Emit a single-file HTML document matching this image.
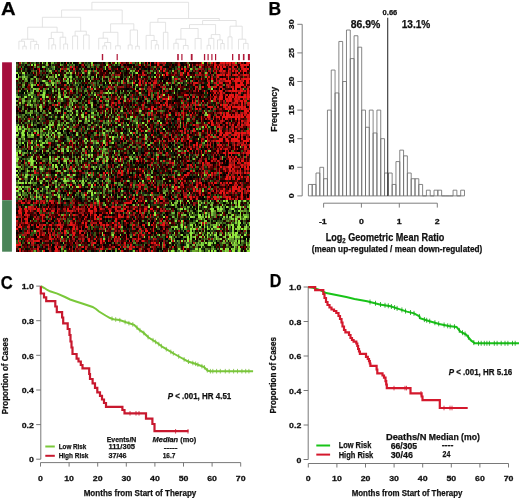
<!DOCTYPE html>
<html><head><meta charset="utf-8"><style>
html,body{margin:0;padding:0;background:#fff;overflow:hidden;}
svg{display:block;filter:blur(0.3px);}
svg text{font-family:"Liberation Sans",sans-serif;font-weight:bold;stroke:#111;stroke-width:0.25px;}
</style></head><body>
<svg width="520" height="498" viewBox="0 0 520 498">
<rect width="520" height="498" fill="#fff"/>
<path d="M22.8 49.5V46.2H26.2V49.5M18.9 49.5V41.2H24.5V46.2M34.8 49.5V44.5H38.5V49.5M30.7 49.5V41.3H36.7V44.5M21.7 41.2V39.2H33.7V41.3M51.9 49.5V44.8H55.6V49.5M48.8 49.5V38.5H53.7V44.8M63.7 49.5V44.0H67.6V49.5M60.1 49.5V37.2H65.7V44.0M51.3 38.5V32.3H62.9V37.2M27.7 39.2V27.2H57.1V32.3M72.6 49.5V36.0H77.6V49.5M83.6 49.5V35.0H89.1V49.5M75.1 36.0V31.2H86.3V35.0M42.4 27.2V17.3H80.7V31.2M102.8 49.5V45.9H106.5V49.5M104.7 45.9V42.5H110.7V49.5M98.7 49.5V38.2H107.7V42.5M115.6 49.5V45.8H120.3V49.5M103.2 38.2V32.3H117.9V45.8M128.2 49.5V45.0H132.1V49.5M135.7 49.5V46.2H139.3V49.5M130.2 45.0V30.0H137.5V46.2M110.6 32.3V23.8H133.8V30.0M61.6 17.3V10.0H122.2V23.8M155.3 49.5V44.8H158.6V49.5M151.3 49.5V40.5H156.9V44.8M146.1 49.5V35.4H154.1V40.5M163.4 49.5V32.3H167.9V49.5M150.1 35.4V22.3H165.6V32.3M173.8 49.5V43.3H178.2V49.5M183.4 49.5V45.5H188.1V49.5M176.0 43.3V39.2H185.7V45.5M195.1 49.5V38.5H201.1V49.5M180.9 39.2V28.5H198.1V38.5M207.1 49.5V45.3H210.5V49.5M208.8 45.3V38.4H213.8V49.5M220.8 49.5V43.5H224.2V49.5M217.5 49.5V39.9H222.5V43.5M211.3 38.4V34.6H220.0V39.9M189.5 28.5V24.6H215.6V34.6M228.0 49.5V36.9H232.0V49.5M243.6 49.5V43.4H248.1V49.5M238.5 49.5V39.2H245.8V43.4M230.0 36.9V26.2H242.2V39.2M202.6 24.6V20.5H236.1V26.2M157.9 22.3V18.5H219.3V20.5M91.9 10.0V2.3H188.6V18.5" fill="none" stroke="#dcdcdc" stroke-width="0.8"/>
<g fill="#b01838"><rect x="101.8" y="54" width="1.4" height="6.2"/><rect x="116.6" y="54" width="1.2" height="6.2"/><rect x="177.2" y="54" width="1.6" height="6.2"/><rect x="181.3" y="54" width="1.2" height="6.2"/><rect x="190.8" y="54" width="1.8" height="6.2"/><rect x="203.9" y="54" width="1.3" height="6.2"/><rect x="207.5" y="54" width="1.2" height="6.2"/><rect x="211.3" y="54" width="1.2" height="6.2"/><rect x="215.0" y="54" width="1.2" height="6.2"/><rect x="232.0" y="54" width="1.3" height="6.2"/><rect x="238.2" y="54" width="1.6" height="6.2"/><rect x="242.9" y="54" width="1.6" height="6.2"/><rect x="247.9" y="54" width="2.0" height="6.2"/></g>
<rect x="2.1" y="62.3" width="9.8" height="137.9" fill="#a50e3c"/>
<rect x="2.1" y="200.2" width="9.8" height="51.5" fill="#4a8458"/>
<g shape-rendering="crispEdges" fill="none" stroke-width="2" style="filter:blur(0.7px)"><path stroke="rgb(0, 0, 0)" d="M64 63h1.5m7.5 0h3m19.5 0h1.5m6 0h1.5m4.5 0h1.5m37.5 0h1.5m1.5 0h3m27 0h1.5m61.5 0h1.5M32.5 65h1.5m15 0h1.5m24 0h1.5m3 0h1.5m3 0h1.5m19.5 0h1.5m13.5 0h1.5m3 0h1.5m1.5 0h1.5m1.5 0h1.5m1.5 0h1.5m6 0h1.5m9 0h3m1.5 0h1.5m15 0h1.5m7.5 0h3m1.5 0h1.5m51 0h1.5M59.5 67h1.5m13.5 0h1.5m3 0h1.5m4.5 0h1.5m31.5 0h1.5m22.5 0h1.5m22.5 0h3m13.5 0h1.5m1.5 0h1.5m3 0h1.5m55.5 0h1.5M23.5 69h1.5m9 0h3m3 0h3m1.5 0h1.5m25.5 0h1.5m18 0h1.5m45 0h1.5m4.5 0h3m1.5 0h1.5m9 0h1.5m13.5 0h1.5m48 0h1.5m15 0h1.5m7.5 0h1.5M28 71h3m72 0h3m1.5 0h1.5m10.5 0h1.5m4.5 0h1.5m12 0h1.5m40.5 0h3m15 0h1.5M28 73h1.5m16.5 0h1.5m7.5 0h1.5m69 0h1.5m34.5 0h1.5m22.5 0h1.5m3 0h1.5m19.5 0h1.5m21 0h1.5m1.5 0h1.5m6 0h1.5M16 75h1.5m1.5 0h1.5m12 0h1.5m7.5 0h1.5m7.5 0h1.5m7.5 0h1.5m12 0h1.5m7.5 0h1.5m9 0h1.5m39 0h1.5m12 0h1.5m6 0h1.5m9 0h1.5m64.5 0h1.5M16 77h1.5m13.5 0h1.5m4.5 0h1.5m19.5 0h1.5m1.5 0h1.5m10.5 0h1.5m15 0h1.5m3 0h1.5m1.5 0h1.5m54 0h1.5m7.5 0h1.5m3 0h1.5m1.5 0h1.5m28.5 0h1.5m9 0h1.5m10.5 0h1.5M28 79h1.5m15 0h1.5m22.5 0h1.5m28.5 0h1.5m6 0h1.5m13.5 0h1.5m30 0h1.5m6 0h3m3 0h1.5m1.5 0h1.5m15 0h1.5m4.5 0h1.5M28 81h1.5m24 0h1.5m24 0h1.5m31.5 0h1.5m6 0h1.5m16.5 0h1.5m9 0h1.5m13.5 0h1.5m3 0h1.5m19.5 0h1.5m6 0h1.5M20.5 83h1.5m4.5 0h1.5m9 0h1.5m1.5 0h1.5m22.5 0h1.5m3 0h1.5m28.5 0h1.5m3 0h1.5m3 0h1.5m27 0h1.5m3 0h1.5m21 0h1.5m18 0h1.5m39 0h1.5M35.5 85h1.5m16.5 0h1.5m1.5 0h1.5m24 0h1.5m1.5 0h1.5m16.5 0h1.5m15 0h1.5m51 0h1.5m7.5 0h1.5m18 0h1.5m1.5 0h1.5m4.5 0h1.5m22.5 0h1.5M25 87h1.5m7.5 0h3m46.5 0h3m46.5 0h1.5m21 0h1.5m1.5 0h1.5m13.5 0h1.5m10.5 0h1.5m36 0h1.5M53.5 89h1.5m4.5 0h1.5m52.5 0h1.5m10.5 0h3m7.5 0h3m21 0h1.5m31.5 0h1.5m18 0h1.5m1.5 0h1.5m3 0h1.5m9 0h1.5m4.5 0h1.5M20.5 91h1.5m1.5 0h1.5m21 0h1.5m25.5 0h1.5m19.5 0h1.5m22.5 0h1.5m13.5 0h1.5m9 0h1.5m30 0h1.5m12 0h1.5m18 0h1.5m13.5 0h1.5M22 93h1.5m1.5 0h1.5m13.5 0h1.5m4.5 0h1.5m9 0h1.5m3 0h1.5m27 0h1.5m55.5 0h1.5m19.5 0h1.5m22.5 0h1.5m7.5 0h1.5m24 0h1.5M17.5 95h1.5m16.5 0h1.5m28.5 0h1.5m10.5 0h1.5m3 0h3m37.5 0h1.5m13.5 0h1.5m49.5 0h1.5m18 0h1.5m1.5 0h1.5m28.5 0h1.5M20.5 97h1.5m7.5 0h1.5m9 0h1.5m28.5 0h1.5m13.5 0h1.5m19.5 0h1.5m12 0h1.5m6 0h1.5m13.5 0h1.5m10.5 0h1.5m19.5 0h1.5m13.5 0h1.5m3 0h1.5m3 0h1.5M16 99h1.5m7.5 0h1.5m21 0h1.5m52.5 0h1.5m39 0h1.5m12 0h1.5m18 0h1.5m7.5 0h1.5M55 101h1.5m22.5 0h1.5m12 0h3m18 0h3m3 0h3m15 0h4.5m3 0h1.5m4.5 0h1.5m6 0h1.5m3 0h1.5m9 0h1.5m13.5 0h3m9 0h1.5m1.5 0h1.5M46 103h1.5m7.5 0h1.5m28.5 0h1.5m7.5 0h1.5m57 0h1.5m6 0h1.5m6 0h1.5m3 0h1.5M23.5 105h1.5m36 0h1.5m34.5 0h1.5m18 0h1.5m12 0h1.5m13.5 0h1.5m12 0h1.5m28.5 0h1.5m28.5 0h1.5M20.5 107h1.5m22.5 0h1.5m6 0h1.5m18 0h1.5m21 0h1.5m9 0h1.5m10.5 0h1.5m1.5 0h1.5m13.5 0h1.5m18 0h1.5m37.5 0h1.5m10.5 0h1.5m9 0h1.5m28.5 0h1.5M19 109h1.5m7.5 0h1.5m13.5 0h3m4.5 0h1.5m1.5 0h1.5m6 0h1.5m36 0h1.5m78 0h1.5m9 0h1.5m12 0h1.5m4.5 0h1.5m21 0h1.5M16 111h1.5m6 0h1.5m7.5 0h1.5m18 0h1.5m10.5 0h1.5m16.5 0h1.5m1.5 0h1.5m31.5 0h1.5m6 0h1.5m4.5 0h1.5m13.5 0h1.5m4.5 0h1.5m15 0h1.5m7.5 0h3m34.5 0h1.5m21 0h1.5M19 113h1.5m1.5 0h3m15 0h1.5m10.5 0h1.5m7.5 0h1.5m4.5 0h1.5m19.5 0h1.5m46.5 0h1.5m27 0h1.5m4.5 0h1.5m27 0h3m10.5 0h1.5M58 115h1.5m24 0h1.5m43.5 0h1.5m43.5 0h1.5m24 0h1.5m1.5 0h1.5m27 0h1.5M26.5 117h1.5m6 0h1.5m9 0h1.5m30 0h1.5m9 0h1.5m7.5 0h1.5m3 0h3m42 0h1.5m3 0h1.5m7.5 0h1.5m15 0h1.5m34.5 0h1.5M49 119h1.5m25.5 0h1.5m27 0h1.5m25.5 0h1.5m40.5 0h3m27 0h1.5M16 121h1.5m3 0h1.5m7.5 0h1.5m6 0h1.5m22.5 0h1.5m19.5 0h1.5m9 0h1.5m10.5 0h1.5m13.5 0h1.5m4.5 0h1.5m16.5 0h1.5m6 0h1.5m19.5 0h1.5m25.5 0h1.5m3 0h3m6 0h1.5m10.5 0h1.5m3 0h1.5m6 0h1.5m1.5 0h1.5M32.5 123h1.5m42 0h1.5m3 0h1.5m7.5 0h1.5m36 0h1.5m30 0h1.5m28.5 0h1.5m3 0h1.5m28.5 0h1.5M37 125h1.5m40.5 0h1.5m31.5 0h1.5m34.5 0h1.5m19.5 0h1.5m3 0h1.5m1.5 0h1.5m42 0h1.5m3 0h1.5m13.5 0h1.5M17.5 127h1.5m15 0h1.5m1.5 0h3m3 0h1.5m3 0h1.5m1.5 0h1.5m3 0h1.5m46.5 0h1.5m13.5 0h1.5m33 0h1.5m9 0h3m24 0h1.5m1.5 0h1.5m16.5 0h1.5m15 0h1.5m16.5 0h1.5M38.5 129h1.5m36 0h1.5m36 0h1.5m3 0h3m1.5 0h1.5m1.5 0h1.5m39 0h1.5m3 0h1.5m7.5 0h1.5m1.5 0h1.5m6 0h1.5m3 0h1.5m21 0h1.5m15 0h1.5m10.5 0h1.5M56.5 131h1.5m3 0h1.5m4.5 0h1.5m51 0h1.5m3 0h3m6 0h1.5m22.5 0h1.5m4.5 0h1.5m6 0h1.5m16.5 0h1.5m10.5 0h1.5m10.5 0h1.5m7.5 0h1.5M25 133h1.5m9 0h1.5m1.5 0h1.5m21 0h1.5m4.5 0h1.5m4.5 0h1.5m7.5 0h1.5m3 0h1.5m3 0h1.5m4.5 0h1.5m24 0h1.5m13.5 0h1.5m3 0h1.5m13.5 0h1.5m21 0h1.5m10.5 0h1.5M19 135h1.5m4.5 0h1.5m40.5 0h3m13.5 0h1.5m1.5 0h1.5m24 0h1.5m1.5 0h1.5m33 0h1.5m52.5 0h1.5m7.5 0h1.5m3 0h1.5m3 0h1.5M25 137h1.5m10.5 0h1.5m4.5 0h1.5m6 0h1.5m24 0h1.5m10.5 0h1.5m79.5 0h1.5m24 0h3m33 0h1.5m7.5 0h1.5M29.5 139h3m10.5 0h1.5m10.5 0h1.5m6 0h3m22.5 0h1.5m61.5 0h1.5m12 0h1.5m13.5 0h1.5M43 141h1.5m18 0h1.5m16.5 0h1.5m42 0h1.5m27 0h1.5m24 0h1.5m7.5 0h1.5m4.5 0h1.5m4.5 0h1.5M25 143h1.5m6 0h1.5m73.5 0h1.5m4.5 0h1.5m3 0h1.5m28.5 0h1.5m19.5 0h1.5m1.5 0h1.5m19.5 0h3m9 0h1.5m7.5 0h1.5m31.5 0h1.5M22 145h1.5m19.5 0h1.5m1.5 0h1.5m3 0h1.5m24 0h1.5m25.5 0h1.5m9 0h1.5m19.5 0h1.5m9 0h1.5m24 0h1.5m3 0h1.5m37.5 0h1.5M19 147h1.5m12 0h1.5m19.5 0h1.5m4.5 0h1.5m19.5 0h1.5m1.5 0h1.5m7.5 0h1.5m36 0h1.5m16.5 0h1.5m10.5 0h1.5m7.5 0h1.5m10.5 0h1.5m21 0h1.5m25.5 0h1.5M37 149h1.5m12 0h3m79.5 0h1.5m12 0h1.5m13.5 0h1.5m3 0h1.5m33 0h1.5m3 0h1.5m3 0h1.5m19.5 0h1.5M25 151h1.5m1.5 0h3m9 0h1.5m22.5 0h1.5m3 0h1.5m16.5 0h1.5m1.5 0h1.5m1.5 0h1.5m22.5 0h1.5m10.5 0h1.5m19.5 0h1.5m3 0h1.5m34.5 0h1.5m10.5 0h1.5m18 0h3m4.5 0h1.5m6 0h3M38.5 153h1.5m4.5 0h1.5m4.5 0h1.5m6 0h1.5m7.5 0h1.5m18 0h1.5m4.5 0h1.5m4.5 0h1.5m12 0h1.5m18 0h1.5m1.5 0h3m3 0h3m19.5 0h1.5m9 0h1.5m10.5 0h1.5M25 155h1.5m15 0h1.5m1.5 0h3m3 0h1.5m3 0h1.5m19.5 0h1.5m33 0h1.5m9 0h1.5m3 0h1.5m24 0h1.5m21 0h1.5m30 0h1.5m15 0h1.5m6 0h1.5m1.5 0h1.5m10.5 0h1.5M22 157h1.5m19.5 0h1.5m3 0h1.5m10.5 0h1.5m7.5 0h1.5m48 0h1.5m3 0h1.5m18 0h1.5m15 0h1.5m1.5 0h1.5m1.5 0h1.5m33 0h1.5m3 0h1.5m4.5 0h1.5m6 0h1.5M20.5 159h1.5m12 0h1.5m12 0h1.5m9 0h1.5m24 0h1.5m3 0h1.5m1.5 0h1.5m6 0h1.5m37.5 0h1.5m19.5 0h1.5m4.5 0h1.5m6 0h1.5m6 0h1.5m9 0h1.5m6 0h1.5m7.5 0h1.5m9 0h1.5m4.5 0h3M22 161h1.5m36 0h1.5m22.5 0h1.5m9 0h1.5m13.5 0h1.5m6 0h1.5m15 0h1.5m24 0h1.5m48 0h1.5m13.5 0h1.5m1.5 0h1.5M20.5 163h1.5m12 0h1.5m10.5 0h1.5m4.5 0h1.5m1.5 0h1.5m3 0h3m4.5 0h1.5m3 0h1.5m25.5 0h3m6 0h1.5m3 0h1.5m16.5 0h1.5m1.5 0h1.5m4.5 0h1.5m46.5 0h4.5m3 0h1.5m30 0h1.5m7.5 0h1.5M70 165h1.5m9 0h1.5m10.5 0h1.5m19.5 0h1.5m7.5 0h1.5m13.5 0h1.5m4.5 0h1.5m55.5 0h1.5m10.5 0h1.5m10.5 0h3M37 167h1.5m19.5 0h1.5m51 0h1.5m1.5 0h1.5m7.5 0h1.5m10.5 0h1.5m4.5 0h1.5m6 0h1.5m16.5 0h1.5m13.5 0h3M28 169h4.5m22.5 0h1.5m3 0h1.5m4.5 0h1.5m7.5 0h1.5m4.5 0h1.5m7.5 0h3m12 0h1.5m91.5 0h1.5M17.5 171h1.5m3 0h3m4.5 0h1.5m19.5 0h1.5m1.5 0h1.5m27 0h1.5m4.5 0h1.5m6 0h1.5m16.5 0h1.5m16.5 0h1.5m21 0h3m28.5 0h3m7.5 0h1.5M29.5 173h1.5m19.5 0h4.5m10.5 0h1.5m3 0h1.5m6 0h1.5m21 0h1.5m30 0h1.5m4.5 0h1.5m6 0h1.5m10.5 0h1.5m10.5 0h1.5m12 0h3m40.5 0h1.5M59.5 175h1.5m19.5 0h1.5m24 0h1.5m3 0h1.5m16.5 0h4.5m4.5 0h1.5m3 0h1.5m7.5 0h1.5m67.5 0h1.5m1.5 0h3m12 0h1.5M28 177h1.5m9 0h1.5m36 0h1.5m6 0h1.5m25.5 0h1.5m9 0h3m1.5 0h1.5m28.5 0h1.5m3 0h1.5m4.5 0h1.5m7.5 0h1.5m13.5 0h1.5m1.5 0h1.5m3 0h1.5m10.5 0h1.5m1.5 0h1.5m1.5 0h1.5M34 179h1.5m19.5 0h1.5m33 0h1.5m7.5 0h3m21 0h1.5m7.5 0h1.5m4.5 0h1.5m21 0h1.5m9 0h1.5m13.5 0h1.5m3 0h1.5m39 0h1.5M23.5 181h1.5m3 0h1.5m21 0h1.5m22.5 0h1.5m7.5 0h1.5m7.5 0h1.5m9 0h1.5m12 0h1.5m13.5 0h1.5m10.5 0h1.5m19.5 0h1.5m4.5 0h1.5m13.5 0h1.5m4.5 0h1.5m7.5 0h1.5m37.5 0h1.5M37 183h1.5m7.5 0h1.5m21 0h1.5m9 0h1.5m15 0h1.5m1.5 0h3m3 0h1.5m4.5 0h3m7.5 0h1.5m4.5 0h1.5m9 0h1.5m7.5 0h1.5m4.5 0h1.5m1.5 0h1.5m9 0h1.5m34.5 0h1.5m1.5 0h1.5M19 185h1.5m3 0h1.5m28.5 0h1.5m37.5 0h1.5m1.5 0h1.5m51 0h1.5m18 0h1.5m6 0h1.5m1.5 0h1.5m4.5 0h1.5m7.5 0h1.5m12 0h1.5m6 0h1.5m1.5 0h1.5M32.5 187h3m16.5 0h3m28.5 0h1.5m24 0h1.5m4.5 0h1.5m1.5 0h1.5m40.5 0h1.5m6 0h1.5m37.5 0h1.5m3 0h1.5m12 0h1.5m1.5 0h1.5m7.5 0h1.5M47.5 189h1.5m10.5 0h1.5m4.5 0h1.5m13.5 0h1.5m3 0h1.5m4.5 0h1.5m30 0h4.5m7.5 0h1.5m33 0h1.5m33 0h1.5m22.5 0h1.5m16.5 0h1.5M25 191h1.5m4.5 0h1.5m6 0h1.5m4.5 0h1.5m30 0h1.5m3 0h3m9 0h1.5m21 0h1.5m3 0h1.5m9 0h1.5m7.5 0h1.5m33 0h1.5m67.5 0h1.5M20.5 193h1.5m4.5 0h1.5m12 0h1.5m21 0h3m7.5 0h1.5m57 0h3m22.5 0h1.5m52.5 0h1.5M62.5 195h1.5m1.5 0h1.5m4.5 0h3m4.5 0h1.5m9 0h1.5m9 0h1.5m7.5 0h1.5m4.5 0h1.5m18 0h1.5m27 0h1.5m16.5 0h1.5m22.5 0h1.5m9 0h1.5m25.5 0h1.5m3 0h1.5M41.5 197h1.5m37.5 0h1.5m52.5 0h1.5m13.5 0h1.5m13.5 0h1.5m1.5 0h3m10.5 0h1.5m19.5 0h1.5m43.5 0h1.5M26.5 199h1.5m19.5 0h1.5m7.5 0h1.5m3 0h1.5m16.5 0h1.5m27 0h1.5m9 0h1.5m1.5 0h1.5m7.5 0h1.5m27 0h1.5m9 0h1.5m6 0h1.5m24 0h3M23.5 201h1.5m37.5 0h1.5m1.5 0h3m12 0h1.5m9 0h1.5m7.5 0h3m1.5 0h1.5m27 0h1.5m1.5 0h1.5m22.5 0h1.5m10.5 0h3m10.5 0h1.5m6 0h1.5m24 0h1.5m7.5 0h1.5M53.5 203h1.5m19.5 0h1.5m28.5 0h1.5m25.5 0h1.5m45 0h1.5m43.5 0h1.5m12 0h1.5M20.5 205h1.5m1.5 0h1.5m12 0h1.5m7.5 0h1.5m13.5 0h1.5m67.5 0h1.5m36 0h1.5m7.5 0h1.5m3 0h1.5m4.5 0h1.5m30 0h1.5m7.5 0h1.5m4.5 0h1.5m7.5 0h1.5M20.5 207h1.5m33 0h1.5m15 0h1.5m28.5 0h1.5m46.5 0h1.5m15 0h1.5m4.5 0h1.5m4.5 0h1.5m13.5 0h1.5m6 0h1.5m10.5 0h1.5m10.5 0h1.5M97 209h1.5m6 0h1.5m19.5 0h1.5m31.5 0h1.5m13.5 0h1.5m7.5 0h1.5m12 0h1.5m16.5 0h1.5m9 0h3M55 211h1.5m57 0h1.5m18 0h1.5m40.5 0h1.5m6 0h1.5m9 0h1.5m31.5 0h1.5m4.5 0h1.5M16 213h1.5m6 0h1.5m12 0h1.5m21 0h1.5m12 0h1.5m21 0h3m9 0h1.5m28.5 0h1.5m27 0h1.5m7.5 0h1.5m9 0h1.5m7.5 0h1.5m3 0h1.5m16.5 0h1.5m7.5 0h1.5m10.5 0h1.5M88 215h1.5m7.5 0h1.5m4.5 0h3m6 0h1.5m10.5 0h1.5m13.5 0h1.5m4.5 0h1.5m16.5 0h1.5m1.5 0h1.5m19.5 0h1.5m12 0h1.5m25.5 0h1.5M23.5 217h1.5m4.5 0h1.5m40.5 0h1.5m15 0h1.5m6 0h1.5m4.5 0h1.5m28.5 0h1.5m84 0h1.5m9 0h1.5M28 219h3m13.5 0h1.5m40.5 0h1.5m15 0h1.5m1.5 0h1.5m16.5 0h1.5m7.5 0h1.5m28.5 0h1.5m25.5 0h3m12 0h1.5m13.5 0h1.5m27 0h1.5M28 221h1.5m16.5 0h1.5m4.5 0h1.5m9 0h1.5m16.5 0h1.5m24 0h1.5m4.5 0h1.5m6 0h1.5m6 0h1.5m10.5 0h1.5m10.5 0h3m30 0h1.5m6 0h1.5m13.5 0h1.5m7.5 0h1.5m30 0h1.5M44.5 223h1.5m3 0h1.5m6 0h1.5m30 0h1.5m18 0h1.5m13.5 0h1.5m4.5 0h1.5m10.5 0h1.5m1.5 0h1.5m6 0h1.5m43.5 0h1.5m43.5 0h1.5M29.5 225h1.5m6 0h1.5m48 0h1.5m4.5 0h1.5m18 0h1.5m9 0h1.5m3 0h1.5m12 0h1.5m43.5 0h1.5m12 0h1.5m22.5 0h1.5m9 0h1.5M68.5 227h3m18 0h1.5m33 0h1.5m1.5 0h1.5m12 0h1.5m3 0h3m1.5 0h3m7.5 0h1.5m40.5 0h1.5m27 0h1.5M19 229h1.5m10.5 0h1.5m21 0h1.5m7.5 0h1.5m18 0h1.5m52.5 0h1.5m27 0h1.5m6 0h1.5m31.5 0h1.5M19 231h3m7.5 0h1.5m13.5 0h1.5m45 0h1.5m4.5 0h1.5m28.5 0h1.5m15 0h1.5m10.5 0h1.5m1.5 0h1.5m24 0h1.5m6 0h1.5m1.5 0h1.5m12 0h1.5m12 0h1.5m12 0h1.5m4.5 0h1.5m4.5 0h1.5M16 233h1.5m33 0h1.5m30 0h1.5m4.5 0h1.5m15 0h1.5m21 0h1.5m18 0h1.5m3 0h1.5m7.5 0h1.5m19.5 0h1.5m55.5 0h1.5M47.5 235h1.5m13.5 0h1.5m3 0h1.5m16.5 0h1.5m10.5 0h1.5m18 0h3m7.5 0h1.5m21 0h1.5m52.5 0h1.5m12 0h1.5M20.5 237h1.5m12 0h1.5m27 0h1.5m55.5 0h1.5m6 0h1.5m6 0h1.5m10.5 0h1.5m7.5 0h1.5m7.5 0h1.5m7.5 0h1.5m6 0h1.5m6 0h1.5m22.5 0h1.5m4.5 0h1.5M16 239h1.5m67.5 0h1.5m78 0h3m7.5 0h6m3 0h1.5m7.5 0h1.5m45 0h1.5m3 0h1.5m1.5 0h1.5M40 241h1.5m33 0h1.5m34.5 0h1.5m15 0h1.5m1.5 0h1.5m27 0h1.5m1.5 0h1.5m4.5 0h1.5m46.5 0h1.5m10.5 0h1.5M20.5 243h1.5m7.5 0h1.5m4.5 0h3m22.5 0h1.5m10.5 0h1.5m12 0h1.5m9 0h3m6 0h1.5m1.5 0h1.5m3 0h1.5m10.5 0h1.5m10.5 0h1.5m1.5 0h1.5m18 0h1.5m30 0h1.5m19.5 0h1.5m3 0h1.5m21 0h1.5M26.5 245h1.5m24 0h1.5m45 0h1.5m3 0h1.5m6 0h1.5m1.5 0h1.5m30 0h1.5m3 0h1.5m15 0h1.5m4.5 0h1.5m9 0h1.5m28.5 0h1.5M19 247h1.5m15 0h1.5m4.5 0h1.5m9 0h1.5m3 0h1.5m7.5 0h3m27 0h3m6 0h1.5m12 0h1.5m46.5 0h3m4.5 0h1.5m34.5 0h1.5M38.5 249h1.5m13.5 0h1.5m4.5 0h1.5m12 0h1.5m7.5 0h1.5m36 0h1.5m1.5 0h1.5m12 0h1.5m19.5 0h1.5m1.5 0h1.5m67.5 0h1.5m12 0h1.5M17.5 251h1.5m25.5 0h3m45 0h1.5m9 0h1.5m3 0h3m1.5 0h1.5m43.5 0h1.5m3 0h1.5m24 0h1.5m15 0h1.5m12 0h1.5"/><path stroke="rgb(0, 21, 0)" d="M61 63h1.5m4.5 0h1.5m72 0h1.5m24 0h1.5m12 0h1.5M76 65h1.5m88.5 0h1.5M25 67h1.5m21 0h1.5m66 0h1.5m57 0h1.5M17.5 69h1.5m39 0h1.5m34.5 0h1.5m10.5 0h1.5m18 0h1.5m13.5 0h1.5m37.5 0h1.5m7.5 0h1.5M191.5 71h1.5M140.5 73h1.5m10.5 0h1.5M29.5 77h1.5m112.5 0h1.5m15 0h1.5M190 79h1.5m13.5 0h1.5M82 81h1.5m46.5 0h1.5m72 0h1.5M26.5 85h1.5m42 0h1.5m115.5 0h1.5m7.5 0h1.5M77.5 87h1.5M41.5 89h1.5m6 0h1.5m153 0h1.5M22 91h1.5m24 0h1.5m64.5 0h1.5m24 0h1.5m22.5 0h1.5m13.5 0h1.5m12 0h1.5M19 93h3m13.5 0h1.5m108 0h1.5m22.5 0h1.5M52 95h1.5m174 0h1.5M139 99h1.5m60 0h1.5M16 103h1.5m21 0h1.5m36 0h1.5m102 0h1.5M65.5 105h1.5M58 107h1.5M29.5 109h1.5m21 0h1.5m96 0h1.5m10.5 0h1.5M226 111h1.5m13.5 0h1.5M38.5 113h1.5m55.5 0h1.5m90 0h1.5M25 115h1.5m4.5 0h1.5M58 117h1.5M52 119h1.5m60 0h1.5M184 121h1.5M124 123h1.5M23.5 125h1.5m156 0h1.5M64 127h1.5m123 0h1.5m13.5 0h1.5m1.5 0h1.5M47.5 129h1.5m51 0h1.5m9 0h1.5m18 0h1.5m96 0h1.5M53.5 131h1.5M154 133h1.5M44.5 135h1.5m27 0h1.5m58.5 0h1.5m1.5 0h1.5m21 0h1.5M193 137h1.5M151 141h1.5M38.5 143h1.5m76.5 0h1.5M20.5 145h1.5m145.5 0h1.5M179.5 147h1.5M115 149h1.5m63 0h1.5M55 151h1.5m109.5 0h1.5M94 153h1.5m75 0h1.5m15 0h1.5M40 155h1.5m91.5 0h1.5m102 0h1.5M238 157h1.5M125.5 159h1.5m33 0h3M58 165h1.5m45 0h1.5m39 0h1.5M175 167h1.5M97 171h1.5m1.5 0h1.5m48 0h1.5m60 0h1.5M16 173h1.5m58.5 0h1.5m18 0h1.5M58 175h1.5M131.5 177h1.5M115 179h1.5m72 0h1.5m45 0h1.5M172 181h1.5M76 183h1.5m91.5 0h1.5M40 185h1.5m15 0h1.5m1.5 0h1.5m24 0h1.5M112 187h1.5M38.5 189h1.5m27 0h1.5m84 0h1.5m1.5 0h1.5M100 191h1.5m82.5 0h1.5M53.5 193h1.5M68.5 195h1.5m57 0h1.5m90 0h1.5M41.5 199h1.5m12 0h1.5m24 0h1.5m64.5 0h1.5M110.5 201h1.5m96 0h1.5M148 203h1.5m37.5 0h1.5M25 205h1.5M190 207h1.5M65.5 209h1.5m70.5 0h1.5m36 0h1.5m15 0h1.5m42 0h1.5M106 211h1.5m27 0h1.5M224.5 213h1.5M191.5 215h1.5m13.5 0h1.5M31 217h1.5m162 0h1.5M101.5 219h1.5m40.5 0h1.5m7.5 0h1.5m33 0h1.5M23.5 221h1.5m172.5 0h1.5m12 0h1.5M47.5 223h1.5m30 0h1.5M239.5 225h1.5m1.5 0h1.5M46 227h1.5m174 0h1.5M92.5 229h1.5m61.5 0h1.5m22.5 0h1.5m1.5 0h1.5M176.5 231h1.5M182.5 233h1.5m25.5 0h1.5m36 0h1.5M121 235h1.5m48 0h1.5m10.5 0h1.5M242.5 237h1.5m1.5 0h1.5M74.5 239h1.5m45 0h1.5M23.5 241h1.5m79.5 0h1.5m63 0h1.5m36 0h1.5M107.5 243h1.5m106.5 0h1.5M62.5 245h1.5m117 0h1.5M214 247h1.5M83.5 249h1.5m64.5 0h1.5M95.5 251h1.5"/><path stroke="rgb(21, 0, 0)" d="M35.5 63h1.5m3 0h1.5m3 0h1.5m1.5 0h3m25.5 0h1.5m15 0h3m21 0h1.5m7.5 0h1.5m18 0h1.5m24 0h1.5m16.5 0h1.5m3 0h3m7.5 0h3m10.5 0h1.5M25 65h1.5m31.5 0h1.5m69 0h1.5m30 0h1.5m13.5 0h1.5m13.5 0h1.5m21 0h1.5M20.5 67h1.5m1.5 0h1.5m1.5 0h1.5m3 0h1.5m7.5 0h1.5m36 0h1.5m21 0h1.5m18 0h1.5m7.5 0h3m1.5 0h1.5m4.5 0h1.5m3 0h1.5m3 0h1.5m13.5 0h3m6 0h1.5m6 0h1.5m16.5 0h1.5m4.5 0h1.5m10.5 0h1.5m18 0h1.5M28 69h1.5m25.5 0h1.5m21 0h1.5m1.5 0h1.5m1.5 0h1.5m33 0h1.5m3 0h1.5m12 0h1.5m31.5 0h3m10.5 0h1.5m42 0h1.5M26.5 71h1.5m25.5 0h1.5m6 0h1.5m13.5 0h1.5m1.5 0h1.5m28.5 0h1.5m4.5 0h1.5m45 0h1.5m4.5 0h1.5m37.5 0h1.5M91 73h1.5m15 0h1.5m1.5 0h1.5m4.5 0h1.5m6 0h1.5m12 0h3m52.5 0h1.5m22.5 0h1.5M53.5 75h1.5m16.5 0h1.5m6 0h1.5m4.5 0h1.5m4.5 0h1.5m4.5 0h1.5m3 0h1.5m18 0h1.5m1.5 0h1.5m3 0h1.5m6 0h1.5m48 0h1.5m22.5 0h1.5M40 77h1.5m3 0h1.5m73.5 0h3m13.5 0h1.5m7.5 0h1.5m9 0h1.5m27 0h1.5m34.5 0h1.5m12 0h1.5M20.5 79h1.5m24 0h1.5m13.5 0h1.5m9 0h1.5m13.5 0h1.5m1.5 0h1.5m25.5 0h1.5m1.5 0h1.5m3 0h1.5m10.5 0h1.5m27 0h1.5m15 0h1.5m27 0h1.5M68.5 81h1.5m15 0h1.5m1.5 0h1.5m6 0h1.5m3 0h1.5m9 0h1.5m48 0h1.5m3 0h1.5m3 0h1.5m6 0h1.5m16.5 0h1.5m9 0h1.5m3 0h1.5M41.5 83h1.5m18 0h3m42 0h1.5m12 0h1.5m4.5 0h1.5m7.5 0h1.5m10.5 0h1.5m3 0h1.5m6 0h1.5m31.5 0h1.5M25 85h1.5m24 0h1.5m10.5 0h1.5m15 0h1.5m7.5 0h1.5m6 0h1.5m15 0h1.5m16.5 0h1.5m15 0h1.5m13.5 0h1.5m6 0h1.5m3 0h1.5m27 0h1.5m7.5 0h1.5m12 0h1.5m4.5 0h1.5M17.5 87h1.5m1.5 0h1.5m10.5 0h1.5m3 0h1.5m4.5 0h3m6 0h1.5m6 0h3m37.5 0h1.5m24 0h1.5m30 0h1.5m7.5 0h1.5m25.5 0h1.5m9 0h1.5m12 0h1.5m27 0h1.5M22 89h1.5m51 0h1.5m24 0h3m21 0h1.5m49.5 0h1.5m28.5 0h1.5m31.5 0h1.5M28 91h1.5m4.5 0h1.5m3 0h1.5m16.5 0h1.5m9 0h1.5m6 0h1.5m6 0h1.5m13.5 0h1.5m12 0h1.5m9 0h1.5m24 0h1.5m21 0h1.5m10.5 0h1.5m16.5 0h3M34 93h1.5m18 0h3m18 0h1.5m9 0h1.5m6 0h1.5m24 0h1.5m7.5 0h1.5m3 0h1.5m19.5 0h1.5m24 0h1.5m6 0h3m13.5 0h1.5m4.5 0h3m4.5 0h1.5m10.5 0h3m3 0h1.5m1.5 0h1.5m4.5 0h1.5M53.5 95h1.5m16.5 0h1.5m31.5 0h1.5m3 0h1.5m1.5 0h3m31.5 0h1.5m10.5 0h1.5m13.5 0h1.5m7.5 0h1.5m49.5 0h1.5M61 97h1.5m18 0h1.5m4.5 0h1.5m6 0h1.5m52.5 0h1.5m37.5 0h1.5m18 0h1.5m15 0h1.5M44.5 99h1.5m4.5 0h1.5m28.5 0h1.5m1.5 0h1.5m1.5 0h1.5m37.5 0h1.5m22.5 0h1.5m1.5 0h1.5m24 0h1.5m19.5 0h1.5m3 0h1.5m3 0h1.5m13.5 0h1.5M65.5 101h1.5m10.5 0h1.5m96 0h4.5m25.5 0h3M25 103h1.5m27 0h1.5m6 0h3m22.5 0h1.5m7.5 0h1.5m1.5 0h3m3 0h1.5m3 0h1.5m19.5 0h1.5m1.5 0h1.5m6 0h1.5m46.5 0h1.5m31.5 0h1.5m6 0h1.5m12 0h1.5M32.5 105h1.5m12 0h1.5m3 0h1.5m31.5 0h1.5m3 0h1.5m3 0h1.5m27 0h1.5m4.5 0h1.5m10.5 0h1.5m7.5 0h1.5m18 0h1.5m39 0h1.5m18 0h1.5M28 107h1.5m3 0h1.5m12 0h3m40.5 0h1.5m1.5 0h1.5m21 0h1.5m33 0h1.5m27 0h1.5m16.5 0h1.5m21 0h1.5m10.5 0h1.5m15 0h1.5M16 109h1.5m6 0h1.5m9 0h1.5m33 0h1.5m6 0h1.5m19.5 0h1.5m10.5 0h1.5m12 0h3m40.5 0h1.5m7.5 0h1.5M37 111h3m1.5 0h1.5m3 0h1.5m1.5 0h1.5m10.5 0h1.5m16.5 0h1.5m31.5 0h1.5m9 0h3m3 0h1.5m12 0h1.5m40.5 0h1.5m6 0h1.5m31.5 0h1.5M73 113h1.5m4.5 0h1.5m9 0h1.5m7.5 0h1.5m9 0h1.5m6 0h1.5m40.5 0h1.5m12 0h1.5m16.5 0h1.5M32.5 115h1.5m25.5 0h1.5m37.5 0h1.5m1.5 0h3m6 0h1.5m1.5 0h1.5m4.5 0h1.5m24 0h1.5m10.5 0h3m1.5 0h1.5m9 0h1.5m39 0h1.5M23.5 117h1.5m45 0h1.5m42 0h1.5m13.5 0h1.5m10.5 0h1.5m22.5 0h1.5m13.5 0h1.5m15 0h1.5M46 119h1.5m10.5 0h3m34.5 0h1.5m66 0h1.5m19.5 0h1.5m10.5 0h1.5m16.5 0h1.5m7.5 0h1.5m7.5 0h1.5m3 0h1.5M67 121h1.5m21 0h1.5m30 0h1.5m1.5 0h1.5m1.5 0h1.5m12 0h1.5m7.5 0h1.5m4.5 0h1.5m4.5 0h3m3 0h1.5m12 0h1.5m12 0h1.5M22 123h1.5m6 0h1.5m19.5 0h1.5m1.5 0h1.5m9 0h1.5m16.5 0h1.5m4.5 0h1.5m6 0h1.5m3 0h1.5m9 0h1.5m18 0h1.5m6 0h1.5m22.5 0h3m4.5 0h1.5m13.5 0h1.5m9 0h1.5m13.5 0h1.5m19.5 0h1.5m7.5 0h1.5M20.5 125h1.5m10.5 0h1.5m4.5 0h3m4.5 0h1.5m15 0h1.5m7.5 0h1.5m9 0h4.5m4.5 0h1.5m24 0h1.5m10.5 0h1.5m28.5 0h1.5m10.5 0h1.5m36 0h3m24 0h1.5M25 127h1.5m3 0h1.5m46.5 0h1.5m6 0h1.5m10.5 0h1.5m7.5 0h1.5m3 0h1.5m1.5 0h1.5m19.5 0h1.5m12 0h1.5m7.5 0h3m15 0h1.5m4.5 0h1.5m30 0h1.5m10.5 0h1.5m7.5 0h1.5M85 129h1.5m3 0h1.5m3 0h1.5m46.5 0h1.5m31.5 0h1.5m36 0h1.5m25.5 0h1.5m3 0h1.5M38.5 131h1.5m19.5 0h1.5m7.5 0h1.5m18 0h1.5m42 0h1.5m10.5 0h1.5m6 0h1.5m9 0h1.5m13.5 0h1.5m4.5 0h1.5m1.5 0h1.5m12 0h1.5M29.5 133h1.5m1.5 0h1.5m21 0h1.5m18 0h1.5m3 0h1.5m45 0h1.5m24 0h1.5m36 0h1.5m4.5 0h1.5M62.5 135h1.5m15 0h1.5m66 0h1.5m24 0h1.5m9 0h1.5m6 0h1.5M19 137h1.5m76.5 0h1.5m3 0h1.5m24 0h1.5m6 0h1.5m4.5 0h1.5m7.5 0h1.5m7.5 0h3m36 0h1.5m33 0h1.5m10.5 0h1.5M110.5 139h1.5m10.5 0h1.5m1.5 0h1.5m6 0h3m18 0h1.5m4.5 0h1.5m7.5 0h1.5m22.5 0h1.5m4.5 0h1.5m4.5 0h1.5m16.5 0h1.5m15 0h1.5m3 0h1.5M20.5 141h1.5m31.5 0h1.5m22.5 0h1.5m42 0h1.5m19.5 0h1.5m22.5 0h1.5m55.5 0h1.5m15 0h1.5M16 143h1.5m19.5 0h1.5m15 0h1.5m9 0h1.5m10.5 0h1.5m21 0h1.5m27 0h3m51 0h1.5m1.5 0h1.5m6 0h1.5m27 0h1.5M25 145h1.5m27 0h1.5m31.5 0h1.5m19.5 0h1.5m3 0h1.5m10.5 0h4.5m22.5 0h1.5m16.5 0h1.5m13.5 0h1.5m12 0h1.5m12 0h1.5m16.5 0h3M20.5 147h1.5m22.5 0h1.5m4.5 0h1.5m3 0h1.5m49.5 0h3m13.5 0h1.5m18 0h1.5m9 0h1.5m18 0h1.5m34.5 0h1.5m4.5 0h1.5m22.5 0h1.5m7.5 0h1.5M26.5 149h1.5m43.5 0h1.5m6 0h1.5m7.5 0h1.5m22.5 0h3m13.5 0h1.5m10.5 0h1.5m12 0h1.5m12 0h1.5m18 0h1.5m3 0h1.5m1.5 0h1.5m19.5 0h1.5M49 151h1.5m9 0h1.5m69 0h1.5m9 0h1.5m10.5 0h1.5m18 0h1.5m1.5 0h1.5m16.5 0h1.5m19.5 0h1.5M17.5 153h1.5m18 0h1.5m1.5 0h1.5m1.5 0h1.5m3 0h1.5m10.5 0h1.5m16.5 0h1.5m51 0h1.5m12 0h1.5m48 0h1.5m15 0h1.5m4.5 0h1.5m1.5 0h1.5M17.5 155h1.5m9 0h1.5m22.5 0h1.5m4.5 0h1.5m1.5 0h1.5m1.5 0h1.5m1.5 0h1.5m4.5 0h1.5m4.5 0h1.5m39 0h1.5m3 0h1.5m10.5 0h1.5m37.5 0h1.5m6 0h1.5m1.5 0h3m31.5 0h1.5m1.5 0h1.5m9 0h1.5M44.5 157h1.5m4.5 0h1.5m18 0h1.5m24 0h1.5m18 0h1.5m15 0h1.5m4.5 0h1.5m1.5 0h1.5m1.5 0h1.5m6 0h1.5m7.5 0h1.5m6 0h1.5m12 0h1.5m24 0h1.5M73 159h1.5m3 0h1.5m30 0h1.5m16.5 0h1.5m19.5 0h1.5m4.5 0h1.5m22.5 0h1.5m1.5 0h1.5m27 0h1.5M35.5 161h1.5m1.5 0h3m58.5 0h1.5m22.5 0h1.5m9 0h1.5m60 0h1.5m4.5 0h3m15 0h1.5m6 0h1.5m7.5 0h1.5M22 163h1.5m13.5 0h1.5m3 0h1.5m10.5 0h1.5m18 0h1.5m34.5 0h1.5m7.5 0h3m15 0h1.5m4.5 0h1.5m1.5 0h1.5m1.5 0h1.5m28.5 0h1.5m33 0h3m7.5 0h1.5M50.5 165h1.5m7.5 0h1.5m1.5 0h1.5m25.5 0h1.5m4.5 0h1.5m13.5 0h1.5m3 0h1.5m42 0h1.5m4.5 0h1.5m1.5 0h1.5m10.5 0h1.5m3 0h1.5m10.5 0h1.5m24 0h3M20.5 167h1.5m24 0h1.5m55.5 0h1.5m31.5 0h1.5m1.5 0h1.5m1.5 0h1.5m1.5 0h1.5m15 0h1.5m49.5 0h1.5m3 0h1.5m21 0h1.5m7.5 0h1.5M16 169h1.5m58.5 0h1.5m19.5 0h1.5m1.5 0h1.5m19.5 0h1.5m3 0h1.5m46.5 0h1.5m66 0h3M20.5 171h1.5m22.5 0h1.5m15 0h1.5m40.5 0h1.5m4.5 0h1.5m15 0h1.5m1.5 0h1.5m10.5 0h1.5m25.5 0h1.5m30 0h1.5m12 0h1.5m7.5 0h1.5m19.5 0h1.5M101.5 173h1.5m1.5 0h1.5m18 0h1.5m3 0h1.5m6 0h1.5m12 0h1.5m1.5 0h1.5m7.5 0h1.5m9 0h1.5m36 0h1.5m12 0h1.5m6 0h1.5M83.5 175h1.5m1.5 0h1.5m27 0h1.5m42 0h1.5m82.5 0h3M20.5 177h1.5m12 0h1.5m24 0h1.5m13.5 0h1.5m4.5 0h1.5m6 0h1.5m3 0h1.5m18 0h1.5m28.5 0h1.5m43.5 0h3M16 179h1.5m34.5 0h1.5m27 0h1.5m12 0h1.5m22.5 0h1.5m6 0h1.5m9 0h1.5m6 0h1.5m7.5 0h1.5m13.5 0h1.5m18 0h1.5m3 0h1.5m4.5 0h1.5m16.5 0h1.5M20.5 181h1.5m12 0h1.5m22.5 0h3m25.5 0h1.5m10.5 0h1.5m18 0h1.5m16.5 0h1.5m28.5 0h1.5m10.5 0h1.5m18 0h1.5m21 0h4.5m19.5 0h1.5M43 183h1.5m4.5 0h1.5m6 0h1.5m27 0h1.5m81 0h1.5m3 0h1.5m39 0h1.5m13.5 0h1.5M25 185h4.5m1.5 0h1.5m13.5 0h1.5m25.5 0h1.5m12 0h1.5m9 0h1.5m28.5 0h3m25.5 0h1.5m58.5 0h1.5m12 0h3m6 0h1.5M49 187h1.5m51 0h1.5m22.5 0h1.5m13.5 0h1.5m9 0h1.5m45 0h1.5M22 189h1.5m7.5 0h1.5m7.5 0h1.5m9 0h3m28.5 0h3m1.5 0h1.5m27 0h1.5m31.5 0h1.5m10.5 0h1.5m3 0h1.5m82.5 0h1.5M61 191h1.5m4.5 0h1.5m16.5 0h1.5m39 0h3m16.5 0h1.5m3 0h3m3 0h1.5m51 0h1.5m4.5 0h1.5M31 193h1.5m18 0h1.5m3 0h1.5m4.5 0h1.5m39 0h1.5m1.5 0h1.5m6 0h1.5m4.5 0h1.5m28.5 0h1.5m10.5 0h1.5m4.5 0h1.5m4.5 0h1.5m6 0h1.5m6 0h1.5m15 0h1.5m16.5 0h1.5m16.5 0h1.5M88 195h1.5m22.5 0h1.5m4.5 0h1.5m4.5 0h1.5m43.5 0h1.5m27 0h1.5m1.5 0h1.5m28.5 0h1.5m6 0h1.5M22 197h1.5m30 0h1.5m7.5 0h1.5m1.5 0h1.5m9 0h1.5m22.5 0h3m3 0h1.5m6 0h3m27 0h3m25.5 0h1.5m25.5 0h1.5m30 0h1.5m12 0h1.5M74.5 199h1.5m24 0h1.5m1.5 0h3m9 0h1.5m6 0h1.5m4.5 0h1.5m13.5 0h1.5m48 0h1.5m4.5 0h3m19.5 0h1.5m15 0h1.5M31 201h1.5m46.5 0h1.5m81 0h1.5m51 0h1.5m16.5 0h1.5M31 203h1.5m49.5 0h1.5m4.5 0h1.5m19.5 0h1.5m7.5 0h3m12 0h3m1.5 0h1.5m1.5 0h3m1.5 0h1.5m25.5 0h1.5m10.5 0h1.5m6 0h1.5m21 0h3m7.5 0h1.5m15 0h1.5M26.5 205h1.5m12 0h1.5m9 0h1.5m3 0h1.5m19.5 0h1.5m30 0h1.5m4.5 0h1.5m1.5 0h1.5m7.5 0h1.5m1.5 0h1.5m15 0h1.5m3 0h1.5m40.5 0h1.5m3 0h1.5m6 0h1.5m3 0h1.5m16.5 0h1.5M37 207h1.5m1.5 0h1.5m7.5 0h1.5m7.5 0h1.5m1.5 0h1.5m16.5 0h1.5m4.5 0h1.5m6 0h1.5m9 0h1.5m4.5 0h1.5m18 0h1.5m7.5 0h1.5m15 0h1.5m13.5 0h1.5m3 0h1.5m10.5 0h1.5m22.5 0h1.5M16 209h1.5m30 0h1.5m19.5 0h1.5m16.5 0h1.5m24 0h1.5m15 0h1.5m40.5 0h1.5m16.5 0h1.5m37.5 0h1.5m18 0h1.5M46 211h1.5m64.5 0h1.5m10.5 0h3m10.5 0h1.5m1.5 0h1.5m15 0h1.5m36 0h1.5m6 0h1.5M76 213h1.5m6 0h1.5m15 0h1.5m15 0h1.5m1.5 0h1.5m30 0h1.5m12 0h1.5m18 0h1.5m58.5 0h1.5m3 0h1.5M22 215h1.5m6 0h1.5m6 0h1.5m6 0h1.5m33 0h1.5m4.5 0h1.5m22.5 0h1.5m3 0h1.5m1.5 0h1.5m16.5 0h1.5m43.5 0h1.5M58 217h1.5m22.5 0h1.5m33 0h1.5m51 0h1.5m25.5 0h1.5m6 0h1.5m16.5 0h1.5M19 219h1.5m10.5 0h1.5m19.5 0h3m10.5 0h1.5m9 0h1.5m3 0h3m25.5 0h1.5m1.5 0h1.5m24 0h1.5m6 0h1.5m24 0h1.5m22.5 0h1.5m16.5 0h1.5M38.5 221h1.5m52.5 0h1.5m24 0h1.5m6 0h1.5m9 0h1.5m10.5 0h1.5m6 0h1.5m4.5 0h1.5m7.5 0h1.5m13.5 0h1.5m36 0h1.5m16.5 0h1.5M31 223h1.5m10.5 0h1.5m9 0h1.5m28.5 0h1.5m12 0h1.5m4.5 0h3m13.5 0h1.5m28.5 0h1.5m16.5 0h1.5m7.5 0h1.5m7.5 0h3m25.5 0h1.5m10.5 0h1.5M17.5 225h1.5m15 0h1.5m42 0h1.5m4.5 0h1.5m13.5 0h1.5m39 0h1.5m4.5 0h1.5m3 0h1.5m19.5 0h1.5m24 0h1.5M31 227h1.5m1.5 0h1.5m7.5 0h1.5m7.5 0h3m9 0h1.5m16.5 0h3m19.5 0h1.5m1.5 0h1.5m7.5 0h1.5m4.5 0h1.5m4.5 0h1.5m36 0h1.5m15 0h1.5m34.5 0h1.5m22.5 0h1.5M35.5 229h1.5m42 0h1.5m4.5 0h1.5m3 0h1.5m34.5 0h1.5m27 0h1.5m4.5 0h1.5m72 0h1.5M61 231h1.5m24 0h1.5m7.5 0h1.5m37.5 0h1.5m12 0h3m6 0h1.5m4.5 0h1.5m34.5 0h1.5m27 0h1.5m19.5 0h1.5M46 233h1.5m30 0h1.5m1.5 0h1.5m24 0h3m7.5 0h1.5m10.5 0h1.5m24 0h1.5m3 0h1.5m12 0h1.5m6 0h1.5m16.5 0h1.5m18 0h1.5M26.5 235h1.5m6 0h1.5m64.5 0h1.5m6 0h1.5m15 0h1.5m28.5 0h1.5m28.5 0h1.5m15 0h1.5m39 0h1.5M35.5 237h1.5m3 0h3m9 0h1.5m12 0h1.5m1.5 0h3m18 0h1.5m31.5 0h1.5m9 0h1.5m33 0h1.5m7.5 0h1.5m19.5 0h1.5m21 0h1.5m25.5 0h3M56.5 239h1.5m18 0h1.5m18 0h1.5m9 0h1.5m4.5 0h1.5m15 0h3m10.5 0h1.5m3 0h1.5m43.5 0h1.5m6 0h1.5m21 0h1.5m19.5 0h1.5M20.5 241h1.5m55.5 0h1.5m6 0h1.5m19.5 0h1.5m31.5 0h1.5m9 0h1.5m45 0h1.5m7.5 0h1.5m30 0h1.5m9 0h1.5M25 243h1.5m33 0h1.5m27 0h1.5m31.5 0h1.5m42 0h1.5m6 0h1.5M53.5 245h1.5m13.5 0h1.5m24 0h1.5m9 0h1.5m1.5 0h1.5m19.5 0h1.5m3 0h1.5m25.5 0h1.5m6 0h1.5m25.5 0h1.5m22.5 0h1.5m4.5 0h1.5m3 0h1.5M29.5 247h1.5m3 0h1.5m10.5 0h1.5m22.5 0h1.5m12 0h1.5m30 0h3m28.5 0h1.5m7.5 0h1.5m49.5 0h1.5m22.5 0h1.5m7.5 0h1.5m1.5 0h1.5m1.5 0h1.5M25 249h3m16.5 0h1.5m6 0h1.5m81 0h1.5m39 0h1.5m7.5 0h1.5m18 0h1.5m10.5 0h1.5M47.5 251h1.5m3 0h1.5m6 0h1.5m24 0h1.5m4.5 0h1.5m9 0h1.5m10.5 0h1.5m1.5 0h1.5m6 0h1.5m12 0h1.5m6 0h3m61.5 0h1.5m30 0h1.5m1.5 0h1.5"/><path stroke="rgb(21, 21, 0)" d="M28 63h1.5m67.5 0h1.5m1.5 0h1.5m66 0h1.5m15 0h1.5M43 65h1.5m123 0h1.5m36 0h1.5M55 67h3m36 0h1.5m15 0h1.5m1.5 0h1.5m123 0h1.5M19 69h1.5m6 0h1.5m58.5 0h3m9 0h1.5m12 0h1.5m28.5 0h1.5m10.5 0h1.5m48 0h1.5M22 71h3m16.5 0h1.5m19.5 0h1.5m3 0h1.5m43.5 0h1.5m63 0h1.5M31 73h1.5m1.5 0h1.5m22.5 0h1.5m21 0h1.5m69 0h1.5m19.5 0h1.5m3 0h1.5M20.5 75h1.5m16.5 0h1.5m4.5 0h1.5m15 0h1.5m4.5 0h3m55.5 0h1.5M77.5 77h1.5m1.5 0h1.5m18 0h1.5m7.5 0h1.5m3 0h1.5m117 0h1.5M55 79h1.5m21 0h1.5m3 0h1.5m48 0h1.5M19 81h1.5m12 0h1.5m25.5 0h1.5m30 0h1.5m13.5 0h1.5m16.5 0h1.5m10.5 0h1.5m33 0h1.5M80.5 83h1.5m1.5 0h1.5m10.5 0h1.5m78 0h1.5m28.5 0h1.5m25.5 0h1.5m10.5 0h1.5M38.5 85h1.5m18 0h1.5m7.5 0h1.5m49.5 0h1.5m63 0h1.5m21 0h1.5M79 87h1.5m16.5 0h1.5m39 0h1.5m28.5 0h1.5m22.5 0h1.5m12 0h1.5M92.5 89h1.5m27 0h1.5m6 0h3m40.5 0h1.5m12 0h1.5m3 0h1.5m33 0h1.5m7.5 0h1.5M49 91h1.5m45 0h1.5m12 0h1.5M82 93h1.5m33 0h1.5m6 0h1.5m7.5 0h1.5m7.5 0h1.5m16.5 0h1.5m63 0h1.5M49 95h1.5m64.5 0h1.5m9 0h1.5m28.5 0h1.5m18 0h1.5m27 0h1.5M32.5 97h1.5m39 0h1.5m138 0h1.5M53.5 99h1.5m7.5 0h1.5m15 0h1.5m4.5 0h1.5m6 0h1.5m34.5 0h1.5m72 0h1.5m12 0h1.5M35.5 101h1.5m45 0h1.5m19.5 0h1.5m67.5 0h1.5M31 103h1.5m31.5 0h1.5m7.5 0h1.5m46.5 0h1.5m91.5 0h1.5M20.5 105h1.5m51 0h1.5m3 0h3m18 0h1.5m13.5 0h1.5m64.5 0h1.5m30 0h1.5m1.5 0h1.5M23.5 107h1.5m1.5 0h1.5m22.5 0h1.5m10.5 0h1.5m24 0h1.5m6 0h1.5m25.5 0h1.5m12 0h1.5m37.5 0h1.5m24 0h1.5M38.5 109h1.5m63 0h1.5M65.5 111h1.5m97.5 0h1.5m21 0h1.5m7.5 0h1.5M16 113h1.5m15 0h1.5m12 0h1.5m87 0h1.5m16.5 0h1.5m25.5 0h1.5M38.5 115h1.5m9 0h1.5m6 0h1.5m16.5 0h1.5m1.5 0h1.5m7.5 0h1.5m19.5 0h1.5m18 0h1.5m42 0h1.5M124 117h1.5m1.5 0h1.5m48 0h1.5M25 119h1.5m70.5 0h1.5m1.5 0h3m3 0h1.5m49.5 0h1.5m36 0h1.5m3 0h1.5m42 0h1.5M34 121h1.5m3 0h1.5m4.5 0h1.5m114 0h1.5m45 0h1.5M56.5 123h1.5m1.5 0h1.5m9 0h1.5m22.5 0h1.5m18 0h1.5m25.5 0h1.5m7.5 0h3m61.5 0h1.5M67 125h1.5m24 0h1.5m4.5 0h1.5m30 0h1.5m1.5 0h1.5m93 0h1.5M107.5 127h1.5m10.5 0h1.5m108 0h1.5M52 129h1.5m24 0h1.5m16.5 0h1.5m9 0h1.5m9 0h1.5m34.5 0h3m4.5 0h1.5m7.5 0h1.5m10.5 0h1.5m28.5 0h1.5m10.5 0h1.5M44.5 131h3m87 0h1.5m60 0h1.5m39 0h1.5M16 133h1.5m72 0h1.5m54 0h1.5m31.5 0h1.5m34.5 0h1.5M34 135h1.5m28.5 0h1.5m22.5 0h1.5m19.5 0h1.5m19.5 0h1.5m22.5 0h3m3 0h1.5m22.5 0h1.5M34 137h3m19.5 0h1.5m67.5 0h1.5m6 0h1.5m100.5 0h1.5M25 139h3m10.5 0h1.5m21 0h1.5m10.5 0h1.5m52.5 0h1.5m66 0h1.5M37 141h1.5m72 0h1.5m4.5 0h1.5M23.5 143h1.5m27 0h1.5m27 0h1.5m39 0h1.5m24 0h1.5m9 0h1.5m39 0h3M38.5 145h1.5m21 0h1.5m4.5 0h1.5m22.5 0h1.5m4.5 0h1.5m40.5 0h1.5m37.5 0h1.5m10.5 0h1.5M88 147h1.5m15 0h1.5m6 0h1.5m51 0h1.5M44.5 149h3m22.5 0h1.5m6 0h1.5m72 0h1.5m51 0h1.5M74.5 151h1.5m57 0h1.5m33 0h1.5m19.5 0h1.5m6 0h1.5M65.5 153h1.5m55.5 0h1.5m25.5 0h1.5M53.5 155h1.5m13.5 0h1.5m7.5 0h1.5m4.5 0h1.5m10.5 0h1.5m31.5 0h1.5m28.5 0h1.5m12 0h1.5m25.5 0h1.5m16.5 0h1.5m7.5 0h1.5M25 157h1.5m60 0h1.5m22.5 0h1.5m42 0h1.5m7.5 0h1.5m19.5 0h1.5M59.5 159h1.5m85.5 0h1.5m1.5 0h1.5m16.5 0h1.5m6 0h1.5m19.5 0h1.5M89.5 161h1.5m34.5 0h1.5m27 0h1.5m19.5 0h3m15 0h1.5M26.5 163h1.5m28.5 0h1.5m24 0h1.5m21 0h1.5m94.5 0h1.5m25.5 0h1.5M35.5 165h1.5m3 0h1.5m3 0h1.5m1.5 0h1.5m15 0h1.5m9 0h1.5m18 0h1.5m28.5 0h1.5m15 0h3M68.5 167h1.5m60 0h4.5m19.5 0h1.5m18 0h1.5m70.5 0h1.5M34 169h1.5m81 0h1.5m42 0h1.5m13.5 0h1.5m3 0h1.5m7.5 0h1.5m16.5 0h1.5M46 171h1.5m4.5 0h1.5m40.5 0h1.5m21 0h1.5m19.5 0h1.5m6 0h1.5m16.5 0h1.5m24 0h1.5m58.5 0h1.5M115 173h1.5m51 0h1.5M17.5 175h1.5m78 0h1.5m54 0h1.5m13.5 0h1.5m12 0h1.5m52.5 0h1.5M29.5 177h1.5m21 0h1.5m7.5 0h1.5m31.5 0h3m27 0h1.5m33 0h1.5m4.5 0h1.5m30 0h1.5m45 0h1.5M28 179h1.5m3 0h1.5m6 0h1.5m4.5 0h3m102 0h1.5m3 0h1.5m85.5 0h1.5M88 181h1.5m49.5 0h3m66 0h1.5m15 0h1.5m6 0h1.5m9 0h1.5M61 183h1.5m73.5 0h1.5M37 185h3m1.5 0h1.5m1.5 0h1.5m18 0h1.5m99 0h1.5m21 0h1.5m21 0h1.5m33 0h3M37 187h1.5m31.5 0h1.5m24 0h1.5m58.5 0h1.5m55.5 0h1.5m16.5 0h1.5m12 0h1.5M53.5 189h1.5m13.5 0h1.5m7.5 0h1.5m16.5 0h1.5m1.5 0h1.5m1.5 0h1.5m16.5 0h1.5m6 0h1.5M20.5 191h1.5m48 0h3m21 0h1.5m1.5 0h1.5m33 0h1.5m10.5 0h1.5m25.5 0h1.5m16.5 0h1.5m1.5 0h1.5M43 193h1.5m34.5 0h1.5m25.5 0h1.5m46.5 0h3m18 0h1.5m16.5 0h1.5m10.5 0h1.5m36 0h1.5M34 195h1.5m51 0h1.5m49.5 0h1.5m87 0h1.5M52 197h1.5m36 0h1.5m4.5 0h1.5m1.5 0h1.5m4.5 0h1.5m16.5 0h1.5m31.5 0h1.5m9 0h1.5M76 199h3m31.5 0h1.5m37.5 0h1.5m37.5 0h1.5m7.5 0h1.5m6 0h1.5m27 0h1.5M34 201h1.5m67.5 0h1.5m90 0h1.5m6 0h1.5m25.5 0h1.5m6 0h1.5M67 203h1.5m81 0h1.5m78 0h1.5m15 0h1.5m1.5 0h1.5M16 205h1.5m1.5 0h1.5m7.5 0h1.5m117 0h1.5m13.5 0h1.5m15 0h1.5m9 0h1.5m39 0h1.5M152.5 207h1.5m6 0h1.5m6 0h1.5m52.5 0h1.5m22.5 0h1.5M22 209h1.5m124.5 0h1.5m43.5 0h1.5m4.5 0h3m40.5 0h1.5M47.5 211h1.5m132 0h1.5m22.5 0h1.5M22 213h1.5m75 0h1.5m36 0h1.5m7.5 0h3m1.5 0h1.5m18 0h1.5m30 0h1.5m18 0h1.5m10.5 0h1.5M38.5 215h1.5m7.5 0h1.5m7.5 0h1.5m90 0h1.5m25.5 0h1.5m27 0h1.5m4.5 0h1.5m18 0h1.5m10.5 0h1.5m6 0h1.5M67 217h1.5m91.5 0h3m12 0h1.5m7.5 0h1.5m63 0h1.5M47.5 219h1.5m72 0h3m4.5 0h3m9 0h1.5m15 0h1.5m9 0h1.5m15 0h1.5m30 0h3M19 221h1.5m12 0h1.5m111 0h1.5m43.5 0h1.5M178 223h1.5m31.5 0h1.5M172 225h1.5m1.5 0h1.5m1.5 0h1.5m13.5 0h1.5M29.5 227h1.5m34.5 0h1.5m63 0h1.5m3 0h1.5m42 0h1.5m13.5 0h1.5m28.5 0h1.5m10.5 0h1.5m12 0h1.5M70 229h1.5m25.5 0h1.5m25.5 0h1.5m84 0h1.5m19.5 0h1.5M52 231h1.5m46.5 0h1.5m28.5 0h1.5m1.5 0h1.5m45 0h1.5m24 0h1.5m12 0h1.5m3 0h1.5m9 0h1.5M37 233h1.5m24 0h1.5m12 0h1.5m15 0h1.5m3 0h1.5m16.5 0h1.5m21 0h1.5m18 0h1.5m36 0h1.5m9 0h1.5m16.5 0h1.5m24 0h1.5M44.5 235h1.5m67.5 0h1.5m30 0h1.5m45 0h1.5m49.5 0h1.5M106 237h1.5m21 0h1.5m6 0h1.5m7.5 0h1.5m58.5 0h1.5m19.5 0h1.5m16.5 0h1.5M143.5 239h1.5M86.5 241h1.5m6 0h1.5M49 243h1.5m67.5 0h1.5m12 0h1.5m9 0h1.5M49 245h1.5m30 0h1.5m7.5 0h1.5m34.5 0h1.5m48 0h1.5m13.5 0h1.5m12 0h3m24 0h1.5M77.5 247h1.5m9 0h1.5m109.5 0h1.5m4.5 0h1.5m1.5 0h1.5m7.5 0h1.5m3 0h1.5m1.5 0h1.5M28 249h1.5m51 0h1.5m4.5 0h1.5m28.5 0h1.5m40.5 0h1.5m13.5 0h1.5m13.5 0h1.5m51 0h1.5M118 251h1.5m10.5 0h1.5m43.5 0h1.5"/><path stroke="rgb(21, 42, 0)" d="M89.5 63h1.5M115 65h1.5M64 67h1.5m105 0h1.5M17.5 71h1.5m105 0h1.5M17.5 73h1.5m150 0h1.5M182.5 75h1.5M28 77h1.5m30 0h1.5M65.5 79h1.5m12 0h1.5M94 81h1.5m9 0h1.5m81 0h1.5M65.5 83h1.5m48 0h1.5m90 0h1.5M104.5 87h1.5M206.5 89h1.5M25 91h1.5m72 0h1.5m55.5 0h1.5M47.5 93h1.5m156 0h1.5M26.5 95h1.5m126 0h1.5m49.5 0h1.5M22 97h1.5m3 0h1.5m69 0h1.5M37 99h1.5M31 101h1.5m84 0h1.5m61.5 0h1.5m66 0h1.5M125.5 103h1.5m57 0h1.5M62.5 105h1.5m16.5 0h1.5M128.5 109h1.5m63 0h1.5M154 113h1.5M65.5 115h1.5m6 0h1.5M52 117h1.5m43.5 0h1.5M47.5 119h1.5m84 0h1.5M190 121h1.5M74.5 125h1.5m58.5 0h1.5m18 0h1.5m12 0h1.5m19.5 0h1.5M40 127h1.5m19.5 0h1.5M208 129h1.5M82 131h1.5m156 0h1.5M113.5 133h1.5M92.5 135h1.5m16.5 0h1.5m7.5 0h1.5M95.5 137h1.5M128.5 141h1.5M67 143h1.5M34 145h1.5m75 0h1.5m9 0h1.5M197.5 147h1.5m43.5 0h1.5M32.5 149h1.5m75 0h1.5m48 0h1.5m10.5 0h1.5M124 151h1.5m12 0h1.5m67.5 0h1.5M35.5 153h1.5m169.5 0h1.5M25 161h1.5m58.5 0h1.5m63 0h1.5M79 163h1.5m162 0h1.5M53.5 165h1.5m31.5 0h1.5m28.5 0h1.5M61 167h1.5M146.5 169h1.5m48 0h1.5M98.5 171h1.5m78 0h1.5M32.5 173h1.5m60 0h1.5m63 0h1.5m6 0h1.5m40.5 0h1.5m12 0h1.5M38.5 175h1.5m12 0h1.5m10.5 0h1.5m163.5 0h1.5M248.5 177h1.5M65.5 179h1.5m25.5 0h1.5M148 181h1.5m45 0h1.5m16.5 0h1.5M122.5 185h1.5M98.5 187h1.5m4.5 0h1.5M187 189h1.5m51 0h1.5M148 191h1.5M115 193h1.5M211 195h1.5M25 197h1.5m40.5 0h1.5M50.5 199h1.5M221.5 201h1.5m24 0h1.5M169 203h1.5M157 205h3m55.5 0h1.5m22.5 0h1.5M121 207h1.5M130 213h1.5m24 0h1.5m39 0h1.5m18 0h1.5m19.5 0h1.5M46 215h1.5M74.5 217h1.5M146.5 219h1.5m34.5 0h1.5M157 221h1.5m43.5 0h1.5M64 223h1.5m69 0h1.5M128.5 225h1.5m39 0h1.5M142 227h1.5M143.5 229h1.5M55 231h1.5m97.5 0h1.5M155.5 235h1.5m7.5 0h1.5M26.5 237h1.5m130.5 0h1.5M67 239h1.5M181 243h1.5M73 245h1.5m105 0h1.5m33 0h1.5m27 0h1.5M64 249h1.5"/><path stroke="rgb(21, 42, 21)" d="M37 63h1.5m15 0h1.5m30 0h1.5m1.5 0h1.5M22 65h1.5m45 0h1.5m46.5 0h1.5m46.5 0h1.5M67 67h1.5m69 0h1.5M22 69h1.5m7.5 0h1.5m18 0h1.5m4.5 0h1.5m52.5 0h1.5m34.5 0h1.5m1.5 0h1.5m6 0h1.5m7.5 0h1.5m43.5 0h1.5m18 0h1.5M16 71h1.5m34.5 0h1.5m16.5 0h1.5m6 0h1.5m43.5 0h1.5m87 0h1.5m25.5 0h1.5M94 73h1.5m34.5 0h1.5m1.5 0h1.5m24 0h1.5m70.5 0h1.5M25 75h1.5m3 0h3m75 0h1.5m4.5 0h1.5m36 0h3m24 0h1.5m28.5 0h1.5M56.5 77h1.5m76.5 0h1.5m34.5 0h1.5m16.5 0h1.5m28.5 0h1.5m9 0h1.5m6 0h1.5M100 79h1.5m33 0h1.5M157 81h1.5m34.5 0h1.5m4.5 0h1.5M16 83h1.5m15 0h1.5m9 0h1.5m28.5 0h1.5m27 0h1.5m40.5 0h1.5m25.5 0h1.5m31.5 0h1.5M40 85h1.5m18 0h1.5m15 0h1.5m12 0h1.5m15 0h1.5M47.5 87h1.5m96 0h1.5m28.5 0h1.5m13.5 0h1.5M16 89h1.5m33 0h1.5m4.5 0h1.5m24 0h3m3 0h1.5m13.5 0h1.5m40.5 0h1.5m40.5 0h1.5m55.5 0h1.5M41.5 91h1.5m16.5 0h1.5m55.5 0h1.5m10.5 0h1.5m1.5 0h1.5M49 93h1.5m115.5 0h1.5M19 95h1.5m1.5 0h1.5m37.5 0h1.5m13.5 0h1.5m9 0h1.5m4.5 0h1.5m51 0h1.5m24 0h1.5m34.5 0h1.5M35.5 97h1.5m7.5 0h1.5m6 0h1.5m39 0h1.5m4.5 0h1.5m33 0h1.5m1.5 0h1.5M41.5 99h1.5m21 0h1.5m94.5 0h1.5m15 0h1.5M20.5 101h1.5m42 0h1.5m30 0h1.5m36 0h1.5m52.5 0h1.5m36 0h1.5M148 103h1.5m1.5 0h1.5m10.5 0h1.5m31.5 0h1.5m13.5 0h1.5M38.5 105h1.5m46.5 0h1.5m30 0h3m16.5 0h1.5m16.5 0h1.5m18 0h1.5m24 0h1.5M19 107h1.5m60 0h1.5m15 0h1.5m30 0h1.5m31.5 0h1.5M46 109h1.5m19.5 0h1.5m6 0h1.5m3 0h1.5m9 0h1.5m13.5 0h1.5m12 0h1.5M74.5 111h1.5m1.5 0h1.5m10.5 0h1.5m57 0h1.5m51 0h1.5M83.5 113h1.5m55.5 0h1.5M28 115h1.5m25.5 0h1.5m4.5 0h1.5m6 0h1.5m67.5 0h3M41.5 117h1.5m4.5 0h1.5m61.5 0h1.5m36 0h1.5m21 0h1.5m1.5 0h1.5m12 0h3M50.5 119h1.5m1.5 0h1.5m27 0h1.5m75 0h3m9 0h1.5m25.5 0h1.5m12 0h1.5M32.5 121h1.5m7.5 0h3m24 0h1.5m25.5 0h1.5m15 0h1.5m25.5 0h1.5m30 0h1.5m3 0h1.5M16 123h1.5m6 0h1.5m76.5 0h1.5m69 0h1.5m1.5 0h1.5m28.5 0h1.5m21 0h1.5M19 125h1.5m49.5 0h1.5m15 0h1.5m15 0h1.5m67.5 0h1.5m10.5 0h1.5M32.5 127h1.5m45 0h1.5m7.5 0h1.5m6 0h1.5m27 0h1.5m30 0h1.5m9 0h1.5M50.5 129h1.5m30 0h1.5m103.5 0h1.5m3 0h1.5m31.5 0h1.5M26.5 131h1.5m3 0h1.5m31.5 0h1.5m12 0h1.5m7.5 0h1.5m10.5 0h1.5m22.5 0h1.5m30 0h1.5m18 0h1.5M19 133h1.5m7.5 0h1.5m16.5 0h1.5m22.5 0h1.5m21 0h1.5m30 0h1.5m3 0h1.5m18 0h1.5m33 0h1.5m28.5 0h1.5M49 135h1.5m6 0h1.5m12 0h1.5m42 0h1.5m28.5 0h1.5m3 0h1.5M17.5 137h1.5m45 0h1.5m3 0h1.5m1.5 0h1.5m1.5 0h1.5m6 0h3m33 0h1.5M32.5 139h1.5m3 0h1.5m43.5 0h1.5m7.5 0h1.5m6 0h1.5m1.5 0h1.5m12 0h1.5m57 0h1.5m40.5 0h1.5M64 141h3m48 0h1.5M20.5 143h1.5m34.5 0h1.5m84 0h1.5m24 0h1.5m61.5 0h1.5M31 145h1.5m22.5 0h1.5m6 0h1.5m30 0h1.5m61.5 0h1.5m33 0h1.5M16 147h1.5m76.5 0h1.5m22.5 0h1.5m1.5 0h1.5m52.5 0h1.5M64 149h1.5m60 0h1.5m3 0h1.5m10.5 0h1.5M22 151h3m6 0h1.5m18 0h1.5m1.5 0h1.5m24 0h1.5m18 0h1.5m15 0h1.5m22.5 0h1.5m1.5 0h1.5m42 0h1.5M28 153h1.5m16.5 0h1.5m16.5 0h1.5m9 0h1.5m12 0h1.5m39 0h1.5m21 0h1.5m1.5 0h1.5m13.5 0h1.5m1.5 0h1.5M31 155h1.5m42 0h1.5m22.5 0h1.5m27 0h1.5m42 0h1.5m18 0h1.5m16.5 0h3m24 0h1.5m12 0h1.5M61 157h1.5m19.5 0h1.5m19.5 0h1.5m88.5 0h1.5m24 0h1.5m28.5 0h1.5M19 159h1.5m73.5 0h1.5m16.5 0h1.5m9 0h1.5m9 0h1.5m10.5 0h1.5M97 163h1.5m18 0h1.5m6 0h1.5m27 0h1.5m10.5 0h1.5M101.5 165h3m27 0h1.5m6 0h1.5M25 167h1.5m24 0h1.5m45 0h1.5m3 0h1.5m15 0h1.5m6 0h1.5m61.5 0h1.5m13.5 0h1.5M61 169h1.5m49.5 0h1.5m34.5 0h1.5m7.5 0h1.5m42 0h1.5m3 0h1.5m15 0h1.5M37 171h1.5m31.5 0h1.5m13.5 0h1.5m4.5 0h1.5m13.5 0h1.5m16.5 0h1.5m9 0h1.5m21 0h1.5m13.5 0h1.5M19 173h1.5m3 0h1.5m19.5 0h1.5m18 0h1.5m1.5 0h1.5m96 0h1.5m9 0h1.5M53.5 175h1.5m1.5 0h1.5m7.5 0h1.5m10.5 0h1.5m3 0h1.5m10.5 0h1.5m18 0h1.5m10.5 0h1.5m43.5 0h1.5m45 0h1.5m28.5 0h1.5M43 177h1.5m12 0h3m13.5 0h1.5m31.5 0h1.5m7.5 0h1.5m75 0h1.5m6 0h1.5M49 179h1.5m40.5 0h1.5m12 0h1.5m21 0h1.5M61 181h1.5m28.5 0h1.5m31.5 0h1.5m30 0h1.5m45 0h1.5m3 0h1.5m19.5 0h1.5M23.5 183h1.5m16.5 0h1.5m19.5 0h1.5m7.5 0h1.5m18 0h1.5m24 0h1.5m75 0h1.5m48 0h1.5M22 185h1.5m12 0h1.5m39 0h1.5m6 0h1.5m46.5 0h1.5m37.5 0h1.5m52.5 0h1.5M43 187h1.5m76.5 0h1.5M74.5 189h1.5m21 0h1.5m51 0h1.5m79.5 0h1.5M29.5 191h1.5m12 0h1.5m39 0h1.5m39 0h1.5M44.5 193h1.5m13.5 0h1.5m48 0h1.5m19.5 0h1.5m6 0h3m1.5 0h3m1.5 0h1.5m1.5 0h1.5m1.5 0h1.5m46.5 0h1.5M32.5 195h1.5m3 0h1.5m7.5 0h3m7.5 0h1.5m36 0h1.5m36 0h1.5m60 0h1.5M79 197h1.5m12 0h1.5m33 0h1.5m82.5 0h1.5M34 199h1.5m1.5 0h1.5m88.5 0h1.5m6 0h1.5m31.5 0h1.5m6 0h1.5M16 201h1.5m21 0h1.5m7.5 0h1.5m12 0h1.5m19.5 0h1.5m28.5 0h1.5m10.5 0h1.5m21 0h1.5m1.5 0h1.5m60 0h1.5M151 203h1.5m79.5 0h1.5M41.5 205h1.5m19.5 0h1.5m3 0h1.5m33 0h1.5m7.5 0h1.5m90 0h1.5m42 0h1.5M16 207h1.5m9 0h1.5m190.5 0h1.5M59.5 209h1.5M176.5 211h1.5m58.5 0h1.5M32.5 213h1.5m28.5 0h1.5m3 0h1.5m166.5 0h1.5M110.5 215h1.5m124.5 0h1.5M133 217h1.5m19.5 0h1.5m33 0h1.5m30 0h1.5m3 0h1.5M55 219h1.5m13.5 0h1.5m36 0h1.5m1.5 0h1.5m73.5 0h1.5m6 0h1.5m51 0h1.5M89.5 221h1.5m52.5 0h1.5m94.5 0h1.5M55 223h1.5m60 0h1.5m109.5 0h1.5M88 225h1.5m27 0h1.5m90 0h1.5m15 0h1.5m15 0h1.5m4.5 0h1.5M25 227h1.5m6 0h1.5m63 0h1.5m112.5 0h1.5M22 229h1.5m9 0h1.5m93 0h1.5m1.5 0h1.5m36 0h1.5m43.5 0h1.5M22 231h1.5m87 0h1.5m61.5 0h1.5m6 0h1.5m31.5 0h1.5m15 0h1.5M91 233h1.5m49.5 0h1.5m27 0h1.5m15 0h1.5M131.5 235h1.5m13.5 0h1.5m28.5 0h1.5M94 237h1.5m4.5 0h1.5m39 0h1.5m7.5 0h1.5m60 0h1.5M92.5 239h1.5m63 0h1.5m22.5 0h1.5m51 0h1.5M52 241h1.5m30 0h1.5m63 0h1.5m6 0h1.5m18 0h1.5m18 0h1.5m15 0h1.5m9 0h1.5m21 0h1.5M43 243h1.5m132 0h1.5M29.5 245h1.5m30 0h1.5m72 0h1.5m1.5 0h1.5m45 0h1.5M26.5 247h1.5m12 0h1.5m31.5 0h3m45 0h1.5m97.5 0h1.5m10.5 0h1.5M65.5 249h1.5m66 0h1.5m21 0h1.5m33 0h1.5m10.5 0h1.5m6 0h1.5M35.5 251h1.5m3 0h1.5m55.5 0h1.5m51 0h1.5m9 0h1.5m73.5 0h1.5"/><path stroke="rgb(42, 0, 0)" d="M17.5 63h1.5m51 0h1.5m27 0h1.5m37.5 0h1.5m43.5 0h1.5m6 0h1.5m6 0h1.5m37.5 0h1.5M40 65h1.5m22.5 0h3m36 0h1.5m6 0h1.5m10.5 0h1.5m45 0h1.5m22.5 0h1.5m9 0h1.5m43.5 0h1.5M28 67h1.5m60 0h1.5m15 0h1.5m4.5 0h1.5m3 0h1.5m78 0h1.5m13.5 0h1.5m21 0h1.5M206.5 69h1.5m10.5 0h1.5M19 71h1.5m16.5 0h1.5m18 0h1.5m39 0h1.5m28.5 0h1.5m6 0h1.5m4.5 0h1.5m6 0h1.5m6 0h1.5m13.5 0h1.5m13.5 0h3m37.5 0h1.5m19.5 0h1.5M25 73h1.5m33 0h3m1.5 0h1.5m10.5 0h1.5m22.5 0h3m3 0h1.5m10.5 0h1.5m1.5 0h1.5m4.5 0h1.5m15 0h3m9 0h1.5m6 0h1.5m37.5 0h1.5m4.5 0h1.5m9 0h1.5m19.5 0h3M49 75h1.5m49.5 0h1.5m4.5 0h1.5m1.5 0h1.5m58.5 0h1.5m13.5 0h1.5m7.5 0h1.5m19.5 0h1.5m9 0h1.5M43 77h1.5m3 0h1.5m13.5 0h1.5m61.5 0h1.5m3 0h1.5m7.5 0h1.5m9 0h1.5m16.5 0h1.5m4.5 0h1.5m12 0h1.5m3 0h1.5m31.5 0h1.5M34 79h1.5m7.5 0h1.5m40.5 0h1.5m7.5 0h1.5m7.5 0h3m22.5 0h1.5m21 0h1.5m6 0h1.5m34.5 0h1.5m18 0h1.5m10.5 0h1.5M22 81h1.5m24 0h1.5m66 0h1.5m9 0h1.5m13.5 0h1.5m7.5 0h1.5m27 0h1.5m34.5 0h1.5m15 0h1.5m12 0h1.5M86.5 83h1.5m22.5 0h1.5m52.5 0h1.5m22.5 0h1.5m19.5 0h1.5m22.5 0h1.5m3 0h1.5m3 0h1.5M19 85h1.5m51 0h1.5m40.5 0h1.5m6 0h1.5m3 0h1.5m6 0h1.5m13.5 0h1.5m6 0h1.5m21 0h1.5m10.5 0h1.5M62.5 87h1.5m9 0h1.5m16.5 0h1.5m36 0h1.5m10.5 0h3m25.5 0h1.5m1.5 0h1.5m3 0h1.5m9 0h1.5m36 0h1.5m7.5 0h1.5m6 0h1.5M64 89h1.5m21 0h1.5m10.5 0h1.5m22.5 0h1.5m30 0h1.5m3 0h1.5m16.5 0h1.5m24 0h1.5m13.5 0h1.5m9 0h3M50.5 91h1.5m9 0h1.5m25.5 0h1.5m13.5 0h4.5m16.5 0h3m25.5 0h1.5m6 0h1.5m18 0h1.5m1.5 0h1.5m12 0h1.5M50.5 93h1.5m27 0h1.5m49.5 0h1.5m4.5 0h1.5m33 0h1.5m3 0h1.5m3 0h1.5m15 0h4.5M20.5 95h1.5m45 0h1.5m1.5 0h1.5m46.5 0h1.5m46.5 0h1.5m10.5 0h1.5m21 0h1.5m21 0h1.5M38.5 97h1.5m10.5 0h1.5m3 0h1.5m34.5 0h1.5m24 0h1.5m10.5 0h1.5m4.5 0h1.5m10.5 0h1.5m24 0h1.5M38.5 99h1.5m6 0h1.5m49.5 0h1.5m1.5 0h1.5m88.5 0h1.5m1.5 0h1.5m16.5 0h1.5m28.5 0h1.5M52 101h1.5m33 0h1.5m21 0h1.5m57 0h3m46.5 0h1.5m3 0h1.5M20.5 103h1.5m13.5 0h1.5m3 0h1.5m24 0h1.5m25.5 0h1.5m9 0h1.5m12 0h1.5m51 0h1.5m31.5 0h1.5m1.5 0h1.5m6 0h1.5m25.5 0h1.5M17.5 105h1.5m30 0h1.5m39 0h1.5m18 0h1.5m36 0h1.5m1.5 0h1.5m1.5 0h3m1.5 0h1.5m15 0h1.5m3 0h1.5m66 0h1.5M16 107h1.5m7.5 0h1.5m87 0h1.5m10.5 0h1.5m21 0h1.5m13.5 0h3m7.5 0h1.5m22.5 0h1.5m22.5 0h1.5M20.5 109h1.5m3 0h1.5m4.5 0h3m96 0h1.5m9 0h1.5m1.5 0h1.5m7.5 0h1.5m4.5 0h1.5m16.5 0h1.5m3 0h1.5m15 0h1.5m4.5 0h1.5m1.5 0h1.5m3 0h1.5m9 0h1.5M17.5 111h1.5m9 0h1.5m43.5 0h1.5m22.5 0h1.5m10.5 0h1.5m4.5 0h1.5m27 0h1.5m21 0h1.5m49.5 0h1.5m4.5 0h1.5m18 0h1.5M20.5 113h1.5m33 0h1.5m1.5 0h1.5m15 0h1.5m10.5 0h1.5m6 0h1.5m16.5 0h1.5m30 0h1.5m12 0h1.5m7.5 0h1.5m6 0h1.5m18 0h1.5m1.5 0h1.5m34.5 0h3m3 0h1.5M34 115h1.5m12 0h1.5m4.5 0h1.5m16.5 0h1.5m33 0h1.5m15 0h1.5m10.5 0h1.5m28.5 0h1.5m25.5 0h1.5m4.5 0h1.5m12 0h1.5m4.5 0h3m1.5 0h1.5m1.5 0h1.5M16 117h1.5m10.5 0h1.5m9 0h1.5m6 0h1.5m16.5 0h1.5m97.5 0h1.5m4.5 0h1.5m27 0h1.5m6 0h1.5m13.5 0h1.5M16 119h1.5m39 0h1.5m6 0h3m7.5 0h1.5m13.5 0h1.5m21 0h1.5m9 0h1.5m13.5 0h1.5m9 0h1.5m84 0h1.5M25 121h1.5m90 0h1.5m27 0h1.5m7.5 0h1.5m18 0h1.5m16.5 0h1.5m15 0h1.5m4.5 0h1.5m3 0h1.5m6 0h1.5m4.5 0h3M19 123h1.5m52.5 0h1.5m4.5 0h1.5m18 0h1.5m18 0h1.5m25.5 0h1.5m27 0h1.5m60 0h1.5m6 0h1.5M25 125h1.5m28.5 0h1.5m43.5 0h1.5m3 0h1.5m7.5 0h3m27 0h1.5m1.5 0h1.5m4.5 0h1.5m12 0h1.5m19.5 0h1.5m45 0h1.5M41.5 127h1.5m37.5 0h1.5m7.5 0h1.5m18 0h1.5m19.5 0h1.5m1.5 0h1.5m6 0h1.5m27 0h1.5m1.5 0h1.5m13.5 0h1.5M55 129h1.5m15 0h1.5m24 0h1.5m34.5 0h1.5m3 0h1.5m1.5 0h1.5m30 0h3m25.5 0h1.5M52 131h1.5m12 0h1.5m9 0h1.5m12 0h1.5m1.5 0h3m7.5 0h1.5m64.5 0h1.5m33 0h3m1.5 0h1.5m1.5 0h1.5M71.5 133h1.5m36 0h1.5m1.5 0h1.5m4.5 0h1.5m21 0h1.5m16.5 0h1.5m10.5 0h1.5m3 0h1.5m9 0h1.5m21 0h1.5m7.5 0h1.5m13.5 0h1.5M124 135h1.5m12 0h1.5m1.5 0h1.5m46.5 0h1.5m1.5 0h1.5m9 0h1.5m36 0h1.5M61 137h1.5m37.5 0h1.5m6 0h1.5m30 0h1.5m1.5 0h1.5m7.5 0h1.5m4.5 0h1.5m13.5 0h1.5m7.5 0h1.5m21 0h1.5m21 0h1.5m15 0h1.5m4.5 0h1.5M16 139h1.5m10.5 0h1.5m15 0h1.5m13.5 0h1.5m13.5 0h3m3 0h1.5m12 0h1.5m13.5 0h1.5m27 0h1.5m52.5 0h1.5m18 0h1.5m16.5 0h1.5M29.5 141h1.5m30 0h1.5m16.5 0h1.5m18 0h1.5m7.5 0h1.5m10.5 0h1.5m16.5 0h1.5m22.5 0h1.5m22.5 0h1.5m7.5 0h3M50.5 143h1.5m6 0h1.5m6 0h1.5m3 0h1.5m15 0h3m64.5 0h3m30 0h1.5m1.5 0h1.5m16.5 0h1.5m13.5 0h1.5m1.5 0h1.5m7.5 0h1.5M44.5 145h1.5m6 0h1.5m19.5 0h1.5m9 0h1.5m4.5 0h1.5m9 0h1.5m7.5 0h1.5m22.5 0h1.5m21 0h1.5m3 0h1.5m25.5 0h1.5m51 0h1.5M25 147h1.5m3 0h1.5m51 0h1.5m18 0h1.5m13.5 0h1.5m7.5 0h1.5m22.5 0h1.5m4.5 0h3m33 0h1.5m1.5 0h1.5m4.5 0h1.5m33 0h1.5M85 149h1.5m7.5 0h1.5m1.5 0h1.5m51 0h1.5m21 0h1.5m9 0h3m3 0h1.5m12 0h1.5m7.5 0h1.5m25.5 0h3M80.5 151h1.5m13.5 0h1.5m22.5 0h1.5m1.5 0h1.5m21 0h1.5m9 0h1.5m3 0h1.5m1.5 0h1.5m46.5 0h3m31.5 0h1.5M32.5 153h1.5m22.5 0h1.5m21 0h1.5m15 0h1.5m12 0h1.5m9 0h3m57 0h1.5m15 0h1.5m1.5 0h1.5m1.5 0h1.5M19 155h1.5m13.5 0h1.5m24 0h1.5m4.5 0h1.5m3 0h1.5m21 0h1.5m19.5 0h1.5m27 0h1.5m33 0h1.5m3 0h1.5m9 0h1.5m10.5 0h1.5m9 0h1.5m25.5 0h1.5M26.5 157h1.5m6 0h1.5m6 0h1.5m3 0h1.5m28.5 0h1.5m15 0h3m94.5 0h1.5m3 0h1.5m1.5 0h1.5m15 0h3m16.5 0h1.5m1.5 0h1.5M32.5 159h1.5m45 0h1.5m82.5 0h1.5m9 0h1.5m69 0h1.5M47.5 161h1.5m1.5 0h1.5m9 0h1.5m15 0h1.5m7.5 0h1.5m54 0h1.5m27 0h1.5m6 0h1.5m4.5 0h1.5m6 0h1.5m13.5 0h1.5m1.5 0h1.5m10.5 0h1.5m16.5 0h1.5M86.5 163h1.5m58.5 0h1.5m10.5 0h1.5m49.5 0h3M37 165h1.5m87 0h1.5m3 0h1.5m3 0h1.5m27 0h1.5m6 0h1.5m19.5 0h1.5M64 167h1.5m61.5 0h1.5m31.5 0h1.5m6 0h1.5m9 0h1.5m4.5 0h1.5m7.5 0h1.5m12 0h1.5M58 169h1.5m36 0h1.5m10.5 0h1.5m6 0h1.5m34.5 0h1.5m1.5 0h1.5m7.5 0h1.5m7.5 0h1.5m57 0h1.5M89.5 171h1.5m1.5 0h1.5m7.5 0h1.5m30 0h1.5m1.5 0h1.5m31.5 0h1.5m49.5 0h1.5m24 0h1.5M28 173h1.5m1.5 0h1.5m6 0h1.5m18 0h1.5m12 0h1.5m39 0h1.5m25.5 0h1.5m15 0h1.5m28.5 0h1.5m3 0h1.5M23.5 175h1.5m19.5 0h1.5m4.5 0h1.5m24 0h1.5m18 0h1.5m21 0h1.5m4.5 0h1.5m28.5 0h1.5m19.5 0h1.5m6 0h1.5M53.5 177h1.5m22.5 0h3m46.5 0h1.5m7.5 0h1.5m25.5 0h1.5m30 0h1.5m27 0h1.5M76 179h1.5m24 0h1.5m13.5 0h1.5m1.5 0h1.5m3 0h1.5m3 0h3m3 0h1.5m33 0h1.5m30 0h1.5m6 0h1.5m1.5 0h1.5m4.5 0h1.5m25.5 0h1.5M43 181h1.5m66 0h1.5m18 0h1.5m31.5 0h1.5m40.5 0h1.5m22.5 0h3m6 0h1.5m1.5 0h1.5M26.5 183h1.5m10.5 0h1.5m130.5 0h1.5m4.5 0h1.5m1.5 0h1.5m1.5 0h1.5m4.5 0h1.5m16.5 0h1.5m10.5 0h1.5m1.5 0h1.5m13.5 0h1.5m7.5 0h3M71.5 185h1.5m27 0h1.5m1.5 0h1.5m12 0h1.5m6 0h1.5m21 0h1.5m6 0h1.5m21 0h1.5m7.5 0h1.5m7.5 0h1.5m9 0h1.5m12 0h1.5m19.5 0h1.5M67 187h1.5m54 0h1.5m7.5 0h1.5m1.5 0h1.5m22.5 0h1.5m24 0h1.5m13.5 0h1.5m18 0h3M76 189h1.5m1.5 0h1.5m13.5 0h1.5m34.5 0h1.5m9 0h1.5m12 0h1.5m12 0h1.5m10.5 0h1.5m1.5 0h3m12 0h1.5M116.5 191h1.5m34.5 0h3m3 0h3m28.5 0h1.5m43.5 0h1.5M74.5 193h1.5m13.5 0h1.5m1.5 0h1.5m28.5 0h1.5m1.5 0h3m16.5 0h1.5m34.5 0h1.5m13.5 0h1.5m15 0h1.5m34.5 0h1.5M20.5 195h1.5m6 0h1.5m162 0h1.5m3 0h1.5m24 0h1.5m6 0h1.5m3 0h1.5m9 0h1.5M17.5 197h1.5m9 0h1.5m25.5 0h1.5m16.5 0h1.5m10.5 0h1.5m39 0h1.5m4.5 0h1.5m3 0h3m15 0h1.5m76.5 0h1.5M20.5 199h1.5m21 0h1.5m43.5 0h3m7.5 0h1.5m52.5 0h1.5m19.5 0h1.5m12 0h1.5m21 0h1.5m12 0h1.5M22 201h1.5m33 0h1.5m10.5 0h1.5m6 0h1.5m6 0h1.5m36 0h1.5m25.5 0h1.5m16.5 0h1.5m16.5 0h1.5m4.5 0h1.5M49 203h1.5m18 0h1.5m6 0h1.5m3 0h1.5m4.5 0h1.5m25.5 0h1.5m6 0h1.5m67.5 0h1.5M35.5 205h1.5m21 0h1.5m67.5 0h1.5m55.5 0h1.5m27 0h3M22 207h1.5m21 0h1.5m7.5 0h1.5m4.5 0h1.5m1.5 0h1.5m1.5 0h1.5m21 0h1.5m7.5 0h1.5m9 0h1.5m31.5 0h3m27 0h1.5m24 0h1.5m10.5 0h1.5M55 209h1.5m4.5 0h1.5m7.5 0h1.5m19.5 0h1.5m60 0h3m6 0h1.5m40.5 0h1.5m10.5 0h1.5m24 0h1.5M16 211h1.5m16.5 0h1.5m6 0h1.5m42 0h3m9 0h1.5m9 0h1.5m99 0h1.5m6 0h1.5M61 213h1.5m6 0h1.5m1.5 0h1.5m19.5 0h1.5m27 0h1.5m9 0h1.5m19.5 0h1.5m6 0h1.5m6 0h1.5m10.5 0h1.5m60 0h1.5M55 215h1.5m27 0h1.5m16.5 0h1.5m55.5 0h1.5m64.5 0h1.5M35.5 217h1.5m19.5 0h1.5m18 0h1.5m1.5 0h1.5m10.5 0h3m45 0h1.5m18 0h1.5m7.5 0h1.5m1.5 0h1.5m61.5 0h1.5M16 219h1.5m4.5 0h1.5m64.5 0h1.5m3 0h1.5m45 0h1.5m31.5 0h1.5m4.5 0h1.5m34.5 0h1.5M22 221h1.5m27 0h1.5m21 0h1.5m27 0h3m24 0h1.5m1.5 0h1.5m33 0h1.5m4.5 0h1.5m3 0h1.5m1.5 0h1.5m27 0h1.5M40 223h1.5m19.5 0h1.5m15 0h1.5m60 0h1.5m1.5 0h1.5m69 0h1.5m31.5 0h1.5M20.5 225h1.5m1.5 0h1.5m39 0h3m91.5 0h1.5m60 0h1.5M62.5 227h1.5m13.5 0h1.5m22.5 0h1.5m45 0h1.5m9 0h1.5m4.5 0h1.5m1.5 0h1.5m57 0h1.5m13.5 0h1.5M29.5 229h1.5m3 0h1.5m21 0h1.5m37.5 0h1.5m9 0h1.5m1.5 0h1.5m7.5 0h1.5m3 0h1.5m18 0h1.5m4.5 0h1.5m12 0h1.5M16 231h1.5m25.5 0h1.5m1.5 0h1.5m15 0h1.5m4.5 0h1.5m7.5 0h1.5m37.5 0h1.5m78 0h1.5m4.5 0h1.5m12 0h1.5M29.5 233h1.5m24 0h1.5m46.5 0h1.5m4.5 0h1.5m10.5 0h1.5m3 0h1.5m37.5 0h1.5m10.5 0h1.5M16 235h1.5m19.5 0h1.5m22.5 0h1.5m12 0h1.5m1.5 0h1.5m9 0h1.5m1.5 0h1.5m3 0h1.5m7.5 0h1.5m3 0h1.5m57 0h1.5m19.5 0h1.5m3 0h1.5m27 0h1.5m7.5 0h1.5M32.5 237h1.5m25.5 0h1.5m3 0h1.5m22.5 0h1.5m3 0h1.5m3 0h1.5m3 0h1.5m13.5 0h1.5m6 0h1.5m54 0h1.5M34 239h1.5m9 0h1.5m24 0h1.5m18 0h1.5m33 0h1.5m19.5 0h1.5m39 0h1.5m9 0h1.5m25.5 0h1.5M49 241h1.5m3 0h1.5m3 0h1.5m7.5 0h1.5m24 0h1.5m3 0h3m12 0h1.5m46.5 0h1.5m78 0h1.5M44.5 243h1.5m4.5 0h1.5m12 0h1.5m1.5 0h1.5m15 0h1.5m88.5 0h1.5m7.5 0h1.5M22 245h1.5m15 0h1.5m27 0h1.5m27 0h1.5m9 0h1.5m39 0h1.5m67.5 0h1.5m27 0h1.5M44.5 247h1.5m43.5 0h1.5m15 0h1.5m27 0h1.5m9 0h1.5m1.5 0h1.5m10.5 0h1.5m9 0h1.5m9 0h1.5m15 0h1.5M20.5 249h1.5m18 0h3m7.5 0h1.5m15 0h1.5m19.5 0h1.5m1.5 0h3m49.5 0h3m4.5 0h1.5m10.5 0h1.5m54 0h1.5M20.5 251h1.5m4.5 0h1.5m34.5 0h1.5m19.5 0h1.5m42 0h1.5m27 0h1.5m7.5 0h1.5"/><path stroke="rgb(42, 42, 21)" d="M17.5 65h1.5m33 0h1.5m24 0h1.5M49 67h1.5M103 69h1.5M86.5 71h1.5M62.5 73h1.5m15 0h1.5M89.5 75h1.5M182.5 81h1.5M184 83h1.5M16 85h1.5m27 0h1.5m78 0h1.5M29.5 87h1.5m93 0h1.5M182.5 89h1.5M205 91h1.5M98.5 93h1.5m88.5 0h1.5m51 0h1.5M113.5 99h1.5M46 101h1.5M62.5 109h1.5m100.5 0h1.5m39 0h1.5M22 111h1.5m3 0h1.5m43.5 0h1.5m138 0h1.5M121 113h1.5M149.5 115h1.5M137.5 117h1.5M22 119h1.5m10.5 0h1.5m84 0h1.5M34 123h3m3 0h1.5m3 0h1.5m145.5 0h1.5M65.5 127h1.5m142.5 0h1.5M65.5 133h1.5m39 0h1.5M229 135h1.5M59.5 137h1.5M20.5 139h1.5m126 0h1.5m54 0h1.5M34 141h1.5m12 0h1.5m69 0h1.5M55 143h1.5m78 0h1.5M116.5 145h1.5m54 0h1.5M23.5 149h1.5m9 0h1.5M139 153h1.5m34.5 0h1.5M56.5 155h1.5M46 161h1.5m114 0h1.5M185.5 163h1.5M79 167h1.5M184 171h1.5M160 175h1.5M88 179h1.5M19 181h1.5m1.5 0h1.5m7.5 0h1.5m144 0h1.5M160 183h1.5M115 185h1.5M58 187h1.5M61 189h1.5m9 0h1.5m151.5 0h1.5M19 191h1.5m147 0h1.5m36 0h1.5M116.5 193h1.5m120 0h1.5M113.5 195h1.5m4.5 0h1.5m7.5 0h1.5M29.5 199h1.5M119.5 201h1.5m31.5 0h1.5M62.5 203h1.5m145.5 0h1.5M64 205h1.5m52.5 0h1.5m33 0h1.5M194.5 207h1.5m33 0h1.5M40 209h1.5m3 0h1.5m192 0h1.5M209.5 211h1.5M158.5 213h1.5m27 0h1.5M160 215h1.5M232 217h1.5M68.5 219h1.5m111 0h1.5m51 0h1.5M77.5 221h1.5M221.5 223h1.5M112 231h1.5M152.5 233h1.5m30 0h1.5M98.5 239h1.5m49.5 0h3M185.5 241h1.5M148 243h1.5M139 245h1.5M188.5 247h1.5M104.5 249h1.5M152.5 251h1.5m58.5 0h1.5"/><path stroke="rgb(42, 63, 21)" d="M16 63h1.5m4.5 0h1.5m7.5 0h1.5m10.5 0h1.5m36 0h1.5m22.5 0h1.5m36 0h1.5m28.5 0h3M20.5 65h1.5m16.5 0h1.5m1.5 0h1.5m1.5 0h1.5m7.5 0h1.5m7.5 0h1.5m7.5 0h1.5m13.5 0h1.5m6 0h3m15 0h1.5m22.5 0h1.5M46 67h1.5m33 0h1.5m69 0h3m7.5 0h1.5m12 0h1.5m16.5 0h1.5M49 69h1.5m24 0h1.5m13.5 0h1.5m1.5 0h1.5m36 0h1.5m1.5 0h1.5m37.5 0h1.5m31.5 0h1.5M25 71h1.5m7.5 0h1.5m7.5 0h1.5m27 0h1.5m18 0h1.5m21 0h1.5m39 0h1.5m13.5 0h1.5m34.5 0h1.5M29.5 73h1.5m9 0h1.5m6 0h1.5m19.5 0h1.5m16.5 0h1.5m34.5 0h1.5m36 0h1.5m16.5 0h1.5m15 0h1.5M28 75h1.5m10.5 0h1.5m1.5 0h1.5m39 0h1.5m118.5 0h1.5M35.5 77h1.5m4.5 0h1.5m28.5 0h1.5m1.5 0h1.5m9 0h1.5m36 0h3m16.5 0h1.5m31.5 0h3m18 0h1.5m6 0h1.5m9 0h1.5M40 79h1.5m34.5 0h1.5m63 0h1.5m6 0h1.5M20.5 81h1.5m9 0h1.5m7.5 0h1.5m4.5 0h1.5m24 0h1.5m43.5 0h1.5m25.5 0h1.5m39 0h1.5M17.5 83h1.5m9 0h1.5m19.5 0h1.5m19.5 0h1.5m85.5 0h1.5m21 0h1.5m4.5 0h1.5m30 0h1.5M80.5 85h1.5m1.5 0h1.5m1.5 0h1.5m10.5 0h1.5m4.5 0h1.5m16.5 0h1.5m10.5 0h1.5m48 0h1.5m28.5 0h1.5M16 87h1.5m1.5 0h1.5m28.5 0h1.5m13.5 0h1.5m9 0h1.5m6 0h1.5m52.5 0h1.5m13.5 0h1.5M26.5 89h1.5m3 0h1.5m22.5 0h1.5m16.5 0h1.5m76.5 0h1.5m93 0h1.5M65.5 91h1.5m1.5 0h1.5m42 0h1.5m63 0h1.5M41.5 93h1.5m54 0h1.5m24 0h1.5m10.5 0h1.5m36 0h1.5m3 0h1.5M25 95h1.5m18 0h1.5m22.5 0h1.5m3 0h1.5m4.5 0h1.5m10.5 0h1.5m27 0h1.5m9 0h1.5m3 0h1.5m7.5 0h1.5m49.5 0h1.5M28 97h1.5m7.5 0h1.5m18 0h1.5m19.5 0h1.5m30 0h1.5m12 0h1.5m16.5 0h1.5m19.5 0h1.5m42 0h1.5M28 99h1.5m1.5 0h1.5m24 0h1.5m13.5 0h1.5m45 0h1.5m15 0h1.5m12 0h1.5m22.5 0h1.5m9 0h1.5M17.5 101h1.5m49.5 0h1.5m21 0h1.5m49.5 0h1.5m12 0h1.5M37 103h1.5m12 0h3m3 0h1.5m48 0h1.5m27 0h1.5m49.5 0h1.5M22 105h1.5m24 0h1.5m10.5 0h1.5m40.5 0h1.5m19.5 0h1.5m4.5 0h1.5m73.5 0h1.5M29.5 107h1.5m10.5 0h1.5m24 0h1.5m37.5 0h1.5m39 0h1.5m24 0h1.5m18 0h1.5M80.5 109h1.5m49.5 0h1.5m67.5 0h1.5M83.5 111h1.5m1.5 0h1.5m46.5 0h1.5m13.5 0h1.5m43.5 0h1.5m3 0h1.5m4.5 0h1.5m7.5 0h1.5m15 0h1.5m4.5 0h1.5M17.5 113h1.5m15 0h1.5m15 0h1.5m1.5 0h1.5m15 0h1.5m6 0h1.5m40.5 0h1.5m4.5 0h3m48 0h1.5M16 115h1.5m1.5 0h3m4.5 0h1.5m9 0h1.5m3 0h1.5m7.5 0h3m42 0h1.5m15 0h1.5m7.5 0h1.5m9 0h1.5m19.5 0h1.5M20.5 117h1.5m21 0h1.5m12 0h1.5m19.5 0h1.5m40.5 0h1.5m1.5 0h1.5m19.5 0h1.5m10.5 0h3M26.5 119h1.5m1.5 0h1.5m1.5 0h1.5m1.5 0h1.5m6 0h1.5m46.5 0h1.5m15 0h1.5m15 0h3m12 0h3m3 0h1.5m39 0h1.5m58.5 0h1.5M26.5 121h1.5m25.5 0h1.5m1.5 0h1.5m15 0h1.5m9 0h1.5m6 0h1.5m4.5 0h1.5m66 0h1.5m19.5 0h1.5M17.5 123h1.5m7.5 0h3m39 0h1.5m4.5 0h1.5m21 0h1.5m13.5 0h1.5m3 0h1.5m1.5 0h1.5m10.5 0h3m33 0h1.5M43 125h1.5m36 0h1.5m24 0h1.5m16.5 0h3m30 0h1.5m3 0h1.5M35.5 127h1.5m22.5 0h1.5m51 0h1.5m3 0h1.5m3 0h1.5m6 0h1.5m12 0h1.5M29.5 129h1.5m4.5 0h1.5m16.5 0h1.5m19.5 0h1.5m48 0h1.5m10.5 0h1.5m9 0h1.5m9 0h1.5m27 0h1.5m10.5 0h1.5M20.5 131h1.5m36 0h1.5m67.5 0h1.5m31.5 0h1.5m36 0h1.5m45 0h1.5M41.5 133h1.5m7.5 0h1.5m25.5 0h1.5m21 0h1.5m3 0h1.5m21 0h1.5m6 0h1.5m3 0h1.5m3 0h1.5m4.5 0h1.5m4.5 0h1.5m12 0h1.5m16.5 0h1.5m16.5 0h1.5M55 135h1.5m21 0h1.5m12 0h1.5m7.5 0h1.5m24 0h1.5m30 0h1.5m19.5 0h1.5M38.5 137h1.5m33 0h1.5m3 0h1.5m10.5 0h1.5m1.5 0h1.5m4.5 0h1.5m3 0h1.5m27 0h1.5m28.5 0h1.5m16.5 0h1.5m10.5 0h1.5m9 0h1.5M65.5 139h1.5m51 0h1.5m9 0h1.5m6 0h1.5m3 0h1.5m48 0h1.5M22 141h1.5m1.5 0h1.5m6 0h1.5m7.5 0h1.5m33 0h1.5m7.5 0h1.5m1.5 0h1.5m10.5 0h1.5m28.5 0h1.5m3 0h1.5m9 0h1.5m51 0h1.5m4.5 0h1.5M176.5 143h1.5m1.5 0h1.5M17.5 145h1.5m10.5 0h1.5m54 0h1.5m9 0h1.5m22.5 0h1.5m16.5 0h1.5m13.5 0h1.5m4.5 0h1.5m3 0h1.5M52 147h1.5m15 0h1.5m25.5 0h3m15 0h1.5m39 0h1.5m15 0h1.5m1.5 0h1.5m10.5 0h1.5m25.5 0h1.5M40 149h1.5m34.5 0h1.5m57 0h1.5m1.5 0h3m58.5 0h1.5m12 0h1.5M32.5 151h1.5m3 0h3m66 0h1.5m1.5 0h1.5m1.5 0h1.5M31 153h1.5m36 0h1.5m6 0h1.5m12 0h3M23.5 155h1.5m24 0h1.5m57 0h1.5m7.5 0h1.5m12 0h1.5m7.5 0h1.5m7.5 0h1.5m4.5 0h1.5m37.5 0h1.5M20.5 157h1.5m6 0h1.5m43.5 0h1.5m10.5 0h1.5m21 0h1.5m4.5 0h1.5m30 0h1.5m24 0h3m34.5 0h1.5m13.5 0h3M25 159h1.5m15 0h1.5m28.5 0h1.5m28.5 0h1.5m63 0h1.5m18 0h1.5m16.5 0h1.5M26.5 161h1.5m16.5 0h1.5m36 0h1.5m4.5 0h1.5m66 0h1.5m7.5 0h1.5m24 0h1.5M44.5 163h1.5m16.5 0h1.5m13.5 0h1.5m10.5 0h1.5m19.5 0h1.5m1.5 0h1.5m48 0h1.5m16.5 0h1.5m10.5 0h1.5m1.5 0h1.5M17.5 165h1.5m48 0h1.5m3 0h1.5m18 0h1.5m4.5 0h3m61.5 0h1.5m12 0h1.5m4.5 0h1.5m10.5 0h1.5M26.5 167h1.5m19.5 0h3m21 0h1.5m4.5 0h1.5m45 0h1.5M86.5 169h1.5m40.5 0h1.5m13.5 0h1.5M35.5 171h1.5m6 0h1.5m99 0h1.5m15 0h1.5m15 0h1.5M22 173h1.5m51 0h1.5m105 0h1.5M37 175h1.5m24 0h1.5m37.5 0h1.5m19.5 0h1.5m9 0h1.5m21 0h1.5m4.5 0h1.5m6 0h1.5m19.5 0h1.5m1.5 0h3m19.5 0h1.5M22 177h1.5m18 0h1.5m7.5 0h1.5m10.5 0h1.5m45 0h1.5m27 0h1.5m66 0h1.5m13.5 0h1.5M17.5 179h1.5m10.5 0h1.5m7.5 0h1.5m1.5 0h1.5m31.5 0h1.5m7.5 0h3m52.5 0h1.5m4.5 0h1.5m15 0h1.5m31.5 0h1.5m18 0h1.5M26.5 181h1.5m24 0h1.5m3 0h1.5m12 0h1.5m25.5 0h1.5m1.5 0h1.5m31.5 0h1.5m12 0h1.5m9 0h1.5m1.5 0h1.5m49.5 0h1.5m6 0h1.5M128.5 183h1.5m13.5 0h1.5m45 0h1.5m25.5 0h1.5M50.5 185h1.5m52.5 0h1.5m1.5 0h1.5m42 0h1.5m7.5 0h1.5M20.5 187h1.5m1.5 0h1.5m16.5 0h1.5m13.5 0h1.5m7.5 0h1.5m15 0h1.5m6 0h1.5m1.5 0h3m31.5 0h1.5m37.5 0h1.5M34 189h3m6 0h3m3 0h1.5m61.5 0h1.5m3 0h1.5m15 0h1.5m55.5 0h1.5M49 191h1.5m54 0h1.5m55.5 0h1.5m31.5 0h1.5m13.5 0h1.5M16 193h1.5m21 0h1.5m42 0h1.5m4.5 0h1.5m30 0h3m54 0h1.5m52.5 0h1.5M16 195h1.5m33 0h1.5m12 0h1.5m10.5 0h1.5m19.5 0h1.5m43.5 0h1.5m3 0h3m6 0h1.5m10.5 0h1.5m3 0h1.5m1.5 0h1.5m58.5 0h1.5M68.5 197h1.5m4.5 0h1.5m1.5 0h1.5m15 0h1.5m24 0h1.5m66 0h1.5m16.5 0h1.5M65.5 199h1.5m4.5 0h1.5m9 0h1.5m61.5 0h1.5m18 0h1.5M53.5 201h1.5m34.5 0h1.5m79.5 0h1.5m24 0h1.5m7.5 0h1.5m6 0h1.5m27 0h1.5M38.5 203h1.5m6 0h1.5m18 0h1.5m18 0h1.5m69 0h1.5m1.5 0h1.5m22.5 0h1.5m15 0h1.5m42 0h1.5M34 205h1.5m7.5 0h1.5m21 0h1.5m25.5 0h1.5m15 0h1.5m9 0h1.5m15 0h1.5m13.5 0h1.5m1.5 0h3m12 0h1.5m19.5 0h1.5m3 0h1.5m9 0h1.5m16.5 0h1.5m19.5 0h1.5M70 207h1.5m93 0h1.5m10.5 0h1.5m1.5 0h1.5m18 0h1.5m6 0h1.5M131.5 209h1.5m34.5 0h1.5m21 0h1.5m10.5 0h1.5m1.5 0h1.5m1.5 0h1.5m27 0h1.5M35.5 211h1.5m28.5 0h1.5m111 0h1.5m16.5 0h1.5m24 0h1.5m1.5 0h1.5M43 213h1.5m6 0h1.5m60 0h1.5m10.5 0h1.5m31.5 0h1.5m3 0h1.5m27 0h1.5m42 0h1.5m12 0h1.5M65.5 215h1.5m61.5 0h1.5m39 0h1.5m3 0h1.5m46.5 0h1.5M38.5 217h1.5m28.5 0h1.5m33 0h1.5m33 0h1.5m12 0h1.5m34.5 0h1.5m24 0h1.5M17.5 219h1.5m27 0h1.5m27 0h1.5m135 0h1.5m6 0h1.5m4.5 0h1.5m1.5 0h1.5M40 221h1.5m63 0h1.5m3 0h1.5m78 0h1.5m10.5 0h1.5m18 0h1.5m15 0h1.5m6 0h1.5M121 223h1.5m22.5 0h1.5m9 0h1.5m18 0h1.5m18 0h1.5M53.5 225h1.5m66 0h1.5m13.5 0h1.5m46.5 0h1.5m1.5 0h1.5m16.5 0h1.5m28.5 0h1.5m7.5 0h1.5M94 227h3m12 0h1.5m46.5 0h1.5m28.5 0h1.5m19.5 0h1.5m24 0h1.5M25 229h1.5m48 0h1.5m58.5 0h1.5m39 0h1.5m10.5 0h3m30 0h1.5M32.5 231h1.5m49.5 0h1.5m13.5 0h1.5m72 0h1.5m37.5 0h1.5m16.5 0h1.5M22 233h1.5m9 0h1.5m25.5 0h1.5m69 0h1.5m54 0h1.5m54 0h1.5M92.5 235h1.5m84 0h1.5m28.5 0h1.5m3 0h1.5M76 237h1.5m82.5 0h1.5m1.5 0h1.5m45 0h1.5m10.5 0h1.5m10.5 0h1.5M23.5 239h1.5m177 0h1.5m37.5 0h1.5M22 241h1.5m55.5 0h1.5m85.5 0h1.5m25.5 0h1.5m24 0h1.5M34 243h1.5m16.5 0h1.5m36 0h1.5m52.5 0h3m24 0h1.5m3 0h1.5m7.5 0h1.5m21 0h1.5m10.5 0h1.5m6 0h1.5m16.5 0h1.5M65.5 245h1.5m15 0h1.5m13.5 0h1.5m21 0h1.5m1.5 0h1.5m7.5 0h1.5m37.5 0h1.5m16.5 0h1.5m21 0h1.5M143.5 247h1.5m12 0h1.5m33 0h1.5m9 0h1.5m24 0h1.5M46 249h1.5m84 0h1.5m58.5 0h3m3 0h1.5m1.5 0h1.5m34.5 0h1.5M79 251h1.5m7.5 0h1.5m39 0h1.5m39 0h1.5m48 0h1.5m10.5 0h1.5"/><path stroke="rgb(42, 85, 21)" d="M32.5 63h1.5m21 0h1.5m6 0h1.5m72 0h1.5M103 67h1.5M16 69h1.5m7.5 0h1.5m19.5 0h1.5m127.5 0h1.5m9 0h1.5M58 71h1.5m61.5 0h1.5M19 73h1.5m127.5 0h1.5m46.5 0h1.5m51 0h1.5M26.5 75h1.5m37.5 0h1.5m7.5 0h1.5M20.5 77h1.5m45 0h1.5m19.5 0h1.5m108 0h1.5M23.5 79h1.5m7.5 0h1.5m16.5 0h1.5m63 0h1.5M77.5 81h1.5m18 0h1.5M47.5 83h1.5m28.5 0h3m9 0h1.5m27 0h1.5m91.5 0h1.5M166 85h1.5M94 87h1.5m7.5 0h1.5m1.5 0h1.5M79 89h1.5M145 91h1.5M16 93h1.5m46.5 0h1.5m45 0h1.5m9 0h1.5m31.5 0h1.5m3 0h1.5M23.5 95h1.5m9 0h1.5m49.5 0h1.5M82 97h1.5m4.5 0h1.5m91.5 0h1.5M35.5 99h1.5m79.5 0h1.5m12 0h1.5m22.5 0h1.5M62.5 101h1.5m118.5 0h1.5M32.5 103h1.5m13.5 0h1.5m48 0h1.5m33 0h1.5M43 105h1.5m168 0h1.5M34 107h1.5m120 0h1.5m31.5 0h1.5M64 109h1.5m30 0h1.5M94 111h1.5m114 0h1.5M47.5 113h1.5m16.5 0h1.5m1.5 0h1.5m36 0h1.5m54 0h1.5m25.5 0h1.5m31.5 0h1.5M100 115h1.5M31 117h1.5m3 0h1.5m31.5 0h1.5m3 0h1.5M20.5 119h1.5m46.5 0h1.5m1.5 0h3m36 0h1.5m42 0h1.5m24 0h1.5M74.5 121h1.5M134.5 123h1.5M190 125h1.5M70 127h1.5m82.5 0h1.5m15 0h1.5m27 0h1.5M22 129h1.5m7.5 0h1.5m33 0h1.5m31.5 0h1.5m88.5 0h1.5M85 131h1.5M43 133h1.5m19.5 0h1.5M35.5 135h1.5M26.5 137h1.5m63 0h1.5M52 139h1.5m49.5 0h1.5m34.5 0h1.5M26.5 141h1.5m21 0h3m49.5 0h1.5m10.5 0h1.5m64.5 0h1.5M44.5 143h1.5m115.5 0h1.5m15 0h1.5m37.5 0h1.5M77.5 145h1.5m1.5 0h1.5m97.5 0h1.5m21 0h1.5M79 147h1.5m39 0h1.5M22 149h1.5m18 0h1.5m6 0h1.5M73 151h1.5m87 0h1.5m78 0h1.5M83.5 153h1.5M62.5 155h1.5m48 0h1.5m21 0h1.5m70.5 0h1.5M29.5 157h1.5m21 0h1.5m10.5 0h1.5m145.5 0h1.5M22 159h1.5m22.5 0h1.5m160.5 0h1.5M17.5 161h1.5M74.5 163h1.5m30 0h1.5m7.5 0h1.5m15 0h1.5m22.5 0h1.5m4.5 0h1.5M43 165h1.5m31.5 0h1.5m111 0h1.5M197.5 167h1.5M46 169h1.5m120 0h1.5m21 0h1.5m1.5 0h1.5M67 171h1.5m39 0h1.5m6 0h1.5m30 0h1.5m60 0h1.5M40 173h1.5m84 0h1.5M34 175h3m6 0h1.5m112.5 0h1.5M82 177h1.5M16 181h1.5m30 0h1.5M103 183h1.5m4.5 0h1.5m22.5 0h3M50.5 187h1.5m72 0h1.5m10.5 0h1.5m7.5 0h1.5m61.5 0h1.5M23.5 189h3m37.5 0h1.5m66 0h1.5m73.5 0h1.5M37 191h1.5m60 0h1.5M41.5 193h1.5m15 0h1.5m39 0h1.5m7.5 0h1.5m1.5 0h1.5m22.5 0h1.5M49 195h1.5m103.5 0h1.5m1.5 0h1.5m30 0h1.5m27 0h1.5M32.5 197h1.5M83.5 199h1.5m9 0h1.5m85.5 0h1.5M122.5 201h1.5m54 0h1.5m66 0h1.5M220 203h3M22 205h1.5m6 0h1.5m13.5 0h1.5m24 0h1.5m9 0h1.5m91.5 0h1.5m10.5 0h1.5M38.5 207h1.5m123 0h1.5m67.5 0h1.5M185.5 209h1.5M154 211h1.5m79.5 0h1.5m10.5 0h1.5M65.5 213h1.5m135 0h1.5M196 215h1.5M49 219h1.5m123 0h1.5m1.5 0h1.5m1.5 0h1.5m27 0h1.5M34 221h1.5m157.5 0h1.5m19.5 0h1.5m1.5 0h1.5M232 223h3M88 227h1.5m90 0h1.5m15 0h1.5m3 0h1.5m3 0h1.5M101.5 229h1.5m126 0h1.5m9 0h1.5M67 231h1.5m70.5 0h1.5m30 0h1.5m34.5 0h1.5m1.5 0h1.5M31 233h1.5m25.5 0h1.5m136.5 0h1.5M19 235h1.5m9 0h3m33 0h1.5M22 237h1.5m27 0h1.5M65.5 239h1.5m96 0h1.5m18 0h1.5M16 241h1.5m108 0h1.5m82.5 0h1.5m3 0h1.5M22 243h1.5m175.5 0h1.5m27 0h1.5m7.5 0h1.5M40 245h1.5m94.5 0h1.5m3 0h1.5m36 0h1.5m40.5 0h1.5m16.5 0h1.5M179.5 247h1.5M23.5 249h1.5m73.5 0h1.5m10.5 0h1.5m64.5 0h1.5m36 0h1.5M74.5 251h1.5m13.5 0h1.5m40.5 0h1.5m73.5 0h1.5"/><path stroke="rgb(63, 0, 0)" d="M56.5 63h3m22.5 0h1.5m72 0h1.5m12 0h1.5m4.5 0h1.5m15 0h1.5m3 0h1.5m1.5 0h1.5m12 0h1.5m1.5 0h1.5M29.5 65h1.5m4.5 0h1.5m18 0h3m31.5 0h1.5m9 0h1.5m30 0h1.5m9 0h1.5m1.5 0h1.5m7.5 0h1.5m6 0h1.5m10.5 0h1.5m9 0h1.5m9 0h1.5m12 0h1.5M29.5 67h1.5m4.5 0h1.5m24 0h1.5m36 0h1.5m24 0h1.5m10.5 0h1.5m9 0h1.5m28.5 0h1.5m28.5 0h1.5m1.5 0h1.5m7.5 0h1.5m6 0h1.5m1.5 0h3m12 0h1.5M29.5 69h1.5m45 0h1.5m7.5 0h1.5m10.5 0h1.5m15 0h1.5m4.5 0h1.5m40.5 0h1.5m4.5 0h1.5m55.5 0h1.5m10.5 0h1.5M44.5 71h1.5m54 0h1.5m15 0h3m9 0h1.5m22.5 0h1.5m40.5 0h1.5m34.5 0h1.5M20.5 73h1.5m21 0h1.5m9 0h1.5m30 0h1.5m6 0h1.5m9 0h1.5m10.5 0h1.5m72 0h1.5m1.5 0h1.5m4.5 0h1.5m13.5 0h1.5m18 0h1.5m13.5 0h1.5M56.5 75h1.5m46.5 0h1.5m21 0h1.5m12 0h1.5m6 0h3m9 0h1.5m15 0h1.5m12 0h1.5M38.5 77h1.5m13.5 0h1.5m109.5 0h1.5m12 0h3m21 0h1.5m9 0h1.5m9 0h1.5m6 0h1.5m9 0h1.5M19 79h1.5m21 0h1.5m16.5 0h1.5m13.5 0h1.5m4.5 0h1.5m36 0h1.5m22.5 0h1.5m1.5 0h3m15 0h1.5m6 0h1.5m10.5 0h1.5m13.5 0h3m1.5 0h1.5m9 0h1.5m15 0h1.5m3 0h1.5M16 81h1.5m16.5 0h1.5m3 0h1.5m21 0h1.5m10.5 0h1.5m1.5 0h1.5m9 0h1.5m4.5 0h1.5m51 0h1.5m55.5 0h1.5M25 83h1.5m55.5 0h1.5m117 0h1.5m25.5 0h1.5M20.5 85h1.5m21 0h1.5m16.5 0h1.5m45 0h1.5m19.5 0h1.5m30 0h1.5m27 0h1.5m1.5 0h1.5m1.5 0h1.5m16.5 0h1.5m30 0h1.5m1.5 0h3M38.5 87h1.5m6 0h1.5m9 0h3m6 0h1.5m3 0h1.5m24 0h1.5m49.5 0h1.5m36 0h1.5m12 0h1.5m7.5 0h1.5M19 89h1.5m19.5 0h1.5m27 0h1.5m7.5 0h1.5m25.5 0h1.5m1.5 0h1.5m7.5 0h4.5m34.5 0h1.5m24 0h1.5m43.5 0h1.5m21 0h1.5M53.5 91h1.5m22.5 0h1.5m63 0h1.5m13.5 0h1.5m25.5 0h1.5m21 0h1.5m37.5 0h1.5M17.5 93h1.5m54 0h1.5m3 0h1.5m1.5 0h1.5m13.5 0h1.5m67.5 0h1.5m24 0h1.5m1.5 0h3m15 0h1.5m19.5 0h1.5M95.5 95h1.5m3 0h1.5m1.5 0h1.5m1.5 0h1.5m13.5 0h1.5m6 0h1.5m6 0h1.5m12 0h1.5m13.5 0h1.5m3 0h1.5m1.5 0h1.5m6 0h3m15 0h3m16.5 0h1.5M62.5 97h1.5m25.5 0h1.5m21 0h3m24 0h1.5m9 0h1.5m57 0h1.5m16.5 0h1.5M26.5 99h1.5m24 0h1.5m12 0h1.5m9 0h1.5m45 0h1.5m16.5 0h1.5m37.5 0h3m49.5 0h1.5M40 101h1.5m9 0h1.5m15 0h1.5m3 0h1.5m10.5 0h1.5m79.5 0h1.5m27 0h1.5M82 103h1.5m40.5 0h1.5m1.5 0h1.5m9 0h3m4.5 0h1.5m15 0h1.5m15 0h1.5M94 105h1.5m28.5 0h1.5m7.5 0h1.5m30 0h1.5m19.5 0h1.5m4.5 0h1.5m16.5 0h1.5m24 0h1.5m3 0h1.5m1.5 0h1.5M37 107h1.5m16.5 0h3m69 0h1.5m3 0h1.5m6 0h3m78 0h1.5M37 109h1.5m39 0h1.5m4.5 0h1.5m1.5 0h1.5m13.5 0h1.5m9 0h1.5m6 0h1.5m13.5 0h1.5m49.5 0h1.5m46.5 0h1.5M50.5 111h1.5m48 0h1.5m4.5 0h1.5m37.5 0h1.5m7.5 0h1.5m15 0h1.5m1.5 0h1.5m10.5 0h1.5m6 0h1.5m54 0h1.5M103 113h1.5m9 0h1.5m91.5 0h1.5m1.5 0h1.5m18 0h1.5M43 115h1.5m34.5 0h1.5m4.5 0h1.5m3 0h1.5m24 0h1.5m7.5 0h1.5m10.5 0h1.5m18 0h1.5m85.5 0h1.5M109 117h1.5m28.5 0h1.5m31.5 0h1.5m10.5 0h3m4.5 0h1.5m6 0h1.5m1.5 0h1.5m40.5 0h1.5M37 119h1.5m40.5 0h3m39 0h1.5m33 0h1.5m33 0h1.5m15 0h1.5m9 0h1.5m1.5 0h1.5M55 121h1.5m9 0h1.5m9 0h1.5m64.5 0h1.5m58.5 0h1.5m13.5 0h1.5M46 123h3m6 0h1.5m108 0h1.5m15 0h1.5M109 125h1.5m31.5 0h1.5m55.5 0h3M31 127h1.5m93 0h3m10.5 0h1.5m3 0h3m45 0h1.5m1.5 0h1.5m27 0h1.5m18 0h1.5M67 129h1.5m39 0h1.5m36 0h1.5m15 0h1.5m1.5 0h1.5m12 0h1.5m25.5 0h1.5m30 0h1.5m3 0h1.5M25 131h1.5m45 0h1.5m24 0h1.5m1.5 0h1.5m9 0h1.5m6 0h1.5m1.5 0h1.5m16.5 0h1.5m25.5 0h3m45 0h1.5m7.5 0h1.5m3 0h1.5m1.5 0h1.5m6 0h1.5m3 0h1.5M146.5 133h1.5m15 0h1.5m7.5 0h1.5m30 0h1.5m18 0h1.5M85 135h1.5m3 0h1.5m27 0h1.5m9 0h1.5m43.5 0h1.5m4.5 0h1.5m24 0h1.5m9 0h1.5M86.5 137h1.5m6 0h1.5m34.5 0h1.5m46.5 0h1.5m4.5 0h1.5m15 0h1.5m18 0h1.5M34 139h1.5m60 0h1.5m16.5 0h1.5m4.5 0h1.5m10.5 0h1.5m22.5 0h1.5m6 0h1.5m1.5 0h1.5m49.5 0h1.5M73 141h1.5m31.5 0h1.5m40.5 0h1.5m25.5 0h1.5m6 0h1.5m25.5 0h1.5M59.5 143h1.5m39 0h1.5m58.5 0h1.5m3 0h3m43.5 0h1.5m12 0h1.5m3 0h1.5m13.5 0h1.5m3 0h1.5M47.5 145h1.5m16.5 0h1.5m12 0h1.5m1.5 0h1.5m70.5 0h1.5m66 0h1.5m1.5 0h1.5M46 147h1.5m25.5 0h1.5m1.5 0h1.5m21 0h1.5m24 0h1.5m10.5 0h1.5m6 0h1.5m79.5 0h1.5m6 0h1.5m3 0h1.5M29.5 149h1.5m25.5 0h3m9 0h1.5m10.5 0h1.5m7.5 0h1.5m40.5 0h1.5m27 0h1.5m16.5 0h1.5m13.5 0h1.5m27 0h1.5m18 0h1.5m6 0h1.5M110.5 151h1.5m13.5 0h1.5m7.5 0h1.5m10.5 0h1.5m3 0h1.5m4.5 0h1.5m10.5 0h1.5m28.5 0h1.5m18 0h1.5m15 0h1.5m3 0h1.5M20.5 153h1.5m33 0h1.5m13.5 0h1.5m10.5 0h1.5m16.5 0h1.5m9 0h1.5m52.5 0h1.5m1.5 0h1.5m43.5 0h1.5m12 0h1.5m12 0h1.5M35.5 155h3m55.5 0h1.5m10.5 0h1.5m1.5 0h1.5m49.5 0h1.5m18 0h1.5M23.5 157h1.5m13.5 0h1.5m25.5 0h1.5m16.5 0h1.5m90 0h1.5m1.5 0h1.5m22.5 0h1.5m1.5 0h1.5m19.5 0h1.5m3 0h1.5m9 0h1.5m4.5 0h1.5M70 159h1.5m115.5 0h1.5m13.5 0h1.5m43.5 0h1.5M37 161h1.5m28.5 0h1.5m42 0h3m16.5 0h1.5m7.5 0h1.5m10.5 0h1.5m19.5 0h1.5m7.5 0h1.5m33 0h1.5m27 0h1.5m1.5 0h1.5M91 163h1.5m57 0h1.5m9 0h1.5m13.5 0h1.5m27 0h1.5m36 0h1.5M19 165h1.5m7.5 0h1.5m4.5 0h1.5m43.5 0h1.5m28.5 0h1.5m25.5 0h1.5m15 0h1.5m6 0h1.5m7.5 0h1.5m6 0h1.5m19.5 0h3m13.5 0h1.5m4.5 0h1.5m15 0h1.5M23.5 167h1.5m28.5 0h1.5m21 0h1.5m73.5 0h1.5m4.5 0h1.5m6 0h1.5m3 0h3m27 0h1.5M23.5 169h1.5m19.5 0h1.5m18 0h1.5m16.5 0h1.5m1.5 0h1.5m22.5 0h1.5m7.5 0h1.5m3 0h1.5m7.5 0h1.5m7.5 0h1.5m19.5 0h1.5m3 0h1.5m24 0h1.5m18 0h1.5m4.5 0h1.5m19.5 0h1.5M38.5 171h1.5m9 0h1.5m18 0h1.5m7.5 0h1.5m40.5 0h1.5m37.5 0h1.5m1.5 0h1.5m3 0h1.5m27 0h1.5m6 0h1.5m10.5 0h1.5M20.5 173h1.5m19.5 0h3m10.5 0h1.5m22.5 0h3m58.5 0h1.5m12 0h1.5m7.5 0h1.5m12 0h1.5m1.5 0h1.5m12 0h1.5m48 0h1.5M40 175h1.5m85.5 0h1.5m60 0h1.5m1.5 0h1.5m3 0h1.5m1.5 0h1.5m1.5 0h1.5m18 0h1.5m22.5 0h1.5M19 177h1.5m16.5 0h1.5m105 0h1.5m24 0h1.5m7.5 0h1.5m4.5 0h1.5m16.5 0h1.5m13.5 0h1.5m3 0h1.5m7.5 0h1.5M73 179h1.5m58.5 0h1.5m24 0h1.5m6 0h1.5m4.5 0h1.5m9 0h3m34.5 0h3M77.5 181h1.5m33 0h1.5m1.5 0h1.5m28.5 0h1.5m21 0h1.5m13.5 0h1.5m3 0h1.5m45 0h1.5M67 183h1.5m25.5 0h1.5m49.5 0h1.5m3 0h1.5m12 0h1.5m22.5 0h1.5m6 0h1.5m7.5 0h1.5m27 0h1.5M80.5 185h1.5m27 0h1.5m1.5 0h1.5m12 0h1.5m72 0h1.5m31.5 0h1.5M38.5 187h1.5m34.5 0h1.5m12 0h1.5m52.5 0h1.5m6 0h1.5m1.5 0h1.5m9 0h1.5m57 0h1.5m19.5 0h1.5M62.5 189h1.5m9 0h1.5m13.5 0h1.5m10.5 0h1.5m4.5 0h1.5m1.5 0h1.5m25.5 0h1.5m4.5 0h1.5m15 0h1.5m28.5 0h1.5m15 0h1.5m10.5 0h1.5m7.5 0h1.5M32.5 191h1.5m72 0h1.5m73.5 0h1.5m18 0h1.5m16.5 0h1.5m4.5 0h1.5M34 193h1.5m126 0h1.5m6 0h1.5m19.5 0h1.5m25.5 0h1.5M59.5 195h1.5m78 0h1.5m21 0h1.5m7.5 0h1.5m36 0h1.5m3 0h1.5M70 197h1.5m58.5 0h1.5m16.5 0h1.5m28.5 0h3m13.5 0h1.5m37.5 0h1.5M28 199h1.5m24 0h1.5m37.5 0h1.5m7.5 0h1.5m9 0h3m4.5 0h1.5m3 0h1.5m12 0h1.5m45 0h1.5m9 0h1.5m16.5 0h1.5m6 0h1.5m21 0h3M26.5 201h1.5m36 0h1.5m12 0h1.5m6 0h3m6 0h1.5m63 0h1.5m4.5 0h1.5m1.5 0h1.5m13.5 0h1.5M19 203h1.5m40.5 0h1.5m43.5 0h1.5m31.5 0h1.5m12 0h1.5m90 0h1.5M49 205h1.5m24 0h1.5m10.5 0h1.5m7.5 0h1.5m9 0h1.5m27 0h1.5m24 0h1.5m39 0h1.5m34.5 0h1.5m3 0h1.5M34 207h1.5m7.5 0h1.5m1.5 0h1.5m48 0h1.5M17.5 209h1.5m16.5 0h1.5m48 0h1.5m19.5 0h1.5m6 0h1.5m1.5 0h3m10.5 0h1.5m3 0h1.5m6 0h1.5m21 0h1.5m40.5 0h1.5M22 211h1.5m25.5 0h1.5m9 0h1.5m15 0h1.5m27 0h1.5m40.5 0h1.5m10.5 0h1.5m28.5 0h1.5M28 213h1.5m1.5 0h1.5m21 0h1.5m9 0h1.5m9 0h1.5m10.5 0h3m25.5 0h1.5m93 0h1.5M31 215h1.5m1.5 0h1.5m45 0h1.5m10.5 0h1.5m12 0h1.5m13.5 0h1.5m3 0h1.5m9 0h1.5m13.5 0h1.5M40 217h1.5m7.5 0h1.5m1.5 0h1.5m1.5 0h1.5m4.5 0h1.5m61.5 0h1.5m4.5 0h1.5m16.5 0h1.5m15 0h1.5m12 0h1.5M43 219h1.5m27 0h1.5m18 0h1.5m12 0h1.5m7.5 0h1.5m34.5 0h3m54 0h1.5m30 0h1.5M44.5 221h1.5m19.5 0h1.5m16.5 0h1.5m9 0h1.5m4.5 0h1.5m9 0h1.5m4.5 0h1.5m4.5 0h1.5m6 0h1.5m55.5 0h1.5m36 0h1.5m4.5 0h1.5m1.5 0h1.5m10.5 0h1.5m1.5 0h1.5M34 223h1.5m6 0h1.5m22.5 0h1.5m1.5 0h1.5m6 0h1.5m9 0h1.5m13.5 0h1.5m30 0h1.5m19.5 0h1.5M25 225h1.5m52.5 0h1.5m84 0h1.5M49 227h1.5m4.5 0h1.5m1.5 0h1.5m7.5 0h1.5m6 0h1.5m22.5 0h1.5m12 0h1.5m19.5 0h1.5m34.5 0h1.5m27 0h1.5M17.5 229h1.5m18 0h1.5m7.5 0h1.5m69 0h1.5m19.5 0h1.5m7.5 0h1.5m75 0h1.5M25 231h1.5m30 0h3m34.5 0h1.5m7.5 0h1.5m21 0h1.5m4.5 0h1.5m3 0h1.5m27 0h1.5m9 0h1.5m40.5 0h1.5m7.5 0h1.5m12 0h1.5M17.5 233h1.5m49.5 0h3m24 0h1.5m22.5 0h1.5m54 0h1.5M28 235h1.5m21 0h1.5m24 0h1.5m6 0h1.5m21 0h1.5m7.5 0h1.5m6 0h1.5m12 0h1.5m10.5 0h1.5m10.5 0h1.5m61.5 0h1.5M17.5 237h1.5m9 0h1.5m1.5 0h1.5m22.5 0h1.5m27 0h1.5m19.5 0h1.5m25.5 0h1.5m6 0h1.5m12 0h1.5M53.5 239h1.5m46.5 0h1.5m37.5 0h1.5m16.5 0h1.5m1.5 0h1.5M56.5 241h1.5m22.5 0h1.5m39 0h3m10.5 0h1.5m28.5 0h1.5m25.5 0h1.5m9 0h1.5m16.5 0h1.5M38.5 243h3m4.5 0h3m30 0h1.5m1.5 0h1.5m27 0h1.5m27 0h1.5m15 0h1.5m9 0h3m60 0h1.5M23.5 245h1.5m34.5 0h1.5m13.5 0h1.5m9 0h1.5m25.5 0h1.5m1.5 0h1.5m34.5 0h1.5m16.5 0h1.5m52.5 0h1.5M17.5 247h1.5m4.5 0h1.5m6 0h1.5m18 0h1.5m48 0h1.5m73.5 0h1.5m46.5 0h1.5M16 249h1.5m25.5 0h1.5m13.5 0h1.5m52.5 0h3m6 0h1.5m3 0h3m9 0h1.5m25.5 0h3m3 0h1.5m9 0h1.5m61.5 0h1.5M16 251h1.5m49.5 0h3m10.5 0h1.5m12 0h1.5m10.5 0h1.5m18 0h1.5m7.5 0h1.5m6 0h1.5"/><path stroke="rgb(63, 85, 21)" d="M208 63h1.5M23.5 65h1.5m60 0h1.5m48 0h1.5m12 0h1.5M16 67h1.5m27 0h1.5m76.5 0h1.5m34.5 0h1.5m28.5 0h1.5M62.5 69h1.5m60 0h1.5m27 0h1.5m61.5 0h1.5m21 0h1.5M31 71h1.5m15 0h1.5m96 0h3m16.5 0h1.5M49 73h1.5m39 0h1.5m22.5 0h1.5m88.5 0h1.5M47.5 75h1.5m37.5 0h1.5m34.5 0h1.5M32.5 77h1.5m93 0h1.5m64.5 0h1.5m6 0h1.5M29.5 79h1.5m18 0h1.5m136.5 0h1.5M17.5 81h1.5m84 0h1.5m54 0h1.5M19 83h1.5m1.5 0h1.5m105 0h1.5M73 85h1.5m16.5 0h1.5m1.5 0h1.5m1.5 0h1.5m3 0h1.5m67.5 0h1.5m3 0h1.5M50.5 87h1.5m16.5 0h1.5m45 0h1.5m27 0h1.5M25 89h1.5M16 91h1.5m61.5 0h1.5m10.5 0h3M28 93h1.5m22.5 0h1.5m6 0h1.5M38.5 95h1.5m15 0h1.5m18 0h1.5M125.5 97h1.5M20.5 99h1.5m7.5 0h1.5m1.5 0h1.5m69 0h3m88.5 0h1.5m49.5 0h1.5M25 101h3m9 0h1.5m3 0h1.5M34 103h1.5m189 0h1.5m19.5 0h1.5M53.5 105h1.5m15 0h1.5m10.5 0h1.5m12 0h1.5m7.5 0h1.5m37.5 0h1.5m48 0h1.5m27 0h1.5M79 107h1.5m27 0h1.5m21 0h1.5m48 0h1.5m3 0h1.5m28.5 0h1.5M41.5 109h1.5m48 0h1.5m1.5 0h1.5m18 0h1.5M92.5 111h1.5m7.5 0h1.5m54 0h3m3 0h1.5M122.5 113h1.5M40 115h1.5m22.5 0h1.5m102 0h1.5m27 0h1.5m16.5 0h1.5M25 117h1.5m3 0h1.5m43.5 0h1.5m105 0h1.5m10.5 0h1.5M17.5 119h1.5m21 0h1.5m130.5 0h1.5M22 121h1.5m7.5 0h1.5m7.5 0h1.5m45 0h1.5m6 0h1.5M38.5 123h1.5m31.5 0h1.5m31.5 0h1.5m33 0h1.5m3 0h1.5m54 0h1.5M35.5 125h1.5m22.5 0h1.5m33 0h1.5m1.5 0h1.5m24 0h1.5m16.5 0h1.5M58 127h1.5m27 0h1.5m16.5 0h1.5M26.5 129h1.5m6 0h1.5m10.5 0h1.5m10.5 0h1.5m19.5 0h1.5m46.5 0h1.5m39 0h1.5m33 0h1.5M17.5 131h3m9 0h1.5m1.5 0h1.5m15 0h1.5m28.5 0h1.5m24 0h1.5m7.5 0h1.5M62.5 133h1.5m51 0h3M41.5 135h1.5M52 137h1.5m12 0h1.5m12 0h1.5m75 0h1.5M35.5 139h1.5m4.5 0h1.5m10.5 0h1.5m3 0h1.5m10.5 0h1.5m21 0h1.5M16 141h1.5m121.5 0h1.5M83.5 143h1.5m88.5 0h1.5M32.5 145h1.5m30 0h1.5m52.5 0h1.5m3 0h1.5m12 0h1.5m66 0h1.5m7.5 0h1.5m12 0h1.5M37 147h1.5m22.5 0h3m46.5 0h1.5m46.5 0h1.5m1.5 0h1.5m39 0h1.5M17.5 149h1.5m6 0h1.5m69 0h1.5m4.5 0h1.5M88 151h1.5m31.5 0h1.5m4.5 0h1.5m52.5 0h1.5M118 153h1.5m7.5 0h1.5m33 0h1.5M38.5 155h1.5m49.5 0h1.5m9 0h1.5m30 0h1.5m34.5 0h1.5M134.5 157h1.5m55.5 0h1.5m46.5 0h1.5M40 159h1.5m1.5 0h3m82.5 0h1.5m46.5 0h1.5M55 161h1.5m70.5 0h1.5M19 163h1.5m43.5 0h1.5m150 0h1.5M22 165h1.5m1.5 0h1.5m177 0h1.5M29.5 167h1.5m69 0h1.5m13.5 0h1.5m36 0h1.5m51 0h1.5M17.5 169h3m4.5 0h1.5m45 0h1.5m28.5 0h3m1.5 0h1.5m6 0h1.5m99 0h1.5M25 171h1.5m36 0h1.5m19.5 0h1.5m1.5 0h1.5M47.5 173h1.5m85.5 0h1.5m10.5 0h1.5m49.5 0h1.5M19 175h1.5m51 0h1.5m39 0h1.5m58.5 0h1.5M68.5 177h1.5m79.5 0h1.5m52.5 0h1.5M23.5 179h1.5m34.5 0h1.5m88.5 0h1.5M32.5 181h1.5m1.5 0h1.5m39 0h1.5m57 0h1.5m22.5 0h1.5m43.5 0h1.5M53.5 183h1.5m3 0h1.5m27 0h1.5m34.5 0h1.5m33 0h3m25.5 0h1.5M16 185h1.5m12 0h1.5m3 0h1.5m136.5 0h1.5M35.5 187h1.5m3 0h1.5m22.5 0h1.5m19.5 0h1.5m10.5 0h1.5m45 0h1.5m25.5 0h1.5m45 0h1.5M58 189h1.5m10.5 0h1.5m75 0h1.5m3 0h1.5m18 0h3M68.5 191h1.5M65.5 193h1.5m28.5 0h1.5m70.5 0h1.5m9 0h1.5M31 195h1.5m45 0h1.5m24 0h1.5m109.5 0h1.5M26.5 197h1.5m21 0h1.5m10.5 0h1.5M16 199h3m27 0h1.5m22.5 0h1.5m45 0h1.5M70 201h1.5m24 0h1.5m103.5 0h1.5m18 0h1.5m9 0h1.5M71.5 203h1.5m166.5 0h1.5M77.5 205h1.5m3 0h1.5m13.5 0h1.5m33 0h1.5m33 0h1.5m39 0h1.5m9 0h1.5M158.5 207h1.5M191.5 211h1.5m13.5 0h1.5m15 0h1.5M40 213h1.5m93 0h1.5m57 0h1.5m12 0h1.5m22.5 0h1.5m10.5 0h1.5M71.5 215h1.5m97.5 0h3m12 0h1.5m3 0h1.5m1.5 0h1.5M211 217h1.5m28.5 0h1.5M67 219h1.5m79.5 0h1.5m46.5 0h1.5m28.5 0h1.5m19.5 0h1.5M53.5 221h1.5m12 0h1.5m52.5 0h1.5m72 0h1.5m22.5 0h1.5m9 0h1.5m1.5 0h1.5M67 223h1.5m96 0h1.5m22.5 0h1.5M95.5 225h1.5m100.5 0h1.5m22.5 0h1.5M100 227h1.5m87 0h1.5M88 229h1.5m1.5 0h1.5m27 0h1.5m28.5 0h1.5m6 0h1.5m88.5 0h1.5M74.5 231h1.5m109.5 0h1.5m10.5 0h1.5m13.5 0h1.5m24 0h1.5m3 0h1.5M94 233h1.5m123 0h1.5m6 0h1.5m6 0h1.5M20.5 235h1.5m33 0h1.5m37.5 0h1.5m39 0h1.5m16.5 0h1.5m51 0h1.5m42 0h1.5M74.5 237h1.5m31.5 0h1.5m52.5 0h1.5m9 0h1.5m4.5 0h1.5M167.5 239h1.5m3 0h1.5m15 0h1.5m7.5 0h1.5m1.5 0h1.5m3 0h1.5M16 243h1.5m202.5 0h1.5m21 0h1.5M164.5 245h1.5m61.5 0h1.5M92.5 247h1.5m75 0h1.5m7.5 0h1.5m49.5 0h1.5M208 249h1.5m37.5 0h1.5M32.5 251h1.5m31.5 0h1.5m118.5 0h1.5m58.5 0h1.5"/><path stroke="rgb(63, 106, 21)" d="M83.5 63h1.5m1.5 0h1.5M70 65h1.5m27 0h1.5M19 67h1.5m1.5 0h1.5m15 0h1.5m10.5 0h1.5m39 0h3m3 0h1.5M208 69h1.5M82 71h1.5m48 0h1.5m45 0h1.5M167.5 73h1.5m45 0h1.5M52 75h1.5M83.5 77h1.5m13.5 0h1.5m12 0h1.5m3 0h1.5m33 0h1.5m90 0h1.5M26.5 79h1.5m9 0h1.5m13.5 0h1.5m19.5 0h1.5M23.5 81h1.5m27 0h1.5m45 0h1.5m46.5 0h1.5m24 0h1.5m1.5 0h1.5M76 83h1.5m10.5 0h1.5m24 0h1.5m15 0h1.5m45 0h1.5M29.5 85h1.5m34.5 0h1.5M23.5 87h1.5M46 89h1.5m18 0h1.5M76 91h1.5m52.5 0h1.5M68.5 93h1.5m13.5 0h1.5m22.5 0h1.5m6 0h1.5m34.5 0h1.5M107.5 95h1.5M178 97h1.5M91 99h1.5m16.5 0h1.5m22.5 0h1.5M43 101h1.5m4.5 0h1.5m7.5 0h3m24 0h1.5m3 0h1.5m10.5 0h1.5M23.5 103h1.5m1.5 0h1.5m51 0h3m19.5 0h1.5m10.5 0h1.5m21 0h1.5m79.5 0h1.5M19 105h1.5m120 0h1.5M61 107h1.5m21 0h3m22.5 0h1.5m22.5 0h1.5M26.5 109h1.5m28.5 0h1.5m1.5 0h1.5m55.5 0h1.5M88 111h1.5m18 0h1.5m72 0h1.5M26.5 113h1.5m16.5 0h1.5m69 0h1.5M118 115h1.5M22 117h1.5m16.5 0h1.5m63 0h1.5m9 0h1.5m19.5 0h1.5m16.5 0h1.5M55 119h1.5m4.5 0h1.5m4.5 0h1.5m60 0h1.5M17.5 121h1.5m30 0h1.5m1.5 0h1.5m60 0h1.5M25 123h1.5m34.5 0h1.5m46.5 0h1.5M41.5 125h1.5m1.5 0h1.5m19.5 0h1.5M53.5 127h1.5m16.5 0h1.5m9 0h1.5m52.5 0h1.5m22.5 0h1.5m12 0h1.5M62.5 129h1.5m9 0h1.5m9 0h1.5m27 0h1.5m133.5 0h1.5M217 131h1.5M23.5 133h1.5m24 0h1.5M82 135h1.5m24 0h1.5M115 137h1.5m82.5 0h1.5M47.5 139h1.5M94 141h1.5m9 0h1.5m6 0h1.5M34 143h1.5m4.5 0h1.5m19.5 0h1.5m61.5 0h3M98.5 145h1.5m28.5 0h1.5m51 0h1.5M35.5 147h1.5m3 0h1.5m7.5 0h1.5m24 0h1.5m51 0h1.5m9 0h1.5M16 149h1.5m18 0h1.5m49.5 0h1.5m12 0h1.5m67.5 0h1.5M52 151h1.5m51 0h1.5m25.5 0h1.5m99 0h1.5M26.5 153h1.5m175.5 0h1.5M43 155h1.5M104.5 157h1.5m46.5 0h1.5m1.5 0h1.5m31.5 0h1.5M76 159h1.5m57 0h1.5m55.5 0h1.5M41.5 161h1.5m10.5 0h1.5m24 0h1.5m42 0h1.5M38.5 163h1.5m85.5 0h1.5m1.5 0h1.5m24 0h1.5m10.5 0h1.5M68.5 165h1.5m63 0h1.5M22 167h1.5m82.5 0h1.5m36 0h1.5m51 0h1.5M22 169h1.5m27 0h1.5m27 0h1.5m43.5 0h1.5m12 0h1.5m10.5 0h1.5m18 0h1.5M173.5 171h1.5M91 173h1.5m15 0h1.5m69 0h1.5M89.5 175h1.5m75 0h1.5M47.5 177h1.5M80.5 181h1.5m7.5 0h1.5m97.5 0h1.5M32.5 183h1.5m43.5 0h1.5m82.5 0h1.5M17.5 185h1.5m48 0h1.5m76.5 0h1.5m10.5 0h1.5M100 187h1.5m18 0h1.5M113.5 189h1.5M62.5 191h1.5M25 193h1.5m1.5 0h1.5m18 0h1.5m21 0h1.5m4.5 0h1.5m81 0h1.5M23.5 195h1.5m67.5 0h1.5m85.5 0h1.5M47.5 197h1.5m7.5 0h1.5m28.5 0h1.5M49 199h1.5M169 201h1.5M92.5 203h1.5m16.5 0h1.5m114 0h1.5M88 205h1.5m52.5 0h1.5m103.5 0h1.5M184 207h1.5m16.5 0h1.5m10.5 0h1.5M187 209h1.5m45 0h1.5M40 211h1.5m129 0h1.5m1.5 0h1.5M163 213h1.5M217 215h1.5m16.5 0h1.5M157 217h1.5m22.5 0h1.5M59.5 219h1.5m141 0h1.5M35.5 221h1.5m27 0h1.5m42 0h1.5m64.5 0h1.5m46.5 0h1.5m19.5 0h1.5M131.5 223h1.5m27 0h1.5m30 0h1.5m4.5 0h1.5m24 0h1.5m12 0h1.5M89.5 225h1.5m39 0h1.5m94.5 0h1.5m9 0h1.5M91 227h1.5m97.5 0h1.5M43 229h1.5m76.5 0h1.5m46.5 0h1.5m54 0h1.5m16.5 0h1.5M224.5 231h1.5M34 233h1.5m100.5 0h1.5m64.5 0h1.5M211 235h1.5M154 237h1.5m30 0h1.5m21 0h1.5M110.5 239h1.5m102 0h1.5m10.5 0h1.5m9 0h1.5M19 241h1.5m112.5 0h1.5m82.5 0h1.5M116.5 243h1.5m70.5 0h1.5m6 0h1.5m6 0h1.5m36 0h1.5m4.5 0h1.5M206.5 245h1.5m13.5 0h1.5m16.5 0h1.5M20.5 247h1.5m154.5 0h1.5m12 0h1.5m19.5 0h1.5m13.5 0h1.5M106 249h1.5m64.5 0h1.5m12 0h1.5m48 0h1.5M61 251h1.5m96 0h1.5m37.5 0h1.5m3 0h1.5m1.5 0h1.5"/><path stroke="rgb(63, 106, 42)" d="M23.5 63h1.5m43.5 0h1.5m61.5 0h3M26.5 65h3m58.5 0h1.5m7.5 0h1.5m19.5 0h1.5M68.5 67h1.5m16.5 0h1.5m33 0h1.5m72 0h1.5M52 69h1.5m15 0h1.5m9 0h1.5M40 71h1.5m4.5 0h1.5m27 0h1.5m114 0h1.5M26.5 73h1.5m55.5 0h1.5M22 75h1.5m22.5 0h1.5M148 77h1.5M37 81h1.5m25.5 0h1.5m66 0h1.5M58 83h1.5m34.5 0h1.5m1.5 0h1.5M41.5 85h1.5m12 0h1.5m18 0h1.5m24 0h1.5m39 0h1.5m34.5 0h1.5m21 0h1.5M29.5 89h1.5m54 0h1.5m28.5 0h1.5m49.5 0h1.5m6 0h1.5m33 0h1.5M29.5 91h3m94.5 0h1.5M26.5 93h1.5m48 0h1.5m78 0h1.5M32.5 95h1.5m55.5 0h1.5m10.5 0h1.5m36 0h3m48 0h1.5M34 97h1.5m66 0h1.5m76.5 0h1.5M17.5 99h1.5m132 0h1.5M80.5 101h1.5m15 0h1.5m36 0h1.5M59.5 103h1.5m13.5 0h1.5m7.5 0h1.5M205 105h1.5M53.5 107h1.5m90 0h1.5M139 109h1.5m51 0h1.5m19.5 0h1.5M34 111h1.5m55.5 0h1.5M35.5 113h3m3 0h1.5M91 115h1.5m1.5 0h1.5M49 117h1.5m96 0h1.5M88 119h1.5m46.5 0h1.5m30 0h1.5m22.5 0h1.5M106 121h1.5m22.5 0h1.5m57 0h1.5m6 0h1.5M86.5 123h1.5m66 0h3M136 125h1.5M23.5 127h1.5m19.5 0h1.5M88 129h1.5m15 0h1.5M80.5 133h1.5m1.5 0h1.5m22.5 0h1.5m22.5 0h1.5M29.5 135h1.5m40.5 0h1.5m31.5 0h1.5m63 0h1.5M41.5 137h1.5m85.5 0h1.5m45 0h1.5M40 139h1.5m27 0h1.5m112.5 0h1.5M17.5 141h1.5m33 0h1.5m111 0h1.5M74.5 143h1.5m18 0h1.5m13.5 0h1.5m60 0h1.5M16 145h1.5m1.5 0h1.5m72 0h1.5M19 149h1.5M20.5 151h1.5m43.5 0h1.5m30 0h1.5m66 0h1.5m37.5 0h1.5M34 153h1.5m16.5 0h1.5m49.5 0h1.5m3 0h1.5m28.5 0h1.5M137.5 155h1.5m22.5 0h1.5M67 157h1.5m175.5 0h1.5M28 159h1.5m60 0h1.5m97.5 0h1.5M88 163h1.5m87 0h1.5M26.5 165h1.5m129 0h1.5M43 167h1.5m15 0h1.5m6 0h1.5m25.5 0h1.5M40 171h1.5m24 0h1.5M25 173h1.5m58.5 0h1.5m46.5 0h1.5m82.5 0h1.5M32.5 175h1.5m15 0h1.5m34.5 0h1.5m58.5 0h1.5m102 0h1.5M31 177h1.5m67.5 0h1.5M26.5 179h1.5M38.5 181h1.5m4.5 0h1.5M29.5 187h1.5m115.5 0h1.5M110.5 189h1.5m51 0h1.5M46 191h1.5m75 0h1.5m4.5 0h1.5m4.5 0h1.5M97 193h1.5M25 195h1.5m34.5 0h1.5M31 197h1.5m7.5 0h1.5m22.5 0h1.5m25.5 0h1.5m18 0h1.5m61.5 0h1.5M68.5 199h1.5m16.5 0h1.5m48 0h1.5M92.5 201h1.5M202 203h1.5m9 0h1.5M121 205h1.5m18 0h1.5m88.5 0h1.5M182.5 207h1.5m49.5 0h1.5m1.5 0h1.5M166 209h1.5m55.5 0h1.5m21 0h1.5M229 211h3M47.5 213h1.5M146.5 215h1.5m46.5 0h1.5m42 0h1.5M128.5 217h1.5m112.5 0h1.5M134.5 219h1.5m33 0h1.5M113.5 221h1.5M46 223h1.5m136.5 0h1.5m33 0h1.5m4.5 0h1.5m18 0h1.5m1.5 0h1.5M188.5 225h1.5M44.5 227h1.5M52 229h1.5m105 0h1.5m10.5 0h1.5m27 0h1.5M169 231h1.5M86.5 233h1.5m115.5 0h1.5m9 0h1.5m28.5 0h1.5M70 235h1.5m58.5 0h1.5m37.5 0h1.5m67.5 0h1.5m6 0h1.5M103 237h1.5M61 239h1.5M178 241h1.5m28.5 0h1.5M112 243h1.5m64.5 0h1.5m7.5 0h1.5M77.5 245h1.5m9 0h1.5m37.5 0h1.5m48 0h1.5m63 0h1.5M17.5 249h1.5m198 0h1.5M110.5 251h1.5m66 0h1.5m10.5 0h1.5m24 0h1.5m19.5 0h1.5"/><path stroke="rgb(85, 0, 0)" d="M101.5 63h1.5m4.5 0h1.5m4.5 0h1.5m12 0h1.5m48 0h1.5m40.5 0h1.5m21 0h1.5M101.5 65h1.5m22.5 0h1.5m49.5 0h1.5m1.5 0h1.5m49.5 0h1.5m4.5 0h1.5M58 67h1.5m22.5 0h1.5m18 0h1.5m24 0h1.5m6 0h1.5m4.5 0h1.5m13.5 0h3m22.5 0h1.5m19.5 0h1.5m9 0h1.5m7.5 0h1.5m25.5 0h1.5M70 69h1.5m30 0h1.5m12 0h1.5m4.5 0h1.5m64.5 0h1.5M106 71h1.5m28.5 0h1.5m28.5 0h1.5m6 0h1.5m27 0h1.5m13.5 0h1.5m15 0h1.5m13.5 0h1.5M37 73h1.5m13.5 0h1.5m19.5 0h1.5m90 0h1.5m34.5 0h1.5M34 75h1.5m1.5 0h1.5m37.5 0h1.5m16.5 0h1.5m3 0h1.5m19.5 0h1.5m36 0h1.5m16.5 0h1.5m15 0h1.5M133 77h1.5m46.5 0h3m10.5 0h1.5m43.5 0h1.5m4.5 0h1.5M58 79h1.5m37.5 0h1.5m15 0h1.5m15 0h1.5m1.5 0h1.5m22.5 0h1.5m49.5 0h1.5m7.5 0h1.5m21 0h1.5M113.5 81h1.5m18 0h1.5m18 0h1.5m12 0h1.5m33 0h1.5m46.5 0h1.5M34 83h1.5m64.5 0h1.5m58.5 0h1.5m63 0h1.5M109 85h1.5m27 0h1.5m3 0h1.5m54 0h1.5m19.5 0h1.5m12 0h1.5M71.5 87h1.5m43.5 0h1.5m9 0h1.5m10.5 0h1.5m37.5 0h1.5m1.5 0h1.5m6 0h1.5m52.5 0h1.5M17.5 89h1.5m76.5 0h3m13.5 0h1.5m18 0h3m18 0h1.5m3 0h1.5m9 0h1.5m27 0h1.5m3 0h1.5m12 0h1.5M62.5 91h1.5m25.5 0h1.5m46.5 0h1.5m15 0h1.5m12 0h1.5m1.5 0h3m12 0h1.5m3 0h1.5m10.5 0h1.5M37 93h1.5m28.5 0h1.5m19.5 0h1.5m24 0h1.5m10.5 0h1.5m16.5 0h1.5m4.5 0h1.5m31.5 0h3m27 0h1.5m4.5 0h1.5m24 0h3M46 95h1.5m9 0h1.5m40.5 0h1.5m33 0h1.5m61.5 0h1.5m16.5 0h1.5M155.5 97h1.5m6 0h4.5m9 0h1.5m4.5 0h3m31.5 0h1.5M77.5 99h1.5m9 0h3m19.5 0h3m7.5 0h1.5m51 0h1.5m13.5 0h1.5m6 0h1.5m7.5 0h1.5m33 0h1.5M19 101h1.5m78 0h1.5m25.5 0h1.5m9 0h1.5m15 0h1.5m16.5 0h1.5m27 0h1.5m15 0h1.5m15 0h1.5m15 0h1.5M41.5 103h1.5m1.5 0h1.5m82.5 0h1.5m12 0h1.5m27 0h1.5m4.5 0h1.5m60 0h1.5M64 105h1.5m9 0h3m34.5 0h1.5m12 0h1.5m24 0h1.5m9 0h1.5m7.5 0h3m43.5 0h1.5m18 0h1.5M76 107h1.5m121.5 0h1.5m12 0h1.5M47.5 109h1.5m9 0h1.5m22.5 0h1.5m4.5 0h1.5m10.5 0h1.5m6 0h1.5m18 0h1.5m4.5 0h1.5m10.5 0h1.5m10.5 0h1.5m4.5 0h1.5m3 0h1.5m3 0h1.5m42 0h3m4.5 0h1.5m10.5 0h1.5M98.5 111h1.5m33 0h1.5m21 0h1.5m15 0h1.5m1.5 0h3m24 0h1.5m18 0h1.5m6 0h1.5m9 0h1.5M133 113h1.5m7.5 0h1.5m19.5 0h1.5m3 0h1.5m28.5 0h1.5m4.5 0h1.5m3 0h1.5m1.5 0h1.5m3 0h1.5m30 0h1.5M133 115h1.5m25.5 0h1.5m15 0h1.5m6 0h1.5m3 0h1.5m10.5 0h1.5m31.5 0h1.5M53.5 117h1.5m24 0h1.5m9 0h1.5m12 0h1.5m12 0h1.5m24 0h1.5m7.5 0h1.5m9 0h1.5m51 0h1.5M44.5 119h1.5m37.5 0h1.5m18 0h1.5m4.5 0h1.5m31.5 0h1.5m18 0h1.5m39 0h1.5m24 0h3m10.5 0h1.5M19 121h1.5m3 0h1.5m21 0h1.5m12 0h1.5m67.5 0h1.5m39 0h1.5m27 0h1.5M92.5 123h1.5m54 0h1.5m3 0h1.5m46.5 0h3M28 125h1.5m24 0h1.5m13.5 0h1.5m51 0h1.5m99 0h1.5m7.5 0h1.5M76 127h1.5m72 0h1.5m93 0h1.5M41.5 129h1.5m18 0h1.5m81 0h1.5m6 0h1.5m51 0h1.5m16.5 0h1.5m12 0h1.5M43 131h1.5m72 0h1.5m12 0h1.5m6 0h1.5m94.5 0h1.5M176.5 133h1.5m15 0h1.5m1.5 0h1.5m4.5 0h1.5m7.5 0h1.5M38.5 135h1.5m12 0h1.5m27 0h1.5m70.5 0h1.5m12 0h1.5m25.5 0h1.5m15 0h1.5M46 137h1.5m15 0h1.5m16.5 0h1.5m3 0h1.5m61.5 0h1.5m18 0h1.5m16.5 0h1.5m21 0h1.5m9 0h1.5M79 139h1.5m16.5 0h1.5m7.5 0h1.5m9 0h1.5m28.5 0h1.5m1.5 0h1.5m45 0h1.5m12 0h1.5m1.5 0h1.5M191.5 141h1.5M79 143h1.5m1.5 0h1.5m46.5 0h1.5m1.5 0h1.5m6 0h1.5m40.5 0h1.5M28 145h1.5m39 0h3m16.5 0h1.5m25.5 0h1.5m69 0h1.5m28.5 0h1.5M64 147h3m10.5 0h1.5m36 0h1.5m67.5 0h1.5m19.5 0h1.5m10.5 0h1.5m4.5 0h1.5M43 149h1.5m73.5 0h1.5m7.5 0h1.5m15 0h3m60 0h1.5m10.5 0h1.5m7.5 0h3m1.5 0h1.5m1.5 0h1.5m6 0h1.5M43 151h3m30 0h1.5m16.5 0h1.5m40.5 0h1.5m6 0h1.5m3 0h1.5m70.5 0h1.5m4.5 0h1.5m6 0h1.5m7.5 0h1.5M73 153h1.5m42 0h1.5m7.5 0h1.5m63 0h1.5m16.5 0h1.5m1.5 0h1.5m7.5 0h3M122.5 155h1.5m25.5 0h1.5m18 0h1.5m40.5 0h1.5m27 0h1.5M32.5 157h1.5m55.5 0h1.5m30 0h1.5m24 0h1.5m1.5 0h1.5m15 0h1.5M37 159h1.5m12 0h1.5m16.5 0h1.5m34.5 0h1.5m64.5 0h1.5m10.5 0h3m33 0h1.5m19.5 0h1.5M107.5 161h1.5m57 0h3m16.5 0h1.5m43.5 0h1.5M43 163h1.5m39 0h3m6 0h1.5m27 0h1.5m4.5 0h1.5m6 0h1.5m4.5 0h1.5m37.5 0h1.5m3 0h1.5m31.5 0h1.5m6 0h1.5M23.5 165h1.5m13.5 0h1.5m16.5 0h1.5m24 0h1.5m70.5 0h1.5m30 0h1.5m40.5 0h1.5m6 0h1.5m1.5 0h1.5M73 167h1.5m15 0h1.5m13.5 0h1.5m70.5 0h1.5m7.5 0h1.5M37 169h1.5m91.5 0h1.5m27 0h1.5m16.5 0h3m15 0h1.5m7.5 0h1.5m4.5 0h1.5m1.5 0h1.5m6 0h1.5m4.5 0h1.5m7.5 0h1.5M47.5 171h1.5m81 0h1.5m16.5 0h1.5m3 0h1.5m25.5 0h3m15 0h1.5m10.5 0h1.5m6 0h1.5m22.5 0h1.5M49 173h1.5m12 0h1.5m9 0h1.5m24 0h1.5m9 0h1.5m88.5 0h1.5m12 0h1.5m10.5 0h1.5M79 175h1.5m28.5 0h1.5m9 0h1.5m15 0h1.5m3 0h1.5m64.5 0h1.5m25.5 0h1.5m6 0h1.5M40 177h1.5m25.5 0h1.5m28.5 0h3m19.5 0h1.5m9 0h1.5m9 0h1.5m28.5 0h1.5m4.5 0h1.5m1.5 0h1.5m43.5 0h1.5m9 0h1.5M22 179h1.5m21 0h1.5m33 0h1.5m30 0h3m28.5 0h1.5m13.5 0h1.5m18 0h1.5m15 0h1.5m15 0h1.5m1.5 0h1.5m9 0h1.5m15 0h1.5m7.5 0h1.5M37 181h1.5m115.5 0h1.5m25.5 0h1.5m31.5 0h1.5m10.5 0h1.5m21 0h1.5M44.5 183h1.5m4.5 0h1.5m18 0h1.5m54 0h1.5m13.5 0h1.5m42 0h1.5m24 0h1.5M52 185h1.5m148.5 0h1.5m7.5 0h1.5m13.5 0h1.5m15 0h1.5M31 187h1.5m48 0h1.5m31.5 0h1.5m13.5 0h1.5m18 0h1.5m19.5 0h1.5m15 0h1.5m1.5 0h3m10.5 0h1.5m19.5 0h1.5m4.5 0h1.5M128.5 189h1.5m31.5 0h1.5m13.5 0h3m21 0h1.5m12 0h1.5m6 0h1.5M47.5 191h1.5m6 0h1.5m45 0h1.5m9 0h1.5m28.5 0h1.5m25.5 0h1.5m4.5 0h1.5m30 0h1.5m22.5 0h1.5M71.5 193h1.5m121.5 0h1.5m28.5 0h1.5m7.5 0h1.5m1.5 0h1.5M43 195h3m49.5 0h1.5m9 0h1.5m15 0h1.5m16.5 0h1.5m24 0h1.5m10.5 0h1.5m24 0h1.5m1.5 0h1.5m28.5 0h1.5M19 197h1.5m126 0h1.5m49.5 0h1.5m1.5 0h1.5m7.5 0h1.5m24 0h1.5m1.5 0h1.5m3 0h1.5M52 199h1.5m87 0h1.5m6 0h1.5m16.5 0h1.5m3 0h1.5m19.5 0h1.5m31.5 0h1.5m1.5 0h1.5M44.5 201h1.5m9 0h1.5m18 0h1.5m42 0h1.5m6 0h4.5m12 0h1.5m45 0h1.5M17.5 203h1.5m6 0h1.5m3 0h1.5m10.5 0h1.5m1.5 0h1.5m45 0h1.5m7.5 0h1.5m21 0h1.5m57 0h1.5m34.5 0h1.5M52 205h1.5m6 0h1.5m39 0h1.5m42 0h1.5m75 0h1.5m10.5 0h1.5M23.5 207h1.5m25.5 0h3m22.5 0h1.5m46.5 0h1.5M26.5 209h1.5m22.5 0h1.5m22.5 0h1.5m13.5 0h1.5m28.5 0h1.5m15 0h1.5m3 0h1.5m4.5 0h1.5m7.5 0h3m13.5 0h1.5M28 211h1.5m3 0h1.5m27 0h1.5m16.5 0h1.5m12 0h1.5m7.5 0h3m37.5 0h1.5m6 0h3m16.5 0h1.5m15 0h1.5M26.5 213h1.5m1.5 0h1.5m4.5 0h1.5m7.5 0h1.5m9 0h1.5m1.5 0h1.5m43.5 0h1.5m114 0h1.5m3 0h1.5M16 215h1.5m15 0h1.5m16.5 0h1.5m1.5 0h1.5m4.5 0h1.5m16.5 0h1.5m12 0h1.5m22.5 0h1.5m51 0h1.5M32.5 217h1.5m30 0h3m3 0h1.5m1.5 0h1.5m9 0h1.5m1.5 0h1.5m48 0h1.5m6 0h1.5m61.5 0h1.5m1.5 0h1.5m7.5 0h1.5M34 219h1.5m4.5 0h1.5m36 0h1.5m39 0h1.5m22.5 0h1.5m21 0h1.5M17.5 221h1.5m36 0h3m1.5 0h1.5m34.5 0h3m36 0h1.5m4.5 0h1.5m16.5 0h1.5m9 0h1.5M17.5 223h1.5m10.5 0h1.5m1.5 0h1.5m1.5 0h3m12 0h1.5m21 0h1.5m34.5 0h3m1.5 0h1.5m9 0h1.5m10.5 0h1.5m34.5 0h1.5m55.5 0h1.5M46 225h3m3 0h1.5m28.5 0h1.5m10.5 0h1.5m9 0h1.5m18 0h1.5m31.5 0h1.5M16 227h1.5m4.5 0h3m129 0h1.5m6 0h1.5M26.5 229h1.5m36 0h1.5m1.5 0h1.5m9 0h1.5m72 0h1.5m73.5 0h1.5M49 231h1.5m19.5 0h1.5m16.5 0h1.5m3 0h1.5m7.5 0h1.5m6 0h1.5m9 0h1.5m30 0h1.5m7.5 0h1.5m27 0h1.5M19 233h1.5m64.5 0h1.5m13.5 0h1.5m16.5 0h1.5m12 0h1.5m12 0h1.5m15 0h1.5m49.5 0h1.5m25.5 0h1.5m1.5 0h1.5M46 235h1.5m51 0h1.5m39 0h1.5m10.5 0h1.5m45 0h1.5m48 0h1.5M16 237h1.5m7.5 0h1.5m16.5 0h6m24 0h1.5m3 0h1.5m19.5 0h1.5m9 0h1.5m10.5 0h1.5m34.5 0h1.5m37.5 0h1.5m30 0h1.5m10.5 0h1.5M22 239h1.5m1.5 0h1.5m9 0h1.5m6 0h1.5m1.5 0h3m42 0h1.5m4.5 0h1.5m10.5 0h1.5m12 0h1.5m36 0h1.5M55 241h1.5m13.5 0h3m16.5 0h1.5m10.5 0h1.5m42 0h1.5m4.5 0h1.5m1.5 0h1.5m1.5 0h1.5m24 0h1.5m16.5 0h1.5M58 243h1.5m9 0h1.5m7.5 0h1.5m6 0h1.5m9 0h1.5m6 0h1.5m22.5 0h1.5m18 0h1.5m1.5 0h1.5m6 0h1.5M25 245h1.5m1.5 0h1.5m4.5 0h3m21 0h1.5m24 0h1.5m1.5 0h1.5m12 0h1.5m15 0h1.5m24 0h1.5m9 0h1.5M91 247h1.5m6 0h1.5m3 0h1.5m3 0h3m27 0h3m18 0h1.5m4.5 0h1.5m27 0h1.5m42 0h1.5M22 249h1.5m12 0h1.5m33 0h1.5m4.5 0h1.5m12 0h1.5m51 0h1.5m25.5 0h1.5m16.5 0h1.5m34.5 0h1.5M23.5 251h3m24 0h1.5m18 0h1.5m1.5 0h1.5m3 0h1.5m75 0h1.5m33 0h1.5m30 0h1.5"/><path stroke="rgb(85, 106, 42)" d="M16 65h1.5M194.5 135h1.5M184 155h1.5M119.5 185h1.5M62.5 187h1.5M194.5 227h1.5"/><path stroke="rgb(85, 127, 42)" d="M34 63h1.5m3 0h1.5m19.5 0h1.5m126 0h1.5M50.5 65h1.5m9 0h1.5m10.5 0h1.5m69 0h1.5M34 67h1.5m16.5 0h1.5m18 0h1.5m15 0h1.5m19.5 0h1.5m67.5 0h1.5M128.5 69h1.5m4.5 0h1.5m55.5 0h1.5m1.5 0h3M32.5 71h1.5m1.5 0h1.5m27 0h1.5m15 0h1.5m12 0h1.5m54 0h3M109 73h1.5m18 0h1.5m16.5 0h1.5M35.5 75h1.5m73.5 0h1.5m100.5 0h1.5M19 77h1.5m4.5 0h3m54 0h1.5m22.5 0h3m22.5 0h1.5M17.5 79h1.5m34.5 0h1.5m36 0h1.5m18 0h1.5m10.5 0h1.5m3 0h1.5m43.5 0h1.5m4.5 0h1.5M26.5 81h1.5m1.5 0h1.5m24 0h1.5m24 0h1.5m25.5 0h1.5m81 0h1.5M23.5 83h1.5m6 0h1.5m22.5 0h1.5m36 0h1.5m18 0h1.5m13.5 0h1.5m52.5 0h1.5M49 85h1.5m18 0h1.5m81 0h1.5m10.5 0h1.5m3 0h1.5m54 0h1.5M76 87h1.5m15 0h1.5m37.5 0h1.5m66 0h1.5m10.5 0h1.5M20.5 89h1.5m67.5 0h1.5m18 0h1.5m88.5 0h1.5M19 91h1.5m34.5 0h1.5m24 0h1.5m76.5 0h1.5m13.5 0h1.5M29.5 93h1.5m55.5 0h1.5m6 0h1.5m7.5 0h1.5m99 0h1.5M31 95h1.5m91.5 0h1.5m25.5 0h1.5M19 97h1.5m51 0h1.5m30 0h3m45 0h1.5m43.5 0h1.5m6 0h1.5M58 99h3m13.5 0h1.5m19.5 0h1.5m39 0h1.5m7.5 0h1.5M28 101h1.5m46.5 0h1.5m28.5 0h1.5m24 0h1.5m63 0h1.5M29.5 103h1.5m18 0h1.5m19.5 0h1.5m36 0h1.5m37.5 0h1.5m52.5 0h1.5m4.5 0h1.5M16 105h1.5m10.5 0h1.5m4.5 0h3M17.5 107h1.5m3 0h1.5m7.5 0h1.5m33 0h1.5m3 0h1.5m15 0h1.5m13.5 0h1.5m18 0h1.5M70 109h1.5m21 0h1.5m31.5 0h1.5m43.5 0h1.5M20.5 111h1.5m25.5 0h1.5m4.5 0h1.5m7.5 0h1.5m4.5 0h1.5m46.5 0h1.5m42 0h3m45 0h1.5M43 113h1.5m94.5 0h1.5m6 0h1.5m1.5 0h1.5M17.5 115h1.5m3 0h3m42 0h1.5m40.5 0h1.5m36 0h1.5m31.5 0h1.5m6 0h1.5M19 117h1.5m46.5 0h1.5m12 0h1.5m30 0h1.5m7.5 0h1.5M92.5 119h1.5m49.5 0h1.5m1.5 0h1.5M35.5 121h1.5m21 0h1.5m4.5 0h1.5m4.5 0h1.5m6 0h1.5m24 0h1.5m30 0h3m42 0h1.5m49.5 0h1.5M37 123h1.5m45 0h3m19.5 0h3m88.5 0h1.5M16 125h1.5m4.5 0h1.5m10.5 0h1.5m12 0h1.5m15 0h1.5m24 0h1.5M101.5 127h1.5M20.5 129h1.5m22.5 0h1.5m22.5 0h1.5m21 0h1.5m9 0h1.5m111 0h1.5M107.5 131h3m36 0h1.5m43.5 0h1.5M40 133h1.5m27 0h1.5m15 0h1.5m12 0h1.5m66 0h1.5m31.5 0h1.5M20.5 135h1.5m43.5 0h1.5m27 0h1.5m25.5 0h1.5m88.5 0h1.5M16 137h1.5m6 0h1.5m19.5 0h1.5m3 0h1.5m72 0h1.5m22.5 0h1.5m66 0h1.5M22 139h1.5m25.5 0h1.5m27 0h1.5M19 141h1.5m3 0h1.5m42 0h1.5m6 0h1.5m60 0h1.5m9 0h1.5M104.5 143h1.5m16.5 0h1.5m78 0h1.5M23.5 147h1.5m106.5 0h4.5m3 0h1.5M38.5 149h1.5m7.5 0h1.5m57 0h1.5m40.5 0h1.5m3 0h1.5m21 0h3M70 151h1.5m6 0h1.5m4.5 0h1.5m73.5 0h1.5m31.5 0h1.5M25 153h1.5m22.5 0h1.5m12 0h1.5M71.5 155h1.5m7.5 0h1.5m64.5 0h1.5m46.5 0h1.5m1.5 0h1.5m39 0h1.5M17.5 157h3m99 0h1.5m12 0h1.5m42 0h1.5M23.5 159h1.5m1.5 0h1.5m24 0h1.5m27 0h1.5M34 161h1.5m22.5 0h1.5m36 0h3m33 0h1.5m12 0h1.5m33 0h1.5M16 163h1.5m33 0h1.5m24 0h1.5m90 0h1.5M20.5 165h1.5m10.5 0h1.5m66 0h1.5m4.5 0h1.5m10.5 0h1.5m27 0h1.5m3 0h1.5m21 0h1.5M28 167h1.5m9 0h1.5m22.5 0h1.5m73.5 0h1.5m7.5 0h1.5M38.5 169h1.5m3 0h1.5m7.5 0h1.5m24 0h1.5m106.5 0h1.5M19 171h1.5m10.5 0h1.5m90 0h1.5M97 173h1.5m21 0h1.5m9 0h1.5M28 175h1.5m31.5 0h1.5m87 0h1.5m22.5 0h1.5m1.5 0h1.5M16 177h1.5m6 0h1.5m1.5 0h1.5m63 0h1.5m15 0h1.5m36 0h1.5M25 179h1.5m30 0h1.5m13.5 0h1.5m13.5 0h1.5m114 0h1.5M25 181h1.5m27 0h1.5m13.5 0h1.5m36 0h1.5m15 0h1.5m37.5 0h1.5m46.5 0h1.5M31 183h1.5m22.5 0h1.5m3 0h1.5m4.5 0h1.5m16.5 0h1.5m12 0h1.5m19.5 0h1.5m22.5 0h1.5m21 0h1.5m12 0h1.5M55 185h1.5m18 0h1.5m22.5 0h1.5M17.5 187h1.5m84 0h1.5m3 0h1.5m7.5 0h1.5m15 0h1.5M103 189h1.5m3 0h1.5m34.5 0h1.5m51 0h1.5m13.5 0h1.5M86.5 191h1.5m15 0h1.5m3 0h3m30 0h1.5m21 0h1.5m1.5 0h1.5m12 0h1.5M19 193h1.5m1.5 0h3m7.5 0h1.5m3 0h1.5m10.5 0h1.5m27 0h1.5m1.5 0h1.5m21 0h1.5m60 0h1.5m4.5 0h1.5M26.5 195h1.5m1.5 0h1.5m7.5 0h1.5m1.5 0h1.5m37.5 0h3m21 0h1.5m37.5 0h3m40.5 0h1.5M23.5 197h1.5m25.5 0h1.5m31.5 0h1.5m3 0h1.5m7.5 0h1.5m9 0h1.5m9 0h1.5m43.5 0h1.5m52.5 0h1.5M31 199h1.5m25.5 0h1.5m4.5 0h1.5m1.5 0h1.5M58 201h1.5m28.5 0h1.5m61.5 0h1.5m22.5 0h1.5m4.5 0h1.5m21 0h1.5m1.5 0h1.5m16.5 0h1.5M206.5 203h1.5M31 205h1.5m46.5 0h1.5m34.5 0h1.5m63 0h1.5m43.5 0h1.5M188.5 207h1.5m33 0h1.5m3 0h1.5m12 0h1.5M121 209h1.5m46.5 0h1.5m6 0h3m49.5 0h1.5m13.5 0h1.5M190 211h1.5m36 0h1.5m13.5 0h1.5M52 213h1.5m69 0h1.5m18 0h1.5m4.5 0h1.5m21 0h1.5m10.5 0h1.5m24 0h1.5m4.5 0h1.5m30 0h1.5M161.5 215h1.5m51 0h1.5m3 0h1.5m6 0h1.5M46 217h1.5m97.5 0h1.5m27 0h1.5M62.5 219h1.5m33 0h1.5m76.5 0h1.5m21 0h1.5m10.5 0h1.5m12 0h1.5m4.5 0h1.5m10.5 0h1.5M74.5 221h1.5m12 0h1.5m73.5 0h1.5m45 0h1.5m1.5 0h1.5m12 0h1.5M190 223h1.5m16.5 0h3M176.5 225h1.5m28.5 0h1.5m3 0h1.5m4.5 0h1.5M229 227h1.5m16.5 0h1.5M58 229h1.5m118.5 0h1.5m1.5 0h1.5m9 0h1.5m7.5 0h1.5m12 0h1.5M193 231h1.5m6 0h1.5M44.5 233h1.5m97.5 0h1.5m22.5 0h1.5m51 0h1.5m7.5 0h3M161.5 235h3m7.5 0h1.5m6 0h1.5m15 0h1.5m28.5 0h1.5m9 0h1.5M86.5 237h1.5m24 0h1.5m61.5 0h1.5m15 0h1.5m21 0h1.5m1.5 0h1.5M203.5 239h1.5m1.5 0h1.5m16.5 0h1.5m12 0h1.5m9 0h1.5M197.5 241h1.5m30 0h3M104.5 243h1.5m27 0h1.5m55.5 0h1.5m33 0h1.5m6 0h1.5M20.5 245h1.5m121.5 0h1.5m52.5 0h1.5M32.5 247h1.5m27 0h1.5m64.5 0h1.5m66 0h3m6 0h1.5m30 0h1.5m10.5 0h3M115 249h1.5m7.5 0h1.5m15 0h1.5m19.5 0h1.5m4.5 0h1.5m36 0h3M100 251h1.5m75 0h1.5m61.5 0h1.5"/><path stroke="rgb(85, 148, 42)" d="M25 63h1.5M67 65h1.5m45 0h1.5M37 67h1.5M82 69h1.5M95.5 71h1.5M70 75h1.5m16.5 0h1.5M76 77h1.5m13.5 0h1.5M56.5 79h1.5M25 81h1.5m18 0h1.5m12 0h1.5m15 0h1.5M53.5 83h1.5m117 0h1.5M32.5 85h1.5m43.5 0h1.5m66 0h1.5M22 87h1.5m31.5 0h1.5m57 0h1.5M35.5 89h1.5m6 0h1.5m7.5 0h1.5m90 0h1.5m39 0h1.5M44.5 91h1.5m37.5 0h3m33 0h1.5M44.5 93h1.5m73.5 0h1.5M16 95h1.5m109.5 0h1.5M47.5 97h1.5m27 0h1.5m30 0h1.5M23.5 99h1.5m43.5 0h1.5m12 0h1.5m40.5 0h1.5M38.5 101h1.5m34.5 0h1.5m72 0h1.5M28 103h1.5m60 0h1.5m90 0h1.5M107.5 105h1.5m90 0h1.5M22 109h1.5M55 111h1.5M28 113h1.5m33 0h1.5m12 0h1.5m4.5 0h1.5m13.5 0h1.5M92.5 115h1.5m3 0h1.5M23.5 119h1.5m105 0h1.5m3 0h1.5m28.5 0h1.5M98.5 121h1.5m33 0h1.5m18 0h1.5m33 0h1.5M31 123h1.5m9 0h1.5m15 0h1.5m43.5 0h1.5m21 0h1.5M56.5 125h1.5m3 0h1.5M92.5 127h1.5m21 0h1.5m63 0h1.5m27 0h1.5m4.5 0h1.5M17.5 129h1.5m13.5 0h1.5m3 0h1.5m70.5 0h1.5M28 131h1.5M31 133h1.5m12 0h1.5m48 0h3m22.5 0h1.5m15 0h1.5M40 135h1.5m18 0h1.5m78 0h1.5m24 0h1.5m15 0h1.5M29.5 137h1.5m36 0h1.5m45 0h1.5m1.5 0h1.5M17.5 139h1.5m27 0h1.5m36 0h1.5M46 141h1.5m48 0h1.5M35.5 143h1.5m73.5 0h1.5m39 0h1.5M130 145h1.5m15 0h1.5M58 147h1.5m10.5 0h1.5m31.5 0h1.5m4.5 0h1.5m36 0h1.5m19.5 0h1.5M16 151h3m99 0h1.5m60 0h1.5M22 153h1.5m124.5 0h1.5m6 0h1.5M82 155h1.5m34.5 0h1.5m43.5 0h1.5M35.5 157h1.5m60 0h1.5M85 159h1.5M52 161h1.5m22.5 0h1.5m42 0h1.5M25 163h1.5m6 0h1.5m15 0h1.5m19.5 0h1.5m51 0h1.5m73.5 0h1.5M44.5 167h1.5m19.5 0h1.5m24 0h1.5m6 0h1.5m58.5 0h1.5m12 0h1.5m6 0h1.5M94 169h1.5M55 171h1.5m94.5 0h1.5m40.5 0h1.5m9 0h1.5M26.5 173h1.5m33 0h1.5M91 175h1.5m7.5 0h1.5m46.5 0h1.5M64 177h1.5m4.5 0h3m12 0h1.5M67 179h1.5m13.5 0h1.5m13.5 0h1.5m7.5 0h1.5M109 181h1.5m18 0h1.5M16 183h1.5m16.5 0h3m10.5 0h1.5m58.5 0h1.5M118 185h1.5m13.5 0h1.5M44.5 187h1.5m40.5 0h1.5M26.5 189h1.5m138 0h1.5m34.5 0h1.5M41.5 191h1.5m15 0h1.5M17.5 193h1.5M22 195h1.5m93 0h1.5M82 197h1.5m69 0h1.5m21 0h1.5m43.5 0h1.5M19 199h1.5m1.5 0h1.5M97 203h1.5m4.5 0h1.5m103.5 0h1.5m37.5 0h1.5M103 205h1.5m43.5 0h1.5M175 207h1.5m34.5 0h1.5m3 0h1.5M245.5 211h1.5M212.5 213h1.5M205 215h1.5m6 0h1.5m33 0h1.5M176.5 217h1.5m36 0h1.5M236.5 219h1.5M29.5 221h1.5m37.5 0h1.5m72 0h1.5M157 223h1.5m34.5 0h1.5m4.5 0h1.5m6 0h1.5m12 0h1.5m21 0h1.5M179.5 225h1.5m48 0h1.5M209.5 227h1.5M184 229h3m16.5 0h1.5m16.5 0h1.5m25.5 0h1.5M182.5 231h1.5M67 233h1.5m42 0h1.5m12 0h1.5m52.5 0h1.5m9 0h1.5m3 0h1.5M157 235h1.5m15 0h1.5m10.5 0h3M209.5 239h1.5m19.5 0h1.5M65.5 241h1.5m165 0h1.5M41.5 243h1.5m91.5 0h1.5m25.5 0h1.5M92.5 245h1.5m153 0h1.5M149.5 247h1.5m61.5 0h1.5M179.5 249h1.5M173.5 251h1.5m48 0h1.5"/><path stroke="rgb(106, 0, 0)" d="M26.5 63h1.5m49.5 0h1.5m33 0h1.5m7.5 0h1.5m12 0h1.5m49.5 0h1.5M19 65h1.5m16.5 0h1.5m70.5 0h1.5m27 0h1.5m19.5 0h1.5m10.5 0h1.5m25.5 0h1.5m12 0h1.5m4.5 0h1.5m6 0h1.5m1.5 0h1.5M17.5 67h1.5m13.5 0h1.5m31.5 0h1.5m9 0h1.5m67.5 0h1.5m3 0h1.5m18 0h1.5m34.5 0h1.5m33 0h1.5M43 69h1.5m55.5 0h1.5m30 0h1.5m18 0h1.5m40.5 0h1.5m18 0h1.5M160 71h1.5m13.5 0h1.5m3 0h1.5m16.5 0h1.5m15 0h1.5m25.5 0h1.5M41.5 73h1.5m13.5 0h1.5m40.5 0h1.5m84 0h1.5m39 0h3M62.5 75h1.5m70.5 0h1.5m34.5 0h3m28.5 0h1.5m34.5 0h1.5m9 0h1.5M79 77h1.5m66 0h1.5m9 0h1.5m4.5 0h1.5m42 0h1.5m18 0h1.5m7.5 0h1.5m7.5 0h1.5m3 0h1.5M112 79h1.5m40.5 0h1.5m28.5 0h1.5m3 0h1.5m3 0h1.5m1.5 0h1.5m6 0h1.5M128.5 81h1.5M161.5 83h1.5m36 0h1.5m12 0h1.5m12 0h1.5m3 0h1.5M17.5 85h1.5m108 0h1.5m15 0h1.5m12 0h1.5m6 0h1.5m54 0h1.5M28 87h1.5m10.5 0h3m106.5 0h1.5m31.5 0h1.5m16.5 0h1.5M28 89h1.5m150 0h1.5m10.5 0h1.5M140.5 91h1.5m45 0h1.5m22.5 0h1.5m4.5 0h1.5M70 93h1.5m91.5 0h1.5m16.5 0h1.5M47.5 95h1.5m1.5 0h1.5m150 0h1.5M49 97h1.5m24 0h1.5m3 0h1.5m57 0h1.5m34.5 0h1.5m27 0h1.5m7.5 0h1.5m21 0h1.5M55 99h1.5m10.5 0h1.5m25.5 0h1.5m63 0h1.5m46.5 0h1.5M110.5 101h3m13.5 0h1.5m1.5 0h1.5m25.5 0h1.5m3 0h1.5m21 0h1.5m22.5 0h1.5m33 0h1.5M17.5 103h1.5m48 0h1.5m81 0h1.5m3 0h1.5m19.5 0h1.5m13.5 0h1.5m7.5 0h1.5m7.5 0h3m9 0h1.5M41.5 105h1.5m1.5 0h1.5m90 0h1.5m39 0h1.5m3 0h1.5m49.5 0h1.5M73 107h1.5m28.5 0h1.5m39 0h1.5m12 0h1.5m43.5 0h3M136 109h1.5m9 0h1.5m31.5 0h1.5m3 0h1.5m4.5 0h1.5m40.5 0h1.5M19 111h1.5m24 0h1.5m57 0h1.5m85.5 0h1.5m27 0h3m13.5 0h1.5M80.5 113h1.5m25.5 0h1.5m28.5 0h1.5m45 0h1.5m39 0h1.5m4.5 0h1.5M130 115h1.5m49.5 0h1.5m10.5 0h3M94 117h1.5m10.5 0h1.5m25.5 0h1.5m18 0h1.5m13.5 0h1.5m9 0h1.5m15 0h1.5M19 119h1.5m66 0h1.5m10.5 0h1.5m66 0h1.5m13.5 0h1.5m57 0h1.5m3 0h1.5M47.5 121h1.5m13.5 0h1.5m73.5 0h1.5m27 0h1.5m15 0h1.5m9 0h1.5m33 0h1.5M43 123h1.5m133.5 0h1.5m10.5 0h1.5m15 0h1.5m10.5 0h1.5m1.5 0h1.5m1.5 0h1.5m10.5 0h1.5m10.5 0h1.5M29.5 125h1.5m120 0h1.5m22.5 0h1.5m15 0h1.5m9 0h1.5m10.5 0h3m9 0h1.5M28 127h1.5m22.5 0h1.5m15 0h1.5m97.5 0h1.5m15 0h1.5m30 0h1.5M242.5 129h1.5M83.5 131h1.5m6 0h1.5m66 0h1.5m15 0h1.5m48 0h1.5M88 133h1.5m75 0h1.5m34.5 0h1.5M74.5 135h1.5m66 0h1.5m18 0h1.5m4.5 0h1.5m16.5 0h1.5m9 0h1.5m3 0h1.5m43.5 0h1.5M55 137h1.5m13.5 0h1.5m34.5 0h1.5m69 0h1.5m12 0h1.5M56.5 139h1.5m28.5 0h1.5m12 0h1.5m6 0h1.5m43.5 0h1.5m16.5 0h1.5m12 0h3m1.5 0h1.5m18 0h1.5m4.5 0h1.5m12 0h1.5m13.5 0h1.5M58 141h3m72 0h1.5m6 0h1.5m1.5 0h1.5m10.5 0h3m12 0h1.5m30 0h1.5m25.5 0h1.5m10.5 0h1.5m6 0h1.5M89.5 143h1.5m46.5 0h1.5m24 0h1.5m57 0h1.5M140.5 145h1.5m24 0h1.5m9 0h1.5m16.5 0h1.5m39 0h1.5M22 147h1.5m15 0h1.5m105 0h1.5m30 0h1.5m9 0h1.5m22.5 0h1.5m3 0h1.5m3 0h1.5m4.5 0h1.5M20.5 149h1.5m51 0h1.5m45 0h4.5m90 0h1.5M71.5 151h1.5m103.5 0h1.5m4.5 0h1.5M97 153h1.5m16.5 0h1.5m60 0h3M29.5 155h1.5m16.5 0h1.5m54 0h1.5m40.5 0h1.5M53.5 157h3m22.5 0h1.5m28.5 0h1.5m16.5 0h1.5m40.5 0h1.5M38.5 159h1.5m60 0h1.5m16.5 0h1.5m19.5 0h1.5m1.5 0h1.5m67.5 0h1.5m13.5 0h3m3 0h1.5m1.5 0h1.5M19 161h1.5m52.5 0h1.5m73.5 0h1.5m7.5 0h1.5m36 0h1.5m16.5 0h1.5M137.5 163h1.5m43.5 0h1.5M46 165h1.5m72 0h1.5m6 0h1.5m27 0h1.5m21 0h1.5m37.5 0h1.5M41.5 167h1.5m66 0h1.5m9 0h1.5m88.5 0h3m1.5 0h1.5m3 0h1.5m1.5 0h1.5m9 0h1.5m9 0h1.5M83.5 169h1.5m51 0h1.5m4.5 0h1.5m1.5 0h1.5m9 0h1.5m51 0h1.5m39 0h1.5M76 171h1.5m3 0h1.5m30 0h1.5m25.5 0h1.5m82.5 0h1.5m1.5 0h3m6 0h1.5M113.5 173h1.5m7.5 0h1.5m18 0h1.5m48 0h1.5m3 0h1.5m3 0h1.5M164.5 175h1.5m46.5 0h1.5M65.5 177h1.5m22.5 0h1.5m27 0h1.5m13.5 0h1.5m4.5 0h1.5m12 0h1.5m3 0h1.5m22.5 0h1.5m31.5 0h1.5m21 0h1.5m1.5 0h1.5M58 179h1.5m120 0h1.5m15 0h1.5m6 0h1.5m36 0h1.5M121 181h1.5m28.5 0h1.5m82.5 0h1.5M124 183h1.5m6 0h1.5m40.5 0h1.5m63 0h1.5m4.5 0h1.5M20.5 185h1.5m67.5 0h1.5m67.5 0h1.5m30 0h1.5m6 0h1.5m48 0h3M73 187h1.5m99 0h1.5m4.5 0h3m4.5 0h1.5m3 0h1.5m7.5 0h1.5m24 0h1.5M16 189h1.5m163.5 0h1.5m9 0h1.5m1.5 0h1.5m16.5 0h1.5m6 0h1.5M23.5 191h1.5m39 0h3m6 0h1.5m21 0h1.5m36 0h1.5m51 0h1.5m16.5 0h1.5m21 0h1.5M52 193h1.5m13.5 0h1.5m16.5 0h1.5m111 0h1.5m3 0h1.5m3 0h1.5m6 0h1.5m13.5 0h1.5m16.5 0h1.5M70 195h1.5m27 0h1.5m1.5 0h1.5m4.5 0h1.5m111 0h1.5m6 0h1.5m3 0h1.5m6 0h1.5m4.5 0h1.5M44.5 197h1.5m75 0h1.5m18 0h1.5m40.5 0h1.5m7.5 0h1.5M85 199h1.5m22.5 0h1.5m28.5 0h1.5m15 0h1.5m25.5 0h1.5m24 0h1.5m30 0h1.5M32.5 201h1.5m39 0h1.5m31.5 0h1.5m1.5 0h1.5m3 0h1.5m1.5 0h1.5m25.5 0h1.5m9 0h1.5M16 203h1.5m19.5 0h1.5m16.5 0h1.5m22.5 0h1.5m9 0h1.5m16.5 0h1.5m37.5 0h1.5m15 0h1.5m31.5 0h1.5m7.5 0h1.5M47.5 205h1.5m4.5 0h1.5m1.5 0h1.5m10.5 0h1.5m3 0h1.5m9 0h1.5m54 0h1.5M64 207h1.5m1.5 0h3m4.5 0h1.5m4.5 0h3m46.5 0h3m6 0h1.5m10.5 0h1.5m9 0h1.5m18 0h1.5M41.5 209h1.5m49.5 0h1.5m4.5 0h1.5m27 0h1.5M23.5 211h1.5m37.5 0h1.5m16.5 0h1.5m16.5 0h3m9 0h1.5m19.5 0h1.5m33 0h1.5m16.5 0h1.5M41.5 213h1.5m34.5 0h1.5m6 0h1.5m18 0h1.5M17.5 215h1.5m33 0h1.5m13.5 0h1.5m1.5 0h1.5m60 0h1.5m10.5 0h1.5m12 0h1.5m19.5 0h1.5m43.5 0h1.5m9 0h1.5M25 217h1.5m1.5 0h1.5m13.5 0h1.5m36 0h1.5m18 0h1.5m10.5 0h4.5m24 0h1.5m13.5 0h1.5m25.5 0h1.5M38.5 219h1.5m39 0h1.5m4.5 0h1.5m3 0h1.5m25.5 0h1.5m1.5 0h1.5m4.5 0h3m7.5 0h1.5m22.5 0h1.5m4.5 0h1.5M37 221h1.5m10.5 0h1.5m10.5 0h1.5m9 0h1.5m3 0h1.5m1.5 0h1.5m4.5 0h1.5m112.5 0h1.5M19 223h1.5m3 0h1.5m3 0h1.5m97.5 0h1.5m42 0h1.5M22 225h1.5m3 0h1.5m48 0h1.5m3 0h1.5m15 0h1.5m10.5 0h3m13.5 0h1.5m7.5 0h1.5m10.5 0h1.5m4.5 0h3m18 0h1.5m27 0h1.5M38.5 227h1.5m7.5 0h1.5m22.5 0h1.5m6 0h1.5m139.5 0h1.5M49 229h1.5m33 0h1.5m9 0h1.5m19.5 0h1.5m12 0h1.5m36 0h1.5M23.5 231h1.5m15 0h1.5m31.5 0h1.5m1.5 0h1.5m12 0h1.5m16.5 0h1.5m4.5 0h1.5m9 0h1.5M20.5 233h1.5m18 0h1.5m81 0h1.5m9 0h1.5m15 0h1.5m12 0h1.5m4.5 0h1.5M40 235h1.5m18 0h1.5m18 0h1.5m85.5 0h1.5m7.5 0h1.5m22.5 0h1.5M79 237h3m9 0h1.5m21 0h1.5m87 0h1.5M19 239h1.5m6 0h1.5m9 0h1.5m3 0h1.5m15 0h1.5m4.5 0h1.5m15 0h1.5m54 0h1.5m70.5 0h1.5M25 241h1.5m16.5 0h1.5m79.5 0h1.5m21 0h1.5m31.5 0h1.5m43.5 0h1.5M65.5 243h1.5m3 0h1.5m30 0h1.5m19.5 0h1.5m4.5 0h1.5m6 0h1.5m42 0h1.5M41.5 245h3m25.5 0h3m48 0h1.5m94.5 0h1.5M25 247h1.5m22.5 0h1.5m18 0h1.5m9 0h1.5m30 0h1.5m103.5 0h1.5m1.5 0h1.5m21 0h1.5m1.5 0h1.5M31 249h1.5m61.5 0h1.5m7.5 0h1.5m49.5 0h1.5M28 251h3m45 0h1.5m45 0h1.5m39 0h1.5m1.5 0h1.5"/><path stroke="rgb(106, 148, 42)" d="M106 63h1.5m102 0h1.5M131.5 67h1.5m21 0h1.5M47.5 69h1.5M35.5 73h1.5m75 0h1.5M50.5 77h3m48 0h1.5m1.5 0h1.5m99 0h1.5M134.5 81h1.5M29.5 83h1.5M22 85h1.5M163 89h1.5M35.5 91h1.5m34.5 0h1.5M112 93h1.5M40 95h1.5M118 97h1.5M43 99h1.5m25.5 0h1.5m1.5 0h1.5m112.5 0h1.5M61 101h1.5M68.5 103h1.5M35.5 107h1.5M121 109h1.5M40 111h1.5m1.5 0h1.5m96 0h1.5m85.5 0h1.5M25 113h1.5m4.5 0h1.5m69 0h1.5M140.5 115h1.5m61.5 0h1.5M32.5 117h1.5m37.5 0h1.5M188.5 119h1.5M122.5 123h1.5M88 125h1.5m90 0h1.5m25.5 0h1.5M40 129h1.5m177 0h1.5M35.5 131h1.5m99 0h1.5m27 0h1.5M53.5 133h1.5M28 135h1.5m31.5 0h1.5m136.5 0h1.5M28 137h1.5m3 0h1.5m70.5 0h1.5m30 0h1.5m51 0h1.5M104.5 139h1.5M92.5 141h1.5m31.5 0h1.5m31.5 0h1.5M17.5 143h1.5M41.5 145h1.5m130.5 0h1.5M83.5 149h1.5m7.5 0h1.5m30 0h1.5M82 151h1.5m19.5 0h1.5M53.5 153h1.5m51 0h1.5M85 155h1.5M71.5 157h1.5m1.5 0h1.5m120 0h1.5M103 159h1.5M20.5 161h1.5m21 0h1.5m18 0h1.5m4.5 0h1.5m31.5 0h1.5m57 0h1.5M29.5 163h1.5m27 0h1.5M74.5 167h1.5M35.5 169h1.5m30 0h1.5m42 0h1.5M28 171h1.5m43.5 0h1.5m36 0h1.5m63 0h1.5M22 175h1.5m51 0h1.5m87 0h1.5m40.5 0h1.5M161.5 177h1.5M61 179h1.5M41.5 181h1.5m52.5 0h1.5m7.5 0h1.5m73.5 0h1.5M73 183h1.5m18 0h1.5m25.5 0h1.5M32.5 185h1.5m24 0h1.5m9 0h1.5M28 187h1.5M46 189h1.5M26.5 191h1.5m12 0h1.5m49.5 0h1.5m72 0h1.5M140.5 193h1.5M133 195h1.5m16.5 0h1.5M37 197h1.5M38.5 199h3m55.5 0h1.5M46 201h1.5m60 0h1.5m90 0h1.5m34.5 0h1.5m12 0h1.5M58 203h1.5m159 0h1.5m7.5 0h1.5M124 205h1.5m49.5 0h1.5m6 0h1.5m51 0h1.5M194.5 209h1.5M148 211h1.5m30 0h1.5m33 0h1.5m28.5 0h1.5M176.5 213h1.5M62.5 215h1.5M227.5 221h1.5M137.5 223h1.5m78 0h1.5M209.5 225h1.5M112 229h1.5M65.5 231h1.5m54 0h1.5m123 0h1.5M112 233h1.5M194.5 235h1.5m22.5 0h1.5M182.5 237h1.5M119.5 239h1.5m52.5 0h1.5m43.5 0h1.5m12 0h1.5M59.5 241h1.5m123 0h1.5m13.5 0h1.5m33 0h1.5m7.5 0h1.5m1.5 0h1.5M161.5 245h1.5m10.5 0h1.5m61.5 0h1.5M161.5 247h1.5M211 249h1.5M119.5 251h1.5m75 0h1.5m3 0h1.5"/><path stroke="rgb(106, 170, 42)" d="M52 63h1.5m57 0h1.5m6 0h1.5m9 0h1.5m105 0h1.5M184 67h1.5m13.5 0h1.5M59.5 69h1.5m6 0h1.5M20.5 71h1.5m28.5 0h1.5m37.5 0h1.5m42 0h1.5M67 73h1.5m28.5 0h1.5m33 0h1.5m1.5 0h1.5m46.5 0h1.5M49 77h1.5m15 0h1.5m19.5 0h1.5m4.5 0h1.5m21 0h1.5m1.5 0h1.5M22 79h1.5m7.5 0h1.5m15 0h1.5m21 0h1.5m12 0h1.5M35.5 81h1.5m25.5 0h1.5m3 0h1.5m33 0h1.5m18 0h1.5m39 0h1.5M35.5 83h1.5m7.5 0h1.5m70.5 0h1.5m3 0h1.5M34 85h1.5m150 0h1.5M134.5 87h1.5M37 89h1.5m31.5 0h1.5m4.5 0h1.5m91.5 0h1.5m72 0h1.5M37 91h1.5m1.5 0h1.5m1.5 0h1.5m13.5 0h1.5m4.5 0h1.5M32.5 93h1.5m31.5 0h1.5m24 0h1.5M29.5 95h1.5m28.5 0h1.5m3 0h1.5m51 0h1.5M22 99h1.5m10.5 0h1.5M16 101h1.5m15 0h3m21 0h1.5m12 0h1.5m33 0h1.5M22 103h1.5M31 105h1.5m36 0h1.5M110.5 109h1.5M25 111h1.5m4.5 0h1.5m27 0h1.5m58.5 0h1.5m82.5 0h1.5M29.5 113h1.5m73.5 0h1.5M88 115h1.5m52.5 0h1.5m25.5 0h1.5m15 0h1.5M55 117h1.5m42 0h1.5M62.5 119h1.5m13.5 0h1.5M50.5 121h1.5m28.5 0h1.5m3 0h1.5m24 0h1.5m45 0h1.5M20.5 123h1.5m27 0h1.5m12 0h1.5m3 0h1.5m22.5 0h1.5m22.5 0h1.5m30 0h1.5m37.5 0h1.5m9 0h1.5m6 0h1.5M26.5 125h1.5m45 0h1.5m57 0h1.5M49 127h1.5m6 0h1.5M25 129h1.5m1.5 0h1.5m40.5 0h1.5m57 0h1.5m1.5 0h1.5m15 0h1.5m46.5 0h1.5m1.5 0h1.5M37 131h1.5m1.5 0h3m4.5 0h1.5m1.5 0h1.5m49.5 0h1.5M56.5 133h1.5m43.5 0h1.5M17.5 135h1.5m24 0h1.5m13.5 0h1.5M20.5 137h3m7.5 0h1.5m180 0h1.5M50.5 139h1.5m109.5 0h1.5M31 141h1.5m7.5 0h1.5m13.5 0h3m10.5 0h1.5m1.5 0h1.5M19 143h1.5m52.5 0h1.5m57 0h1.5m16.5 0h1.5m7.5 0h1.5M23.5 145h1.5m33 0h1.5M43 147h1.5M55 149h1.5m9 0h3m87 0h1.5m7.5 0h1.5M26.5 151h1.5m18 0h1.5m54 0h1.5m81 0h1.5M41.5 153h1.5m28.5 0h1.5M32.5 155h1.5m70.5 0h1.5m51 0h1.5m30 0h1.5M56.5 157h3m18 0h1.5m12 0h1.5m9 0h1.5m9 0h1.5m16.5 0h1.5m42 0h1.5m4.5 0h1.5M65.5 159h1.5m7.5 0h1.5m31.5 0h1.5m34.5 0h1.5m76.5 0h1.5M49 161h1.5m24 0h1.5m15 0h1.5m10.5 0h1.5M80.5 163h1.5m21 0h1.5m69 0h1.5M77.5 165h1.5M32.5 167h1.5m6 0h1.5m43.5 0h1.5M20.5 169h1.5m4.5 0h1.5m4.5 0h1.5m13.5 0h1.5m24 0h1.5m18 0h1.5M41.5 171h1.5m16.5 0h1.5m43.5 0h1.5M17.5 173h1.5m184.5 0h1.5M31 175h1.5m15 0h1.5m160.5 0h1.5M173.5 177h1.5M95.5 179h1.5M40 181h1.5m4.5 0h1.5m37.5 0h1.5m21 0h1.5m40.5 0h1.5m18 0h1.5M64 183h1.5m15 0h1.5m6 0h3m22.5 0h3M47.5 185h1.5m72 0h1.5M25 187h1.5m34.5 0h1.5M29.5 189h1.5M34 191h1.5m15 0h3m57 0h1.5M46 193h1.5m52.5 0h1.5M17.5 195h1.5m36 0h1.5m18 0h1.5m45 0h1.5m13.5 0h1.5M16 197h1.5m99 0h1.5m85.5 0h1.5M91 199h1.5M191.5 201h1.5m24 0h1.5M173.5 203h1.5m1.5 0h1.5m33 0h1.5M38.5 205h1.5m130.5 0h1.5m37.5 0h1.5M25 207h1.5m160.5 0h1.5m3 0h1.5M218.5 209h1.5M187 211h1.5m28.5 0h1.5m22.5 0h1.5M188.5 213h1.5m39 0h1.5M61 215h1.5m114 0h1.5m4.5 0h1.5m18 0h1.5m40.5 0h1.5M235 217h1.5m10.5 0h1.5M32.5 219h1.5m165 0h1.5m3 0h1.5m39 0h1.5M181 223h1.5m48 0h1.5M155.5 225h1.5m57 0h1.5M172 227h3m49.5 0h1.5M104.5 229h1.5m70.5 0h1.5m30 0h1.5m6 0h1.5M236.5 231h1.5M86.5 235h1.5m22.5 0h1.5m90 0h1.5m24 0h1.5M23.5 237h1.5m42 0h1.5m61.5 0h1.5m19.5 0h1.5m31.5 0h1.5M212.5 239h1.5m3 0h1.5m10.5 0h1.5M176.5 241h1.5m12 0h1.5m21 0h1.5m12 0h1.5M28 243h1.5m129 0h1.5m34.5 0h1.5m25.5 0h3m10.5 0h1.5m12 0h1.5M199 245h1.5m25.5 0h1.5M185.5 247h1.5M61 249h1.5M34 251h1.5m79.5 0h1.5m75 0h4.5m25.5 0h1.5m19.5 0h1.5"/><path stroke="rgb(106, 170, 63)" d="M53.5 69h1.5M131.5 75h1.5M107.5 79h1.5M116.5 85h1.5M83.5 97h1.5M29.5 111h1.5m36 0h1.5M46 115h1.5M85 117h1.5m1.5 0h1.5M110.5 133h1.5M98.5 135h1.5m27 0h1.5m3 0h1.5M67 139h1.5M92.5 143h1.5M80.5 153h1.5m22.5 0h1.5M22 155h1.5M86.5 167h1.5M151 173h1.5M79 181h1.5m13.5 0h1.5M52 183h1.5M77.5 191h1.5M239.5 211h1.5M173.5 213h1.5M245.5 215h1.5M188.5 219h1.5M235 239h1.5M241 241h1.5M191.5 245h1.5m3 0h1.5"/><path stroke="rgb(106, 191, 63)" d="M23.5 75h1.5M170.5 89h1.5M40 105h1.5m43.5 0h1.5M35.5 109h1.5M71.5 121h1.5M56.5 129h1.5M103 135h1.5M152.5 137h1.5M19 139h1.5M85 143h1.5m58.5 0h1.5m57 0h1.5M103 149h1.5M178 151h1.5M67 159h1.5m87 0h1.5M113.5 161h1.5M16 165h1.5M80.5 167h1.5M41.5 175h1.5M67 181h1.5M104.5 189h1.5M247 207h1.5M218.5 211h1.5M172 213h1.5M230.5 215h1.5M172 217h1.5M212.5 225h1.5M197.5 229h1.5M239.5 235h1.5M202 243h1.5"/><path stroke="rgb(127, 0, 0)" d="M230.5 63h1.5M80.5 65h1.5M37 69h1.5M98.5 71h1.5M103 75h1.5m34.5 0h1.5m27 0h1.5M85 83h1.5m162 0h1.5M26.5 87h1.5m39 0h1.5M185.5 97h1.5M143.5 101h1.5m9 0h1.5m64.5 0h1.5M187 103h1.5m37.5 0h1.5M43 107h1.5M206.5 111h1.5M122.5 121h1.5m111 0h1.5M187 123h1.5m43.5 0h1.5M164.5 125h1.5m28.5 0h1.5M151 127h1.5M178 131h1.5M152.5 133h1.5M97 135h1.5m78 0h1.5M124 137h1.5m40.5 0h1.5M142 139h1.5m31.5 0h1.5m61.5 0h1.5M184 141h1.5M47.5 147h1.5M59.5 149h1.5m49.5 0h1.5M205 153h1.5M200.5 155h1.5M187 157h1.5M143.5 161h1.5M73 165h1.5M200.5 167h1.5M133 169h1.5m30 0h1.5m70.5 0h1.5M160 173h1.5M20.5 175h1.5M109 179h1.5m54 0h1.5M197.5 183h1.5m25.5 0h1.5m22.5 0h1.5M149.5 185h1.5M164.5 187h1.5m48 0h1.5M160 195h1.5M221.5 197h1.5M230.5 199h1.5M58 211h1.5M22 217h1.5M31 221h1.5M40 227h1.5m84 0h1.5M38.5 229h1.5M29.5 239h1.5M109 241h1.5M130 243h1.5M44.5 245h1.5M154 247h1.5"/><path stroke="rgb(127, 21, 21)" d="M29.5 63h1.5m91.5 0h3m33 0h3m81 0h1.5M146.5 65h1.5m61.5 0h1.5m10.5 0h1.5M62.5 67h1.5m19.5 0h1.5m10.5 0h1.5m28.5 0h1.5M64 69h1.5m42 0h1.5m54 0h1.5m12 0h1.5m24 0h1.5m31.5 0h1.5M65.5 71h1.5m6 0h1.5m36 0h1.5m30 0h3m12 0h1.5m34.5 0h1.5m1.5 0h1.5m6 0h1.5M44.5 73h1.5m111 0h1.5m15 0h1.5m45 0h1.5m24 0h1.5M77.5 75h1.5m36 0h3m12 0h1.5m13.5 0h1.5m42 0h1.5m6 0h1.5m3 0h1.5m9 0h1.5m27 0h3M110.5 77h1.5M38.5 79h1.5m55.5 0h1.5m12 0h1.5m57 0h1.5m4.5 0h1.5m43.5 0h1.5M151 81h1.5m79.5 0h1.5M38.5 83h1.5m51 0h1.5m31.5 0h1.5m12 0h1.5m48 0h1.5m1.5 0h1.5m6 0h1.5m37.5 0h1.5M149.5 85h1.5m3 0h1.5M88 87h1.5m12 0h1.5m7.5 0h3m4.5 0h1.5m10.5 0h1.5m22.5 0h1.5m4.5 0h1.5m60 0h1.5m3 0h1.5m1.5 0h1.5M23.5 89h1.5m37.5 0h1.5m16.5 0h1.5m82.5 0h1.5m57 0h1.5M100 91h3m31.5 0h1.5m90 0h1.5m15 0h1.5M71.5 93h1.5m67.5 0h1.5m79.5 0h1.5m12 0h1.5m12 0h1.5M142 95h1.5m16.5 0h1.5m15 0h1.5m40.5 0h1.5m18 0h3m1.5 0h1.5m1.5 0h1.5M68.5 97h1.5m40.5 0h1.5m18 0h1.5m13.5 0h1.5M19 99h1.5m123 0h1.5m25.5 0h1.5m19.5 0h1.5m24 0h1.5m30 0h1.5M160 101h1.5m24 0h1.5M77.5 103h1.5m124.5 0h1.5m13.5 0h1.5m10.5 0h1.5M37 105h1.5m19.5 0h1.5M64 107h1.5m33 0h1.5m10.5 0h3m63 0h1.5m9 0h1.5m1.5 0h1.5m15 0h1.5m18 0h1.5M115 109h1.5m43.5 0h1.5m25.5 0h1.5m30 0h1.5m19.5 0h1.5M197.5 111h1.5M59.5 113h1.5m69 0h1.5m13.5 0h1.5m55.5 0h1.5m39 0h1.5M154 115h1.5m7.5 0h1.5m45 0h1.5m34.5 0h1.5M37 117h1.5m121.5 0h1.5m42 0h1.5m4.5 0h1.5M31 119h1.5m9 0h1.5m126 0h1.5m39 0h1.5m4.5 0h1.5M101.5 121h1.5m28.5 0h1.5m82.5 0h1.5m27 0h1.5M212.5 123h1.5m19.5 0h1.5M76 125h1.5m61.5 0h1.5m9 0h1.5m4.5 0h1.5m6 0h1.5m58.5 0h1.5M20.5 127h1.5m51 0h1.5m19.5 0h1.5m36 0h1.5m52.5 0h1.5m9 0h1.5m39 0h3M115 129h1.5m109.5 0h1.5m1.5 0h1.5M80.5 131h1.5m33 0h1.5m33 0h1.5m21 0h1.5m16.5 0h1.5m37.5 0h1.5M173.5 133h1.5m43.5 0h1.5m10.5 0h1.5M236.5 135h1.5m4.5 0h3m1.5 0h1.5M154 137h1.5m66 0h1.5m24 0h1.5M124 139h1.5m33 0h1.5M82 141h1.5m6 0h1.5m69 0h1.5m10.5 0h1.5m51 0h1.5M28 143h1.5m61.5 0h1.5m22.5 0h1.5m19.5 0h1.5m1.5 0h1.5m60 0h1.5m13.5 0h1.5m15 0h1.5m3 0h1.5M131.5 145h1.5m9 0h1.5m61.5 0h1.5m1.5 0h1.5m13.5 0h1.5m7.5 0h1.5m12 0h3M28 147h1.5m4.5 0h1.5m64.5 0h1.5m88.5 0h1.5m36 0h1.5m12 0h1.5M28 149h1.5m78 0h1.5m72 0h1.5m40.5 0h1.5m22.5 0h1.5M34 151h1.5m21 0h1.5m42 0h1.5m72 0h1.5m19.5 0h1.5m19.5 0h1.5M61 153h1.5m94.5 0h3m22.5 0h1.5m57 0h1.5M140.5 155h1.5m10.5 0h1.5m10.5 0h1.5m52.5 0h1.5m22.5 0h1.5M148 157h1.5m33 0h1.5m36 0h1.5M53.5 159h1.5m69 0h1.5m69 0h1.5m3 0h3m43.5 0h1.5m1.5 0h1.5M98.5 161h1.5m21 0h1.5m75 0h1.5m19.5 0h1.5m15 0h1.5M17.5 163h1.5m49.5 0h1.5m24 0h1.5m61.5 0h1.5m33 0h1.5m27 0h1.5m10.5 0h1.5M41.5 165h1.5m105 0h1.5m55.5 0h1.5m39 0h1.5M31 167h1.5m55.5 0h1.5m22.5 0h1.5m7.5 0h1.5m6 0h1.5m25.5 0h1.5m6 0h1.5m51 0h1.5m7.5 0h1.5M181 169h3m43.5 0h1.5M191.5 171h1.5m7.5 0h1.5m36 0h1.5m7.5 0h1.5M35.5 173h1.5m45 0h1.5m64.5 0h1.5m21 0h1.5m57 0h1.5m10.5 0h1.5m3 0h1.5M70 175h1.5M103 177h3m10.5 0h1.5m36 0h1.5m52.5 0h1.5m18 0h1.5m16.5 0h1.5M68.5 179h1.5m51 0h1.5m31.5 0h1.5m19.5 0h1.5m30 0h1.5m19.5 0h1.5M49 181h1.5m69 0h1.5m78 0h1.5m15 0h3M106 183h1.5m22.5 0h1.5m22.5 0h1.5m78 0h1.5m6 0h1.5M49 185h1.5m10.5 0h1.5m16.5 0h1.5m54 0h1.5m43.5 0h1.5m27 0h1.5m10.5 0h1.5M130 187h1.5m61.5 0h1.5m21 0h1.5M56.5 189h1.5m34.5 0h1.5m115.5 0h1.5M28 191h1.5m27 0h1.5m1.5 0h1.5m13.5 0h1.5m61.5 0h1.5m37.5 0h1.5m39 0h1.5M124 193h1.5m48 0h1.5m9 0h1.5m58.5 0h1.5M40 195h1.5m84 0h1.5m3 0h1.5m21 0h1.5m4.5 0h1.5m13.5 0h1.5M109 197h1.5m1.5 0h1.5m126 0h1.5M151 199h1.5M59.5 201h1.5m54 0h1.5m15 0h1.5m6 0h1.5M95.5 203h1.5m60 0h1.5m3 0h1.5m1.5 0h3m27 0h1.5M17.5 205h1.5m13.5 0h1.5m37.5 0h1.5m21 0h1.5m16.5 0h1.5m49.5 0h1.5M41.5 207h1.5m57 0h1.5m3 0h1.5m27 0h1.5m9 0h1.5m10.5 0h1.5m87 0h1.5M52 209h1.5m19.5 0h1.5m28.5 0h1.5m6 0h1.5M31 211h1.5m40.5 0h1.5m54 0h1.5m33 0h1.5m3 0h1.5m3 0h1.5m30 0h1.5M46 213h1.5m31.5 0h1.5m1.5 0h1.5m10.5 0h1.5m22.5 0h1.5m61.5 0h1.5M19 215h1.5m15 0h1.5m39 0h1.5m30 0h1.5m18 0h1.5m1.5 0h1.5m6 0h1.5m25.5 0h1.5m49.5 0h1.5M44.5 217h1.5m31.5 0h1.5m10.5 0h1.5m34.5 0h1.5m25.5 0h1.5m25.5 0h1.5m4.5 0h1.5M154 219h1.5m3 0h1.5M82 221h1.5m54 0h1.5m7.5 0h1.5m1.5 0h1.5m3 0h1.5M38.5 223h1.5m40.5 0h1.5m24 0h1.5m7.5 0h1.5m30 0h1.5m10.5 0h1.5m13.5 0h1.5m7.5 0h1.5M32.5 225h1.5m84 0h1.5m46.5 0h3m13.5 0h1.5M106 227h1.5m28.5 0h4.5m22.5 0h1.5M23.5 229h1.5m19.5 0h1.5m15 0h1.5m3 0h1.5m19.5 0h1.5m19.5 0h1.5m31.5 0h1.5m60 0h1.5M17.5 231h1.5m16.5 0h1.5m4.5 0h1.5m42 0h1.5m19.5 0h1.5m21 0h1.5m12 0h1.5m18 0h1.5m3 0h1.5M89.5 233h1.5M17.5 235h1.5m39 0h1.5m12 0h1.5M29.5 237h1.5m27 0h1.5m22.5 0h1.5m1.5 0h1.5M40 239h1.5m13.5 0h1.5m27 0h1.5m1.5 0h1.5m16.5 0h1.5m9 0h1.5m10.5 0h1.5m27 0h1.5M28 241h1.5m34.5 0h1.5m7.5 0h1.5m1.5 0h1.5m40.5 0h3m19.5 0h1.5m10.5 0h1.5m9 0h1.5M55 243h1.5m19.5 0h1.5M46 245h1.5m54 0h1.5m51 0h1.5M22 247h1.5m4.5 0h1.5m24 0h1.5m31.5 0h1.5m43.5 0h1.5m7.5 0h3M29.5 249h1.5m1.5 0h1.5m15 0h1.5m21 0h1.5m4.5 0h3m15 0h1.5M38.5 251h1.5m13.5 0h1.5m31.5 0h1.5m48 0h1.5m3 0h1.5m40.5 0h1.5"/><path stroke="rgb(127, 191, 63)" d="M20.5 63h1.5m28.5 0h1.5m27 0h1.5M46 65h1.5m43.5 0h1.5M88 71h1.5m40.5 0h1.5m40.5 0h1.5M65.5 73h1.5m15 0h1.5m121.5 0h1.5M64 75h1.5M22 77h1.5m10.5 0h1.5m28.5 0h1.5m3 0h1.5m88.5 0h1.5M25 79h1.5m61.5 0h1.5m12 0h1.5M41.5 81h1.5m13.5 0h1.5m7.5 0h1.5m16.5 0h1.5m42 0h1.5m82.5 0h1.5M46 83h1.5m3 0h1.5m126 0h1.5M23.5 85h1.5m22.5 0h1.5m61.5 0h1.5m19.5 0h1.5M34 89h1.5m58.5 0h1.5M122.5 91h1.5M104.5 93h1.5m22.5 0h1.5M58 95h1.5M16 97h1.5m24 0h1.5m24 0h1.5m90 0h1.5m7.5 0h1.5M22 101h1.5m49.5 0h1.5m49.5 0h1.5m21 0h1.5m63 0h1.5M43 103h1.5m46.5 0h1.5M56.5 105h1.5M91 107h1.5M40 109h1.5m13.5 0h1.5m9 0h1.5m18 0h1.5M56.5 111h3m10.5 0h1.5m24 0h1.5m13.5 0h1.5m39 0h1.5M131.5 113h1.5M35.5 115h1.5m33 0h1.5m133.5 0h1.5M17.5 117h1.5m31.5 0h1.5m40.5 0h1.5M94 119h1.5m31.5 0h1.5m58.5 0h1.5M28 121h1.5m49.5 0h1.5m66 0h1.5M52 123h1.5M52 125h1.5m48 0h1.5m4.5 0h1.5M98.5 127h1.5M103 129h1.5M62.5 131h1.5m9 0h1.5m31.5 0h1.5m4.5 0h1.5M20.5 133h1.5m15 0h1.5m21 0h1.5m15 0h1.5M26.5 135h1.5m18 0h1.5M40 137h1.5m6 0h1.5m96 0h1.5M71.5 139h1.5m72 0h1.5M44.5 141h1.5m45 0h1.5m81 0h1.5M46 143h1.5m49.5 0h1.5M56.5 145h1.5M17.5 147h1.5m7.5 0h1.5m13.5 0h1.5M61 149h1.5m12 0h1.5m6 0h1.5M47.5 151h1.5m9 0h1.5m1.5 0h1.5m145.5 0h3M23.5 153h1.5M155.5 155h1.5m21 0h1.5M16 157h1.5m70.5 0h1.5m10.5 0h1.5m27 0h1.5m91.5 0h1.5M35.5 159h1.5m19.5 0h1.5m6 0h1.5m30 0h1.5m9 0h1.5m22.5 0h1.5m4.5 0h1.5m31.5 0h1.5m22.5 0h1.5M71.5 161h1.5m7.5 0h1.5m46.5 0h1.5M29.5 165h1.5m34.5 0h1.5m16.5 0h1.5M19 167h1.5m31.5 0h1.5m42 0h1.5m19.5 0h1.5M134.5 169h1.5M32.5 171h1.5m22.5 0h3M86.5 173h1.5m22.5 0h1.5M104.5 175h1.5M32.5 177h1.5M101.5 181h1.5m90 0h1.5M20.5 183h1.5m6 0h1.5m45 0h1.5m6 0h1.5M26.5 187h1.5m43.5 0h1.5m105 0h1.5m15 0h1.5M17.5 189h3m69 0h1.5M53.5 191h1.5M29.5 193h1.5m4.5 0h1.5m19.5 0h1.5m105 0h1.5M164.5 195h1.5M29.5 197h1.5M32.5 199h1.5m1.5 0h1.5m117 0h1.5M242.5 201h1.5M175 203h1.5m58.5 0h1.5M133 205h1.5m76.5 0h1.5M217 207h1.5m1.5 0h1.5m9 0h1.5M221.5 209h1.5M199 211h3m10.5 0h1.5m6 0h1.5M197.5 213h1.5m12 0h1.5m15 0h1.5M181 215h1.5m25.5 0h1.5m1.5 0h1.5M193 217h1.5m6 0h3m22.5 0h1.5m1.5 0h1.5m7.5 0h1.5M221.5 219h1.5M235 221h1.5M169 223h1.5M121 227h1.5m48 0h1.5m4.5 0h1.5m37.5 0h1.5m27 0h1.5M194.5 229h1.5m31.5 0h1.5m6 0h3M104.5 231h1.5M208 233h1.5m1.5 0h1.5m33 0h1.5M193 237h1.5m28.5 0h1.5m6 0h1.5M203.5 241h1.5m18 0h1.5M62.5 243h1.5m121.5 0h1.5m10.5 0h1.5m12 0h1.5M79 245h1.5m105 0h1.5m6 0h1.5m37.5 0h1.5m1.5 0h1.5M184 247h1.5M212.5 249h1.5m7.5 0h1.5m9 0h1.5m6 0h1.5M41.5 251h1.5m61.5 0h1.5m75 0h1.5m43.5 0h3"/><path stroke="rgb(127, 212, 63)" d="M46 63h1.5m24 0h1.5M59.5 65h1.5M41.5 67h3m9 0h1.5M190 69h1.5M49 71h1.5M154 73h1.5M55 75h1.5M46 77h1.5m93 0h1.5M67 79h1.5M50.5 81h1.5M166 83h1.5M170.5 87h1.5M47.5 89h1.5m9 0h1.5m79.5 0h1.5m37.5 0h1.5M52 91h1.5M31 93h1.5m106.5 0h1.5M28 95h1.5m12 0h1.5M17.5 97h1.5m45 0h1.5m58.5 0h1.5M23.5 101h1.5M71.5 103h1.5M106 105h1.5M71.5 109h1.5M35.5 111h1.5m39 0h1.5M91 113h1.5M116.5 115h1.5M65.5 117h1.5m40.5 0h1.5M88 121h1.5M77.5 123h1.5m100.5 0h1.5M31 125h1.5m16.5 0h1.5m45 0h1.5m21 0h1.5m25.5 0h1.5M19 127h1.5m1.5 0h1.5m3 0h1.5m39 0h1.5m54 0h1.5M86.5 129h1.5m4.5 0h1.5M34 131h1.5M47.5 133h1.5m3 0h1.5M47.5 135h1.5m67.5 0h1.5M26.5 143h1.5m3 0h1.5m10.5 0h1.5m33 0h1.5m16.5 0h1.5M35.5 145h1.5m67.5 0h1.5M67 147h1.5m171 0h1.5M91 149h1.5m12 0h1.5M98.5 157h1.5m6 0h1.5M131.5 159h1.5M29.5 161h1.5m34.5 0h1.5m25.5 0h1.5m79.5 0h1.5M61 165h1.5M56.5 167h1.5M41.5 169h1.5m13.5 0h1.5m94.5 0h1.5M74.5 171h1.5M25 175h1.5m151.5 0h1.5M107.5 179h1.5M62.5 181h1.5m1.5 0h1.5m60 0h1.5m9 0h1.5M22 187h1.5m31.5 0h1.5m115.5 0h1.5M88 191h1.5m31.5 0h1.5m49.5 0h1.5M58 195h1.5M71.5 197h1.5M97 201h1.5m36 0h1.5m19.5 0h1.5m82.5 0h1.5M188.5 203h1.5m10.5 0h1.5M197.5 205h3M184 209h1.5m24 0h1.5M233.5 211h1.5M128.5 213h1.5M68.5 215h1.5m114 0h1.5m57 0h1.5M223 217h1.5m12 0h1.5M230.5 219h3M175 221h1.5m19.5 0h1.5m6 0h3M148 223h1.5m85.5 0h1.5M245.5 229h1.5M34 231h1.5m154.5 0h1.5m12 0h1.5m27 0h1.5M191.5 233h1.5M101.5 235h1.5m117 0h1.5m12 0h1.5M169 237h1.5m19.5 0h1.5m7.5 0h1.5m37.5 0h1.5M103 239h1.5m85.5 0h1.5M235 241h1.5m12 0h1.5M214 243h1.5m30 0h1.5M200.5 245h3m30 0h1.5M226 249h1.5m18 0h1.5M64 251h1.5m67.5 0h1.5"/><path stroke="rgb(148, 21, 21)" d="M163 63h1.5m13.5 0h1.5m45 0h1.5m12 0h1.5M47.5 65h1.5m72 0h1.5m64.5 0h1.5m37.5 0h1.5m4.5 0h1.5M73 67h1.5m133.5 0h1.5m18 0h1.5M32.5 69h1.5m105 0h1.5m60 0h1.5m15 0h1.5M55 71h1.5m27 0h1.5m115.5 0h1.5m6 0h3m10.5 0h1.5m1.5 0h1.5m3 0h1.5M38.5 73h1.5m31.5 0h1.5m97.5 0h1.5m51 0h1.5m10.5 0h1.5M197.5 75h1.5m7.5 0h1.5m13.5 0h1.5M137.5 77h1.5m76.5 0h1.5M64 79h1.5m156 0h1.5M179.5 81h3m15 0h1.5m13.5 0h1.5m3 0h1.5m1.5 0h4.5M71.5 83h1.5m69 0h1.5m58.5 0h1.5M28 85h1.5m85.5 0h1.5m105 0h1.5m6 0h1.5M121 87h1.5m25.5 0h1.5m13.5 0h1.5m15 0h1.5m66 0h1.5M71.5 89h1.5m69 0h1.5m3 0h3m48 0h1.5m10.5 0h1.5M86.5 91h1.5m61.5 0h1.5m13.5 0h1.5m27 0h3m25.5 0h1.5m25.5 0h1.5M38.5 93h1.5m61.5 0h1.5m34.5 0h1.5m22.5 0h1.5m67.5 0h1.5M88 95h1.5m102 0h3m21 0h1.5M115 97h1.5m4.5 0h1.5m9 0h1.5m19.5 0h1.5m46.5 0h1.5m7.5 0h1.5M107.5 99h1.5m76.5 0h1.5M44.5 101h1.5m151.5 0h1.5m10.5 0h1.5m22.5 0h1.5m3 0h1.5M110.5 103h1.5m3 0h1.5m3 0h1.5m1.5 0h1.5m99 0h1.5M25 105h1.5m40.5 0h1.5m31.5 0h1.5m1.5 0h1.5m27 0h1.5m36 0h1.5m13.5 0h1.5m43.5 0h1.5m7.5 0h1.5m4.5 0h1.5M49 107h1.5m73.5 0h1.5m12 0h1.5m27 0h3m1.5 0h1.5m9 0h1.5M173.5 109h1.5m52.5 0h1.5m7.5 0h1.5m9 0h1.5M127 111h1.5m1.5 0h1.5m4.5 0h3M100 113h1.5m16.5 0h1.5m4.5 0h1.5m88.5 0h1.5m1.5 0h1.5m21 0h1.5M44.5 115h1.5m193.5 0h1.5M59.5 117h1.5m22.5 0h1.5m105 0h1.5M109 121h1.5m4.5 0h1.5m60 0h3m30 0h1.5m12 0h1.5m21 0h1.5M121 123h1.5m6 0h1.5m46.5 0h1.5m39 0h1.5m22.5 0h1.5M77.5 125h1.5m99 0h1.5m18 0h1.5m18 0h1.5m25.5 0h1.5M74.5 127h1.5m15 0h1.5m84 0h1.5m22.5 0h1.5m19.5 0h1.5m24 0h1.5M121 129h1.5m54 0h1.5m31.5 0h1.5m19.5 0h1.5M142 131h1.5m12 0h1.5m69 0h1.5m13.5 0h1.5M181 133h1.5m7.5 0h1.5m48 0h1.5m4.5 0h1.5M122.5 135h1.5m39 0h1.5m10.5 0h1.5m21 0h1.5m7.5 0h1.5m19.5 0h1.5M110.5 137h1.5m31.5 0h1.5m18 0h1.5m9 0h1.5m40.5 0h1.5m10.5 0h1.5M178 139h1.5m21 0h1.5M28 141h1.5m97.5 0h1.5m3 0h1.5m16.5 0h1.5m18 0h1.5m40.5 0h1.5m1.5 0h1.5M119.5 143h1.5m22.5 0h1.5m30 0h1.5m9 0h1.5m25.5 0h1.5m25.5 0h3M49 145h1.5m24 0h1.5m162 0h1.5M163 147h1.5m18 0h1.5m12 0h1.5m31.5 0h1.5M116.5 149h1.5m79.5 0h1.5m9 0h1.5M85 151h1.5m157.5 0h1.5M152.5 153h1.5m34.5 0h1.5m1.5 0h1.5m21 0h1.5m28.5 0h1.5M20.5 155h1.5m64.5 0h1.5m9 0h1.5m16.5 0h1.5m49.5 0h1.5M37 157h1.5m85.5 0h1.5m10.5 0h1.5M61 159h1.5m24 0h1.5m28.5 0h1.5m39 0h1.5m82.5 0h1.5M115 161h1.5m97.5 0h1.5m30 0h1.5M47.5 163h1.5m121.5 0h1.5m27 0h1.5m30 0h1.5M107.5 165h1.5m3 0h1.5m15 0h1.5m36 0h1.5m4.5 0h1.5m9 0h1.5m27 0h1.5m3 0h1.5m22.5 0h1.5M82 167h3m105 0h1.5m45 0h1.5M53.5 169h1.5m13.5 0h1.5m18 0h1.5m37.5 0h1.5m55.5 0h1.5m48 0h1.5M182.5 171h1.5m21 0h3m7.5 0h1.5m27 0h1.5M37 173h1.5m7.5 0h1.5m21 0h1.5m13.5 0h1.5m3 0h1.5m27 0h1.5m115.5 0h1.5M103 175h1.5m12 0h1.5m82.5 0h1.5m12 0h1.5m16.5 0h1.5M44.5 177h1.5m3 0h1.5m36 0h1.5m13.5 0h1.5m43.5 0h3m18 0h1.5m42 0h1.5m31.5 0h1.5M77.5 179h1.5m24 0h1.5m9 0h1.5m84 0h1.5m4.5 0h1.5m25.5 0h1.5M175 181h1.5m19.5 0h1.5m39 0h1.5M175 183h1.5M43 185h1.5m18 0h1.5m13.5 0h1.5m31.5 0h1.5m24 0h1.5m1.5 0h1.5m22.5 0h1.5m24 0h1.5m1.5 0h1.5M137.5 187h1.5m102 0h1.5M28 189h1.5m88.5 0h1.5m99 0h1.5m22.5 0h1.5M136 191h1.5m49.5 0h1.5m9 0h1.5m12 0h1.5m15 0h1.5m7.5 0h1.5m6 0h3M113.5 193h1.5m70.5 0h1.5m4.5 0h1.5m34.5 0h1.5M52 195h1.5m130.5 0h1.5m4.5 0h1.5m3 0h1.5m13.5 0h1.5m13.5 0h1.5M142 197h1.5m13.5 0h1.5m18 0h1.5m67.5 0h1.5M23.5 199h3m18 0h1.5m27 0h1.5m67.5 0h1.5m19.5 0h1.5m15 0h1.5m30 0h1.5m4.5 0h1.5m27 0h1.5M25 201h1.5m1.5 0h3M34 203h1.5m12 0h1.5m34.5 0h1.5m16.5 0h1.5m12 0h1.5m19.5 0h1.5m30 0h1.5m24 0h1.5M85 205h1.5M17.5 207h1.5m37.5 0h1.5m52.5 0h1.5m1.5 0h1.5m1.5 0h1.5m18 0h1.5m7.5 0h3M49 209h1.5m6 0h1.5m13.5 0h1.5m9 0h3m16.5 0h1.5m36 0h1.5m22.5 0h1.5M64 211h1.5m16.5 0h1.5m46.5 0h1.5m13.5 0h1.5m9 0h1.5M34 213h1.5m13.5 0h1.5m19.5 0h1.5m42 0h1.5m12 0h1.5M142 215h1.5M17.5 217h3m16.5 0h1.5m21 0h1.5m37.5 0h1.5M35.5 219h1.5m21 0h1.5m1.5 0h1.5m33 0h1.5M86.5 221h1.5m79.5 0h1.5m9 0h1.5M16 223h1.5m4.5 0h1.5m28.5 0h1.5m4.5 0h1.5m3 0h1.5m25.5 0h3m37.5 0h1.5m30 0h1.5M40 225h3m12 0h1.5m4.5 0h1.5m4.5 0h1.5m6 0h1.5M110.5 227h1.5m1.5 0h3M28 229h1.5m12 0h1.5m12 0h1.5m43.5 0h1.5M28 231h1.5m52.5 0h1.5m31.5 0h1.5m1.5 0h1.5m124.5 0h1.5M23.5 233h1.5m10.5 0h1.5m4.5 0h1.5m6 0h1.5m1.5 0h1.5m12 0h1.5m7.5 0h1.5m22.5 0h1.5m66 0h1.5m33 0h1.5M23.5 235h3m6 0h1.5m19.5 0h1.5m9 0h1.5m3 0h1.5m19.5 0h1.5m37.5 0h1.5m10.5 0h1.5M38.5 237h1.5m70.5 0h1.5m30 0h1.5M38.5 239h1.5m28.5 0h1.5m1.5 0h1.5m4.5 0h1.5m37.5 0h3m12 0h1.5m15 0h1.5m4.5 0h1.5m55.5 0h1.5M29.5 241h3m13.5 0h3m12 0h1.5m28.5 0h1.5m22.5 0h1.5m27 0h1.5M17.5 243h1.5m4.5 0h1.5m1.5 0h1.5m25.5 0h1.5m16.5 0h1.5m42 0h1.5m3 0h1.5m31.5 0h1.5M31 245h1.5m4.5 0h1.5m16.5 0h3m6 0h1.5m10.5 0h1.5m70.5 0h1.5m7.5 0h1.5M16 247h1.5m21 0h1.5m3 0h1.5m18 0h3m15 0h1.5m43.5 0h1.5m9 0h1.5m15 0h1.5M34 249h1.5m61.5 0h1.5m9 0h1.5m37.5 0h1.5M22 251h1.5m25.5 0h1.5m7.5 0h1.5m169.5 0h1.5"/><path stroke="rgb(148, 212, 63)" d="M74.5 73h1.5M35.5 79h1.5M89.5 81h1.5M52 83h1.5m13.5 0h1.5m6 0h1.5M31 87h1.5M32.5 89h1.5M23.5 93h1.5m33 0h1.5M23.5 97h1.5M19 103h1.5M68.5 107h1.5M205 113h1.5M70 119h1.5m43.5 0h1.5M202 127h1.5M59.5 129h1.5M58 137h1.5M62.5 149h1.5M113.5 153h1.5M101.5 155h1.5M31 157h1.5M31 165h1.5M143.5 173h1.5M29.5 181h1.5M17.5 183h1.5M89.5 191h1.5M83.5 195h1.5M38.5 197h1.5m63 0h1.5M233.5 201h1.5M203.5 203h1.5M137.5 205h1.5M157 207h1.5M191.5 217h1.5m12 0h1.5M242.5 219h1.5M230.5 225h1.5M155.5 227h1.5M211 229h1.5M119.5 235h1.5M200.5 237h1.5m39 0h1.5M220 239h1.5M184 251h1.5m22.5 0h1.5"/><path stroke="rgb(148, 233, 63)" d="M41.5 63h1.5m48 0h1.5m22.5 0h1.5m22.5 0h1.5m61.5 0h1.5M31 65h1.5m1.5 0h1.5m70.5 0h1.5m81 0h1.5M104.5 67h1.5M104.5 69h1.5M68.5 71h1.5m88.5 0h1.5M16 73h1.5m4.5 0h3m25.5 0h1.5m18 0h1.5m16.5 0h1.5m46.5 0h1.5M17.5 75h1.5m39 0h1.5m36 0h1.5m64.5 0h1.5M17.5 77h1.5m4.5 0h1.5m30 0h1.5m13.5 0h1.5m24 0h1.5m31.5 0h1.5m24 0h1.5m16.5 0h1.5m12 0h1.5m3 0h1.5M16 79h1.5m45 0h1.5M43 81h1.5m25.5 0h1.5m114 0h1.5M104.5 83h1.5m3 0h1.5m21 0h1.5M31 85h1.5m13.5 0h1.5m4.5 0h1.5m82.5 0h1.5M89.5 87h1.5m7.5 0h1.5M134.5 89h1.5m75 0h1.5M26.5 91h1.5m4.5 0h1.5m73.5 0h1.5M43 93h1.5m61.5 0h1.5m1.5 0h1.5m63 0h1.5M43 95h1.5m49.5 0h1.5m67.5 0h1.5M25 97h1.5m4.5 0h1.5m10.5 0h1.5m1.5 0h1.5m6 0h1.5m3 0h3m4.5 0h1.5m28.5 0h1.5M61 99h1.5m36 0h1.5m67.5 0h1.5M29.5 101h1.5m16.5 0h1.5m4.5 0h1.5m52.5 0h1.5M26.5 105h1.5m1.5 0h1.5m40.5 0h1.5m18 0h1.5M38.5 107h3m18 0h1.5m13.5 0h1.5M80.5 111h1.5m22.5 0h1.5m15 0h1.5m16.5 0h1.5M49 113h1.5m6 0h1.5m13.5 0h1.5m19.5 0h1.5m16.5 0h1.5M29.5 115h1.5m31.5 0h1.5m12 0h1.5m3 0h3m21 0h1.5m100.5 0h1.5M61 117h3m18 0h1.5m7.5 0h1.5m37.5 0h3M38.5 119h1.5m45 0h1.5m30 0h1.5m31.5 0h1.5M107.5 121h1.5m49.5 0h1.5M65.5 123h1.5m69 0h1.5m4.5 0h1.5m16.5 0h1.5M17.5 125h1.5m31.5 0h1.5m6 0h1.5m60 0h1.5m6 0h1.5M16 127h1.5m28.5 0h1.5m99 0h1.5M16 129h1.5m1.5 0h1.5m3 0h1.5m18 0h1.5m4.5 0h1.5m13.5 0h1.5m69 0h1.5m27 0h1.5M16 131h1.5m4.5 0h3m30 0h1.5m72 0h1.5m15 0h1.5M17.5 133h1.5m3 0h1.5m3 0h1.5m30 0h1.5m43.5 0h1.5m16.5 0h1.5m7.5 0h1.5M16 135h1.5m4.5 0h3m6 0h3m16.5 0h1.5m1.5 0h1.5m21 0h1.5m67.5 0h1.5M53.5 137h1.5m54 0h1.5m1.5 0h1.5m6 0h1.5M23.5 139h1.5m60 0h1.5m25.5 0h1.5m84 0h1.5M35.5 141h1.5m1.5 0h1.5m43.5 0h1.5m1.5 0h1.5m15 0h1.5m100.5 0h1.5M22 143h1.5m18 0h1.5m19.5 0h1.5m39 0h1.5m7.5 0h1.5M26.5 145h1.5m12 0h1.5m106.5 0h1.5M31 147h1.5m52.5 0h1.5m4.5 0h1.5m85.5 0h1.5M31 149h1.5m66 0h1.5M19 151h1.5m15 0h1.5m4.5 0h1.5m19.5 0h1.5m3 0h1.5m22.5 0h1.5m21 0h1.5m55.5 0h1.5M16 153h1.5m1.5 0h1.5m9 0h1.5m70.5 0h1.5m30 0h1.5M16 155h1.5m70.5 0h1.5m1.5 0h1.5m109.5 0h1.5M40 157h1.5m7.5 0h1.5m12 0h1.5m16.5 0h1.5M16 159h3m10.5 0h3m16.5 0h1.5m4.5 0h1.5m25.5 0h1.5m13.5 0h1.5m16.5 0h1.5m3 0h1.5M16 161h1.5m10.5 0h1.5m1.5 0h3m30 0h1.5m40.5 0h1.5M31 163h1.5m3 0h1.5m28.5 0h1.5M52 165h1.5m1.5 0h1.5m64.5 0h1.5M16 167h3m15 0h3m18 0h1.5m36 0h1.5M40 169h1.5m57 0h1.5M16 171h1.5m9 0h1.5m36 0h1.5M16 175h1.5m9 0h1.5m18 0h1.5m7.5 0h1.5m10.5 0h3m3 0h1.5m13.5 0h1.5m18 0h1.5m37.5 0h1.5m49.5 0h1.5m4.5 0h1.5M17.5 177h1.5m6 0h1.5m9 0h1.5m114 0h1.5M19 179h1.5m10.5 0h1.5m3 0h1.5m6 0h1.5m19.5 0h1.5m97.5 0h1.5M17.5 181h1.5m36 0h1.5m7.5 0h1.5m6 0h3m7.5 0h1.5m58.5 0h1.5m9 0h1.5M19 183h1.5m1.5 0h1.5m1.5 0h1.5m3 0h1.5m9 0h1.5M65.5 185h1.5m15 0h1.5m7.5 0h1.5m13.5 0h1.5M16 187h1.5m1.5 0h1.5m25.5 0h3m19.5 0h1.5m6 0h3m12 0h1.5m13.5 0h1.5M20.5 189h1.5m10.5 0h1.5m7.5 0h1.5M16 191h3m3 0h1.5m12 0h1.5m165 0h1.5M68.5 193h1.5m16.5 0h1.5m3 0h1.5m1.5 0h1.5m93 0h1.5M19 195h1.5m15 0h1.5m16.5 0h1.5m36 0h1.5m18 0h1.5m37.5 0h1.5M20.5 197h1.5m13.5 0h1.5m9 0h1.5m10.5 0h1.5m64.5 0h1.5M62.5 199h1.5m31.5 0h1.5M145 201h1.5m30 0h1.5m1.5 0h1.5m6 0h1.5m9 0h1.5m10.5 0h1.5m12 0h1.5m1.5 0h1.5m10.5 0h1.5m4.5 0h1.5M170.5 203h1.5m7.5 0h1.5m16.5 0h1.5m31.5 0h1.5m1.5 0h1.5m3 0h1.5M104.5 205h1.5m58.5 0h1.5m6 0h1.5m48 0h1.5m15 0h1.5m9 0h1.5M148 207h1.5m48 0h1.5m4.5 0h3m19.5 0h1.5m7.5 0h1.5m1.5 0h3m1.5 0h1.5m4.5 0h1.5M179.5 209h3m15 0h1.5m12 0h3m3 0h1.5m1.5 0h1.5m9 0h3m6 0h1.5m7.5 0h1.5M197.5 211h1.5m12 0h1.5m25.5 0h1.5m9 0h1.5M110.5 213h1.5m42 0h1.5m36 0h1.5m12 0h1.5m15 0h1.5m16.5 0h1.5M154 215h1.5m33 0h1.5m7.5 0h3m19.5 0h1.5m10.5 0h1.5m6 0h1.5M163 217h1.5m25.5 0h1.5m6 0h3m7.5 0h1.5m21 0h1.5m7.5 0h1.5m3 0h3M155.5 219h1.5m43.5 0h1.5m33 0h1.5m3 0h1.5M181 221h1.5m55.5 0h1.5M200.5 223h1.5m1.5 0h1.5m10.5 0h1.5m21 0h3m7.5 0h1.5M148 225h1.5m31.5 0h1.5m7.5 0h3m1.5 0h1.5m4.5 0h1.5m1.5 0h1.5m10.5 0h1.5m1.5 0h1.5m7.5 0h1.5m3 0h1.5m4.5 0h1.5m6 0h1.5m1.5 0h1.5M175 227h1.5m4.5 0h1.5m1.5 0h1.5m6 0h1.5m6 0h1.5m3 0h1.5m1.5 0h1.5m4.5 0h3m12 0h1.5m3 0h1.5m3 0h4.5m4.5 0h1.5M173.5 229h1.5m15 0h1.5m1.5 0h1.5m12 0h1.5m9 0h3m12 0h1.5m4.5 0h1.5m1.5 0h1.5m1.5 0h1.5M101.5 233h1.5m70.5 0h1.5m15 0h1.5m7.5 0h1.5m6 0h1.5m7.5 0h1.5m7.5 0h1.5m1.5 0h1.5m3 0h1.5m1.5 0h3M112 235h1.5m45 0h1.5m21 0h1.5m7.5 0h1.5m15 0h1.5m1.5 0h1.5m3 0h3m7.5 0h1.5m3 0h1.5m1.5 0h1.5m1.5 0h1.5m7.5 0h1.5M19 237h1.5m40.5 0h1.5m81 0h1.5m25.5 0h1.5m15 0h1.5m6 0h1.5m7.5 0h1.5m1.5 0h1.5m7.5 0h1.5m7.5 0h1.5m3 0h1.5m1.5 0h1.5m1.5 0h3M170.5 239h1.5m15 0h1.5m6 0h1.5m19.5 0h1.5m10.5 0h1.5m16.5 0h1.5M170.5 241h1.5m1.5 0h1.5m6 0h1.5m4.5 0h1.5m49.5 0h1.5M169 243h1.5m30 0h1.5m3 0h1.5m1.5 0h3m19.5 0h1.5m1.5 0h1.5m3 0h1.5M187 245h1.5m19.5 0h3m34.5 0h1.5m1.5 0h1.5M187 247h1.5m12 0h1.5m31.5 0h1.5m3 0h1.5M178 249h1.5m15 0h3m1.5 0h1.5m19.5 0h1.5m3 0h1.5m1.5 0h1.5m1.5 0h1.5m1.5 0h1.5m3 0h1.5m9 0h1.5M167.5 251h1.5m1.5 0h3m6 0h1.5m18 0h1.5m10.5 0h1.5m1.5 0h1.5m9 0h1.5m6 0h3m3 0h1.5m7.5 0h3"/><path stroke="rgb(170, 21, 21)" d="M19 63h1.5m133.5 0h1.5m6 0h1.5M163 65h1.5m34.5 0h1.5m1.5 0h1.5m3 0h1.5m7.5 0h1.5m3 0h1.5M187 67h1.5m3 0h1.5M155.5 69h1.5m21 0h1.5m18 0h3m13.5 0h1.5m12 0h1.5m3 0h1.5M101.5 71h1.5M77.5 73h1.5m25.5 0h1.5m69 0h1.5m45 0h1.5m6 0h1.5M112 75h1.5m4.5 0h1.5m54 0h1.5m24 0h1.5m15 0h1.5m12 0h1.5M103 77h1.5m106.5 0h1.5m34.5 0h1.5M92.5 79h1.5m45 0h1.5m3 0h1.5m31.5 0h1.5M118 81h1.5m22.5 0h1.5m30 0h1.5m33 0h1.5m31.5 0h1.5M56.5 83h1.5m90 0h1.5m18 0h3M152.5 85h1.5M53.5 87h1.5m54 0h1.5m9 0h1.5m1.5 0h1.5m94.5 0h1.5M161.5 89h1.5m25.5 0h1.5M148 91h1.5m1.5 0h1.5m13.5 0h1.5m57 0h1.5m4.5 0h1.5m4.5 0h3M100 93h1.5m115.5 0h1.5M37 95h1.5m58.5 0h1.5m58.5 0h1.5m28.5 0h1.5m33 0h1.5m1.5 0h1.5M230.5 97h1.5m4.5 0h1.5m7.5 0h1.5M49 99h1.5m76.5 0h1.5m33 0h1.5m1.5 0h1.5m31.5 0h1.5m13.5 0h1.5m13.5 0h1.5m15 0h1.5M122.5 101h1.5m25.5 0h1.5m61.5 0h1.5m9 0h1.5M157 103h1.5m34.5 0h1.5m37.5 0h1.5M190 105h1.5m4.5 0h1.5m4.5 0h1.5m12 0h1.5m16.5 0h1.5M77.5 107h1.5m3 0h1.5m58.5 0h1.5m16.5 0h1.5m21 0h1.5m58.5 0h1.5M17.5 109h1.5m30 0h1.5m22.5 0h1.5m94.5 0h1.5m49.5 0h1.5M113.5 111h1.5m52.5 0h1.5m43.5 0h1.5m18 0h1.5M160 113h1.5m13.5 0h1.5m1.5 0h1.5m6 0h1.5m31.5 0h1.5M220 115h1.5m15 0h1.5M239.5 117h1.5M28 119h1.5m163.5 0h1.5m10.5 0h1.5m24 0h1.5M100 121h1.5m99 0h1.5m36 0h1.5m3 0h1.5M170.5 123h1.5m48 0h1.5M196 125h1.5m6 0h3m22.5 0h1.5m7.5 0h1.5m3 0h1.5M83.5 127h1.5m93 0h1.5m18 0h1.5m21 0h1.5m9 0h3m6 0h1.5m7.5 0h1.5M149.5 129h1.5m7.5 0h1.5m60 0h1.5M70 131h1.5m3 0h1.5m108 0h1.5m9 0h1.5m49.5 0h1.5m1.5 0h1.5M161.5 133h1.5m4.5 0h1.5m52.5 0h1.5M106 135h1.5m27 0h1.5m94.5 0h1.5M205 137h1.5m16.5 0h1.5M157 139h1.5m9 0h1.5M97 141h1.5m108 0h3M101.5 143h1.5m3 0h1.5m126 0h1.5m3 0h1.5M149.5 145h1.5m31.5 0h1.5m4.5 0h1.5m9 0h1.5M56.5 147h1.5m82.5 0h1.5m9 0h1.5m13.5 0h1.5m25.5 0h1.5m15 0h1.5M136 149h1.5m79.5 0h1.5m27 0h1.5M107.5 151h1.5m88.5 0h1.5M124 153h1.5m19.5 0h1.5m48 0h1.5m1.5 0h1.5m18 0h1.5M26.5 155h1.5m168 0h1.5m15 0h1.5m31.5 0h1.5M185.5 157h1.5m45 0h1.5M62.5 159h1.5m28.5 0h1.5m120 0h1.5m4.5 0h1.5m16.5 0h1.5M23.5 161h1.5m144 0h1.5m12 0h1.5m4.5 0h1.5m9 0h3m22.5 0h1.5m6 0h1.5m15 0h1.5M143.5 163h1.5m6 0h1.5m52.5 0h1.5m22.5 0h1.5M49 165h1.5m157.5 0h1.5m22.5 0h1.5m9 0h3M187 167h1.5m13.5 0h1.5m19.5 0h1.5m1.5 0h1.5m7.5 0h1.5m1.5 0h1.5M49 169h1.5m69 0h1.5m78 0h1.5m15 0h1.5m7.5 0h1.5m19.5 0h1.5M230.5 171h3M56.5 173h1.5m1.5 0h1.5m66 0h1.5m66 0h1.5m6 0h1.5m12 0h1.5m15 0h1.5m4.5 0h1.5M143.5 175h1.5m81 0h1.5m3 0h1.5M55 177h1.5m129 0h1.5m13.5 0h1.5m4.5 0h1.5M62.5 179h1.5M190 181h1.5m55.5 0h1.5M101.5 183h1.5m45 0h1.5m1.5 0h1.5m43.5 0h1.5m10.5 0h1.5m13.5 0h1.5M88 185h1.5m51 0h1.5m1.5 0h1.5m21 0h1.5m15 0h1.5m39 0h1.5m10.5 0h1.5m4.5 0h1.5M157 187h1.5m18 0h1.5m25.5 0h3m39 0h1.5M139 189h1.5m45 0h1.5m42 0h1.5m13.5 0h1.5M113.5 191h1.5m3 0h1.5m58.5 0h1.5M83.5 193h1.5m43.5 0h1.5m52.5 0h1.5m25.5 0h1.5m4.5 0h1.5m15 0h1.5m1.5 0h1.5M182.5 195h1.5m1.5 0h1.5m61.5 0h1.5M34 197h1.5m103.5 0h1.5m10.5 0h1.5m43.5 0h1.5m25.5 0h1.5m3 0h1.5M106 199h1.5m78 0h1.5m45 0h1.5M17.5 201h3m16.5 0h1.5m1.5 0h1.5m1.5 0h1.5m27 0h1.5M26.5 203h1.5m12 0h1.5m18 0h1.5m9 0h1.5m1.5 0h1.5m3 0h1.5m81 0h1.5M122.5 205h1.5m69 0h1.5M31 207h3m49.5 0h1.5m42 0h1.5M31 209h1.5m21 0h1.5m3 0h1.5m3 0h3m10.5 0h1.5m1.5 0h1.5m27 0h3m49.5 0h1.5M20.5 211h1.5m31.5 0h1.5m19.5 0h1.5m7.5 0h1.5m30 0h1.5m1.5 0h1.5M17.5 213h1.5m61.5 0h1.5m19.5 0h1.5m30 0h1.5m6 0h1.5M28 215h1.5m19.5 0h1.5m24 0h1.5m57 0h1.5M20.5 217h1.5m28.5 0h1.5m54 0h1.5m15 0h1.5m18 0h1.5m72 0h1.5M23.5 219h1.5m12 0h1.5m25.5 0h1.5m33 0h1.5m31.5 0h1.5m28.5 0h1.5M25 221h1.5m43.5 0h1.5m19.5 0h1.5m6 0h1.5M20.5 223h1.5m49.5 0h1.5m21 0h1.5m30 0h1.5m39 0h1.5m12 0h1.5M16 225h1.5m10.5 0h1.5m33 0h1.5m37.5 0h1.5m10.5 0h1.5m45 0h1.5M50.5 227h1.5m4.5 0h1.5m18 0h1.5m25.5 0h1.5m48 0h1.5m63 0h1.5M40 229h1.5m27 0h1.5m33 0h1.5m28.5 0h1.5M31 231h1.5m15 0h1.5m88.5 0h1.5m28.5 0h1.5m9 0h1.5m7.5 0h1.5m31.5 0h1.5M25 233h1.5m16.5 0h1.5m12 0h1.5m3 0h1.5m72 0h1.5m3 0h1.5M80.5 235h1.5m61.5 0h1.5M118 237h1.5M52 239h1.5m9 0h1.5m9 0h1.5m4.5 0h1.5m27 0h1.5m24 0h1.5m4.5 0h1.5m28.5 0h1.5M41.5 241h1.5m1.5 0h1.5m90 0h1.5M80.5 243h1.5m9 0h1.5m70.5 0h1.5m28.5 0h1.5M109 245h1.5m7.5 0h1.5M37 247h1.5m9 0h1.5m9 0h1.5m25.5 0h1.5m7.5 0h1.5m16.5 0h1.5m37.5 0h1.5m10.5 0h1.5M148 249h1.5m3 0h1.5M31 251h1.5m4.5 0h1.5m105 0h1.5m3 0h1.5"/><path stroke="rgb(191, 21, 21)" d="M227.5 63h1.5m16.5 0h1.5M82 65h1.5m24 0h1.5m82.5 0h1.5m3 0h1.5m25.5 0h1.5m10.5 0h1.5M242.5 67h1.5m1.5 0h1.5M61 69h1.5m171 0h1.5m6 0h1.5m3 0h1.5M92.5 71h1.5M95.5 73h1.5m52.5 0h1.5m30 0h1.5m27 0h1.5M142 75h1.5m88.5 0h1.5m13.5 0h1.5M238 77h1.5M149.5 79h1.5m4.5 0h1.5m22.5 0h1.5m60 0h1.5M49 81h1.5m72 0h1.5m30 0h1.5m51 0h1.5m7.5 0h1.5M59.5 83h1.5m112.5 0h1.5m39 0h1.5m6 0h1.5M179.5 85h1.5m12 0h1.5m21 0h1.5m10.5 0h1.5M80.5 87h1.5m79.5 0h1.5m33 0h1.5m34.5 0h1.5m10.5 0h1.5M44.5 89h1.5m15 0h1.5m4.5 0h1.5m172.5 0h1.5M115 91h1.5m93 0h1.5m3 0h3m10.5 0h1.5M148 93h1.5m73.5 0h1.5M62.5 95h1.5m184.5 0h1.5M160 97h1.5m30 0h1.5m22.5 0h1.5M106 99h1.5m114 0h1.5m13.5 0h1.5M88 101h1.5m91.5 0h1.5m31.5 0h1.5M166 103h1.5m30 0h1.5m28.5 0h1.5m6 0h1.5m7.5 0h1.5M52 105h1.5m61.5 0h1.5m43.5 0h1.5m85.5 0h3M152.5 107h1.5m4.5 0h1.5m57 0h1.5M137.5 109h1.5m3 0h1.5m66 0h1.5m3 0h1.5m27 0h1.5M182.5 111h1.5m49.5 0h1.5M128.5 113h1.5m21 0h1.5m28.5 0h1.5m40.5 0h1.5m10.5 0h3m3 0h1.5M148 115h1.5m1.5 0h1.5m25.5 0h1.5m36 0h1.5m15 0h1.5M118 119h1.5m31.5 0h3m54 0h1.5M220 121h1.5M157 123h1.5m7.5 0h1.5m61.5 0h1.5m13.5 0h3M110.5 125h1.5m48 0h1.5m24 0h1.5M241 127h1.5M80.5 129h1.5m57 0h1.5m66 0h1.5m30 0h1.5M148 131h1.5m3 0h1.5m27 0h1.5m4.5 0h1.5m46.5 0h1.5M215.5 133h1.5m16.5 0h1.5M101.5 135h1.5m111 0h1.5m9 0h1.5m6 0h1.5M182.5 137h1.5m3 0h1.5m40.5 0h1.5m10.5 0h1.5M202 139h1.5m21 0h1.5M122.5 141h1.5m97.5 0h1.5M71.5 143h1.5m115.5 0h1.5m16.5 0h1.5m10.5 0h1.5M106 145h1.5m54 0h1.5m55.5 0h1.5m22.5 0h3M71.5 147h1.5m145.5 0h1.5M53.5 149h1.5m108 0h1.5M227.5 151h1.5m1.5 0h1.5M160 153h1.5m19.5 0h1.5m1.5 0h1.5m15 0h1.5m33 0h1.5M143.5 155h1.5m70.5 0h1.5m10.5 0h1.5m18 0h1.5M116.5 157h1.5m21 0h1.5m88.5 0h1.5M110.5 159h1.5m9 0h1.5m18 0h1.5m10.5 0h1.5m51 0h1.5m9 0h1.5m13.5 0h1.5M56.5 161h1.5m12 0h1.5m64.5 0h1.5m3 0h1.5m4.5 0h1.5m4.5 0h1.5m84 0h1.5M23.5 163h1.5m76.5 0h1.5m66 0h1.5m67.5 0h3m4.5 0h1.5M209.5 165h1.5m19.5 0h1.5M149.5 167h1.5m43.5 0h1.5m12 0h1.5M62.5 169h1.5m123 0h1.5m13.5 0h1.5m15 0h1.5m24 0h1.5M34 171h1.5m43.5 0h1.5M188.5 173h1.5m15 0h1.5m28.5 0h1.5m12 0h1.5M29.5 175h1.5m187.5 0h1.5m16.5 0h1.5M46 177h1.5m66 0h1.5m57 0h1.5m9 0h1.5m54 0h1.5M20.5 179h1.5m31.5 0h1.5m15 0h1.5m175.5 0h1.5M184 181h1.5M161.5 185h1.5m6 0h1.5m10.5 0h1.5m39 0h1.5m4.5 0h1.5M59.5 187h1.5m49.5 0h1.5m127.5 0h1.5m6 0h1.5M55 189h1.5m64.5 0h1.5m15 0h1.5m60 0h1.5m15 0h1.5m19.5 0h1.5m9 0h1.5M146.5 191h1.5m9 0h1.5m64.5 0h1.5m16.5 0h1.5M176.5 195h1.5m21 0h1.5m1.5 0h1.5m19.5 0h1.5M43 197h1.5m15 0h1.5m72 0h1.5m84 0h1.5m28.5 0h1.5M59.5 199h1.5m111 0h1.5m4.5 0h1.5m27 0h1.5m7.5 0h1.5m1.5 0h1.5m15 0h3M41.5 201h1.5m9 0h1.5m76.5 0h1.5m6 0h1.5m18 0h1.5m4.5 0h1.5M52 203h1.5m10.5 0h1.5m46.5 0h1.5M89.5 205h3m6 0h1.5M19 207h1.5m70.5 0h1.5m6 0h1.5m15 0h1.5m1.5 0h1.5m3 0h1.5M28 209h1.5m3 0h1.5m46.5 0h1.5M38.5 211h1.5m4.5 0h1.5m24 0h1.5m22.5 0h1.5m24 0h1.5m39 0h1.5M56.5 213h1.5m81 0h1.5m37.5 0h1.5M25 215h1.5m13.5 0h1.5m78 0h1.5m34.5 0h1.5M34 217h1.5m12 0h1.5m4.5 0h1.5m30 0h1.5m22.5 0h1.5m9 0h1.5m28.5 0h1.5M43 221h1.5m3 0h1.5m84 0h1.5m30 0h1.5M92.5 223h1.5m1.5 0h1.5m105 0h1.5m1.5 0h1.5M68.5 225h1.5m30 0h1.5m18 0h1.5m10.5 0h1.5m4.5 0h1.5M17.5 227h1.5m61.5 0h1.5m10.5 0h1.5M80.5 229h1.5m16.5 0h1.5m13.5 0h1.5m16.5 0h1.5m12 0h1.5m16.5 0h1.5m31.5 0h1.5M53.5 231h1.5M28 233h1.5m24 0h1.5m166.5 0h1.5M22 235h1.5m19.5 0h1.5m7.5 0h1.5m3 0h1.5m24 0h1.5m42 0h1.5M17.5 239h1.5m9 0h1.5m52.5 0h1.5M34 241h1.5m27 0h1.5m18 0h1.5m48 0h1.5m4.5 0h1.5m33 0h1.5m15 0h1.5M31 243h1.5M32.5 245h1.5m90 0h1.5M71.5 247h1.5m3 0h1.5m46.5 0h1.5m4.5 0h1.5M62.5 249h1.5m10.5 0h1.5m9 0h1.5"/><path stroke="rgb(212, 21, 21)" d="M65.5 63h1.5m76.5 0h1.5m69 0h1.5m6 0h1.5M178 65h1.5m54 0h1.5m4.5 0h1.5m1.5 0h1.5M107.5 67h1.5m91.5 0h1.5M65.5 69h1.5m42 0h1.5m6 0h1.5m42 0h1.5m60 0h1.5M85 71h1.5m126 0h1.5m4.5 0h1.5m15 0h1.5M32.5 73h1.5m85.5 0h1.5m21 0h1.5m36 0h1.5M155.5 75h1.5m24 0h1.5M208 77h1.5M125.5 79h1.5m97.5 0h1.5M155.5 81h1.5m76.5 0h1.5M122.5 83h1.5m28.5 0h1.5m1.5 0h1.5m36 0h1.5M64 85h1.5m27 0h1.5m114 0h1.5m16.5 0h1.5M164.5 87h1.5m28.5 0h1.5m18 0h3m31.5 0h1.5M110.5 89h1.5m106.5 0h1.5M17.5 91h1.5m117 0h1.5m106.5 0h1.5M157 93h1.5M131.5 95h1.5M157 97h1.5m12 0h1.5m16.5 0h1.5M233.5 99h3m1.5 0h1.5M118 101h1.5m46.5 0h1.5m60 0h1.5m1.5 0h1.5M58 103h1.5m58.5 0h1.5m24 0h1.5m10.5 0h1.5m90 0h1.5M182.5 105h1.5m22.5 0h1.5m22.5 0h1.5M118 107h1.5m31.5 0h1.5m16.5 0h1.5m40.5 0h1.5m10.5 0h1.5M155.5 109h1.5m37.5 0h1.5m3 0h1.5m43.5 0h1.5M245.5 111h1.5M64 113h1.5m19.5 0h1.5m108 0h1.5m48 0h1.5m3 0h1.5M143.5 115h1.5m21 0h1.5m7.5 0h1.5m52.5 0h1.5m13.5 0h1.5M200.5 117h1.5m10.5 0h1.5m3 0h1.5m6 0h1.5m1.5 0h1.5m4.5 0h1.5M218.5 119h1.5m6 0h1.5m19.5 0h1.5M182.5 123h1.5M100 127h1.5m115.5 0h1.5M232 129h1.5M95.5 131h1.5m109.5 0h1.5M34 133h1.5m124.5 0h1.5m45 0h1.5m19.5 0h1.5M37 135h1.5M137.5 137h1.5m67.5 0h1.5m3 0h1.5m4.5 0h1.5M130 139h1.5m115.5 0h1.5M70 141h1.5m37.5 0h1.5m43.5 0h1.5m7.5 0h1.5m3 0h1.5m43.5 0h1.5m18 0h1.5M47.5 143h1.5m160.5 0h1.5M59.5 145h1.5m10.5 0h1.5m91.5 0h1.5m34.5 0h1.5M86.5 147h1.5m118.5 0h1.5m13.5 0h1.5M173.5 149h1.5m21 0h1.5m28.5 0h1.5m9 0h1.5m6 0h1.5M224.5 151h1.5m21 0h1.5M146.5 153h1.5m18 0h1.5m57 0h1.5m6 0h1.5M212.5 157h1.5m28.5 0h1.5M113.5 159h1.5m36 0h1.5m90 0h1.5M104.5 161h1.5m105 0h1.5m4.5 0h1.5m15 0h1.5M28 163h1.5m178.5 0h1.5m12 0h1.5M85 165h1.5m1.5 0h1.5m60 0h1.5m51 0h1.5m3 0h1.5m39 0h1.5M107.5 167h1.5m82.5 0h1.5m48 0h1.5M70 169h1.5m67.5 0h1.5m82.5 0h1.5M164.5 171h1.5m4.5 0h1.5m46.5 0h1.5M92.5 173h1.5m24 0h1.5m1.5 0h1.5m64.5 0h1.5m25.5 0h1.5m4.5 0h1.5M92.5 175h1.5m91.5 0h3m22.5 0h1.5M232 177h1.5M37 179h1.5m102 0h1.5m36 0h1.5M113.5 181h1.5m10.5 0h1.5m46.5 0h1.5M191.5 183h1.5m18 0h1.5M152.5 185h1.5m49.5 0h1.5m7.5 0h1.5m19.5 0h1.5m1.5 0h1.5M154 187h1.5m6 0h1.5m70.5 0h1.5M145 189h1.5m91.5 0h1.5M79 191h1.5m135 0h1.5m3 0h1.5m12 0h1.5m12 0h1.5M218.5 193h1.5m25.5 0h1.5M193 197h1.5m12 0h1.5m7.5 0h1.5m7.5 0h1.5M161.5 199h1.5m78 0h1.5m6 0h1.5M50.5 201h1.5m46.5 0h1.5M22 203h1.5m100.5 0h1.5m3 0h1.5m55.5 0h1.5M35.5 207h1.5m82.5 0h1.5m13.5 0h1.5M20.5 209h1.5m1.5 0h1.5m4.5 0h1.5m7.5 0h1.5m82.5 0h1.5M50.5 211h1.5m109.5 0h1.5M91 213h1.5m13.5 0h1.5m96 0h1.5M23.5 215h1.5m33 0h1.5m4.5 0h1.5m16.5 0h1.5m3 0h1.5m12 0h1.5m48 0h1.5m1.5 0h1.5M16 217h1.5m103.5 0h1.5m43.5 0h1.5M16 221h1.5M59.5 223h1.5M19 225h1.5m10.5 0h1.5m39 0h3m10.5 0h1.5m55.5 0h1.5m7.5 0h1.5M28 227h1.5m6 0h1.5m24 0h1.5m81 0h1.5M71.5 229h1.5m3 0h1.5m33 0h1.5M38.5 231h1.5m19.5 0h1.5M47.5 233h1.5m22.5 0h1.5m40.5 0h1.5M148 237h1.5M20.5 239h1.5m28.5 0h1.5m42 0h1.5m4.5 0h1.5m24 0h1.5m7.5 0h1.5m16.5 0h1.5M35.5 241h1.5m1.5 0h1.5m55.5 0h1.5M32.5 243h1.5m40.5 0h1.5M91 245h1.5M172 247h1.5m9 0h1.5M101.5 249h1.5m36 0h1.5M56.5 251h1.5m13.5 0h1.5m25.5 0h1.5m21 0h1.5m16.5 0h1.5"/><path stroke="rgb(233, 21, 21)" d="M119.5 63h1.5m9 0h1.5m15 0h1.5m1.5 0h1.5m6 0h1.5m6 0h1.5m34.5 0h1.5m4.5 0h1.5m3 0h1.5m7.5 0h1.5m1.5 0h1.5m1.5 0h1.5m1.5 0h1.5m1.5 0h3m4.5 0h1.5m6 0h3M92.5 65h1.5m45 0h1.5m9 0h1.5m6 0h1.5m42 0h1.5m12 0h1.5m3 0h1.5m9 0h1.5m10.5 0h1.5m1.5 0h4.5M70 67h1.5m88.5 0h1.5m52.5 0h1.5m1.5 0h1.5m1.5 0h1.5m1.5 0h3m6 0h1.5m3 0h1.5m3 0h1.5M20.5 69h1.5m16.5 0h1.5m33 0h1.5m21 0h1.5m30 0h1.5m36 0h1.5m15 0h1.5m1.5 0h1.5m24 0h1.5m9 0h1.5m7.5 0h1.5m12 0h3m1.5 0h1.5M38.5 71h1.5m19.5 0h1.5m76.5 0h1.5m24 0h1.5m19.5 0h1.5m3 0h1.5m25.5 0h1.5m3 0h1.5m1.5 0h1.5m3 0h1.5m3 0h1.5m3 0h1.5m1.5 0h1.5m1.5 0h4.5M166 73h1.5m19.5 0h1.5m10.5 0h1.5m6 0h1.5m7.5 0h1.5m10.5 0h1.5m9 0h1.5m3 0h1.5M80.5 75h1.5m55.5 0h1.5m4.5 0h1.5m13.5 0h1.5m3 0h1.5m1.5 0h1.5m12 0h1.5m6 0h1.5m6 0h1.5m9 0h1.5m10.5 0h4.5m1.5 0h1.5m1.5 0h3m4.5 0h4.5m4.5 0h4.5M217 77h1.5m9 0h1.5M137.5 79h1.5m36 0h1.5m24 0h1.5m4.5 0h1.5m3 0h1.5m3 0h1.5m3 0h1.5m1.5 0h1.5m3 0h1.5m1.5 0h3m1.5 0h4.5m3 0h7.5M109 81h1.5m28.5 0h1.5m51 0h1.5m25.5 0h1.5m4.5 0h6m4.5 0h6m1.5 0h1.5m1.5 0h3M133 83h1.5m4.5 0h1.5m4.5 0h1.5m3 0h1.5m3 0h1.5m39 0h3m10.5 0h1.5m6 0h1.5m1.5 0h3m7.5 0h1.5m4.5 0h1.5m3 0h3m3 0h3M37 85h1.5m100.5 0h1.5m18 0h1.5m46.5 0h1.5m9 0h1.5m16.5 0h9m1.5 0h1.5M86.5 87h1.5m19.5 0h1.5m43.5 0h1.5m48 0h1.5m4.5 0h3m1.5 0h1.5m6 0h1.5m6 0h1.5m1.5 0h1.5m3 0h6M38.5 89h1.5m51 0h1.5m13.5 0h1.5m33 0h1.5m7.5 0h1.5m43.5 0h1.5m25.5 0h1.5m9 0h1.5m1.5 0h1.5m3 0h1.5m6 0h1.5M70 91h1.5m90 0h1.5m34.5 0h1.5m4.5 0h1.5m7.5 0h1.5m4.5 0h3m7.5 0h1.5m1.5 0h4.5m3 0h3m4.5 0h1.5M62.5 93h1.5m142.5 0h1.5m6 0h1.5m4.5 0h1.5m16.5 0h3m6 0h1.5M80.5 95h1.5m28.5 0h1.5m36 0h1.5m3 0h1.5m7.5 0h1.5m4.5 0h1.5m15 0h3m22.5 0h1.5m1.5 0h1.5m6 0h1.5m4.5 0h1.5m1.5 0h4.5m1.5 0h3m6 0h1.5m1.5 0h1.5M100 97h1.5m42 0h1.5m24 0h1.5m22.5 0h1.5m3 0h1.5m15 0h1.5m3 0h4.5m1.5 0h1.5m1.5 0h3m1.5 0h1.5m1.5 0h1.5m1.5 0h7.5m1.5 0h3M40 99h1.5m73.5 0h1.5m3 0h1.5m10.5 0h1.5m4.5 0h1.5m7.5 0h1.5m9 0h1.5m4.5 0h1.5m1.5 0h1.5m1.5 0h1.5m39 0h1.5m3 0h1.5m3 0h3m3 0h3m1.5 0h3m10.5 0h1.5m3 0h1.5M100 101h1.5m27 0h1.5m61.5 0h1.5m1.5 0h1.5m6 0h1.5m15 0h1.5m6 0h1.5m1.5 0h1.5m4.5 0h3m1.5 0h3m1.5 0h3M88 103h1.5m22.5 0h1.5m45 0h1.5m4.5 0h1.5m7.5 0h1.5m7.5 0h1.5m7.5 0h1.5m1.5 0h1.5m19.5 0h1.5m16.5 0h1.5m1.5 0h1.5m3 0h1.5m6 0h1.5M55 105h1.5m54 0h1.5m22.5 0h1.5m6 0h1.5m19.5 0h1.5m1.5 0h1.5m19.5 0h1.5m6 0h1.5m1.5 0h1.5m21 0h1.5m1.5 0h4.5m13.5 0h1.5M100 107h1.5m84 0h1.5m7.5 0h1.5m12 0h3m13.5 0h1.5m1.5 0h3m1.5 0h10.5m1.5 0h1.5m3 0h1.5M106 109h1.5m40.5 0h1.5m1.5 0h1.5m1.5 0h1.5m27 0h1.5m12 0h1.5m27 0h3m1.5 0h1.5m7.5 0h1.5m1.5 0h1.5m3 0h1.5m1.5 0h1.5M188.5 111h1.5m54 0h1.5m1.5 0h1.5M148 113h1.5m6 0h1.5m12 0h1.5m12 0h1.5m7.5 0h1.5m27 0h1.5m4.5 0h3m16.5 0h1.5M125.5 115h1.5m55.5 0h1.5m6 0h1.5m16.5 0h1.5m13.5 0h1.5m1.5 0h3m6 0h1.5m1.5 0h1.5m1.5 0h1.5m4.5 0h3M118 117h1.5m6 0h1.5m7.5 0h1.5m30 0h1.5m15 0h1.5m22.5 0h3m6 0h1.5m1.5 0h1.5m1.5 0h3m1.5 0h1.5m1.5 0h4.5m1.5 0h4.5m1.5 0h3m1.5 0h4.5M176.5 119h3m3 0h1.5m16.5 0h1.5m10.5 0h1.5m7.5 0h1.5m1.5 0h1.5m9 0h1.5m1.5 0h1.5m9 0h1.5M118 121h1.5m28.5 0h1.5m61.5 0h1.5m9 0h1.5m18 0h1.5m4.5 0h3M208 123h1.5m1.5 0h1.5m3 0h1.5m9 0h1.5m10.5 0h1.5m7.5 0h1.5M137.5 125h1.5m43.5 0h1.5m9 0h1.5m16.5 0h3m4.5 0h1.5m12 0h1.5m3 0h1.5m3 0h1.5m3 0h4.5M62.5 127h1.5m73.5 0h1.5m22.5 0h1.5m19.5 0h1.5m21 0h1.5m12 0h1.5m6 0h1.5m7.5 0h1.5M155.5 129h1.5m27 0h1.5m7.5 0h1.5m21 0h1.5m31.5 0h1.5M140.5 131h1.5m37.5 0h1.5m12 0h1.5m7.5 0h1.5m6 0h1.5m4.5 0h1.5m1.5 0h3m10.5 0h1.5m13.5 0h1.5M133 133h1.5m49.5 0h1.5m12 0h1.5m10.5 0h1.5m9 0h1.5m3 0h3m1.5 0h1.5m4.5 0h4.5m1.5 0h4.5m1.5 0h3M95.5 135h1.5m54 0h1.5m18 0h1.5m15 0h1.5m19.5 0h1.5m9 0h3m1.5 0h1.5m1.5 0h1.5m6 0h3m1.5 0h1.5m1.5 0h1.5m6 0h1.5M121 137h1.5m42 0h1.5m4.5 0h1.5m37.5 0h1.5m13.5 0h1.5m7.5 0h1.5m1.5 0h3m6 0h1.5M89.5 139h1.5m30 0h1.5m21 0h1.5m27 0h1.5m3 0h1.5m3 0h1.5m4.5 0h1.5m18 0h1.5m10.5 0h4.5m3 0h1.5m3 0h7.5m3 0h1.5m3 0h1.5m1.5 0h1.5M176.5 141h1.5m3 0h1.5m6 0h3m9 0h1.5m13.5 0h6m4.5 0h3m1.5 0h1.5m1.5 0h6m3 0h6M29.5 143h1.5m18 0h1.5m18 0h1.5m82.5 0h1.5m42 0h1.5m30 0h1.5m13.5 0h1.5m1.5 0h1.5M37 145h1.5m63 0h1.5m40.5 0h1.5m48 0h1.5m1.5 0h1.5m9 0h1.5m1.5 0h1.5m6 0h1.5m1.5 0h1.5m6 0h1.5m4.5 0h1.5m1.5 0h1.5m3 0h1.5m6 0h1.5M89.5 147h1.5m37.5 0h1.5m58.5 0h1.5m9 0h1.5m33 0h1.5m9 0h3m1.5 0h1.5M157 149h1.5m27 0h1.5m3 0h1.5m28.5 0h1.5m3 0h1.5m7.5 0h1.5M187 151h1.5m12 0h1.5m3 0h1.5m10.5 0h1.5m30 0h1.5M85 153h1.5m136.5 0h1.5m3 0h4.5m1.5 0h1.5m1.5 0h3m3 0h1.5m1.5 0h4.5M224.5 155h1.5m4.5 0h1.5M125.5 157h1.5m30 0h1.5m42 0h1.5m25.5 0h1.5m6 0h1.5m9 0h1.5M212.5 159h1.5m15 0h1.5m3 0h1.5m1.5 0h1.5M118 161h1.5m18 0h1.5m24 0h1.5m22.5 0h1.5m16.5 0h1.5m22.5 0h1.5m10.5 0h3M40 163h1.5m54 0h1.5m75 0h1.5m28.5 0h1.5m3 0h1.5m10.5 0h1.5m13.5 0h1.5m1.5 0h1.5m6 0h1.5m1.5 0h3M187 165h1.5m1.5 0h1.5m3 0h1.5m22.5 0h1.5m9 0h1.5m3 0h1.5m6 0h1.5m6 0h1.5M70 167h1.5m148.5 0h1.5m6 0h4.5m1.5 0h1.5m9 0h1.5m1.5 0h1.5M170.5 169h1.5m57 0h1.5m1.5 0h1.5m6 0h1.5m6 0h1.5M71.5 171h1.5m45 0h1.5m1.5 0h1.5m4.5 0h1.5m13.5 0h1.5m46.5 0h1.5m33 0h1.5m3 0h1.5m3 0h1.5m1.5 0h1.5m1.5 0h1.5M34 173h1.5m54 0h1.5m12 0h1.5m1.5 0h1.5m66 0h1.5m31.5 0h1.5m3 0h1.5m6 0h1.5m7.5 0h1.5m7.5 0h1.5m1.5 0h1.5m3 0h1.5m1.5 0h1.5M98.5 175h1.5m21 0h1.5m12 0h1.5m3 0h1.5m39 0h1.5m3 0h1.5m22.5 0h1.5m18 0h1.5m10.5 0h1.5M128.5 177h1.5m4.5 0h1.5m82.5 0h1.5m6 0h1.5m1.5 0h1.5m3 0h1.5m6 0h1.5m4.5 0h1.5M50.5 179h1.5m94.5 0h3m24 0h1.5m6 0h1.5m36 0h1.5m4.5 0h3m1.5 0h1.5m3 0h1.5m1.5 0h3m6 0h1.5M245.5 181h1.5M139 183h1.5m40.5 0h1.5m16.5 0h3m12 0h3m3 0h1.5m4.5 0h1.5m1.5 0h3m3 0h1.5m3 0h1.5M70 185h1.5m22.5 0h1.5m6 0h1.5m10.5 0h1.5m15 0h1.5m6 0h1.5m3 0h1.5m30 0h1.5m21 0h1.5m3 0h1.5M79 187h1.5m58.5 0h1.5m34.5 0h1.5m6 0h1.5m12 0h1.5m12 0h1.5m21 0h1.5m1.5 0h1.5m1.5 0h1.5m9 0h1.5M37 189h1.5m118.5 0h1.5m15 0h3m16.5 0h1.5m13.5 0h1.5m13.5 0h1.5m7.5 0h4.5m4.5 0h1.5M182.5 191h1.5m9 0h1.5m1.5 0h1.5m1.5 0h1.5m12 0h1.5m7.5 0h1.5m6 0h1.5m1.5 0h1.5m4.5 0h3m7.5 0h1.5M136 193h1.5m13.5 0h1.5m46.5 0h1.5m7.5 0h1.5m10.5 0h1.5m1.5 0h1.5m1.5 0h1.5m13.5 0h1.5M67 195h1.5m16.5 0h1.5m154.5 0h1.5M128.5 197h1.5m28.5 0h4.5m7.5 0h1.5m12 0h3m1.5 0h3m16.5 0h1.5m3 0h3m10.5 0h1.5m1.5 0h1.5m6 0h1.5m3 0h1.5M125.5 199h1.5m4.5 0h3m22.5 0h1.5m1.5 0h1.5m28.5 0h1.5m4.5 0h1.5m16.5 0h1.5m10.5 0h1.5m1.5 0h1.5m16.5 0h1.5M20.5 201h1.5m13.5 0h1.5m12 0h1.5m90 0h1.5m73.5 0h1.5M20.5 203h1.5m1.5 0h1.5m3 0h1.5m3 0h1.5m1.5 0h1.5m6 0h1.5m6 0h1.5m4.5 0h1.5m36 0h1.5m3 0h1.5m16.5 0h1.5m7.5 0h3m1.5 0h1.5m12 0h1.5m9 0h1.5M28 207h3m16.5 0h1.5m24 0h1.5m3 0h1.5m7.5 0h1.5m1.5 0h1.5m3 0h1.5m10.5 0h1.5m4.5 0h1.5m12 0h1.5M19 209h1.5m4.5 0h1.5m7.5 0h1.5m1.5 0h1.5m4.5 0h1.5m1.5 0h1.5m19.5 0h1.5m9 0h1.5m9 0h1.5m4.5 0h3m3 0h1.5m13.5 0h1.5m7.5 0h1.5m7.5 0h1.5m9 0h3m3 0h3M17.5 211h3m4.5 0h3m1.5 0h1.5m6 0h1.5m4.5 0h1.5m7.5 0h1.5m3 0h1.5m9 0h3m1.5 0h1.5m4.5 0h1.5m9 0h4.5m3 0h1.5m12 0h1.5m6 0h1.5m3 0h3m3 0h1.5m7.5 0h1.5m1.5 0h1.5m3 0h1.5m7.5 0h1.5m10.5 0h1.5M19 213h3m3 0h1.5m12 0h1.5m49.5 0h1.5m18 0h1.5m15 0h1.5m16.5 0h1.5M20.5 215h1.5m4.5 0h1.5m13.5 0h3m28.5 0h1.5m15 0h1.5m3 0h3m1.5 0h1.5m18 0h1.5m3 0h1.5m16.5 0h1.5M26.5 217h1.5m13.5 0h1.5m19.5 0h1.5m30 0h1.5m1.5 0h1.5m6 0h1.5m1.5 0h1.5m1.5 0h1.5m6 0h1.5m7.5 0h1.5m6 0h1.5m10.5 0h1.5M20.5 219h1.5m3 0h3m13.5 0h1.5m7.5 0h1.5m4.5 0h1.5m15 0h1.5m9 0h1.5m9 0h1.5m4.5 0h1.5m13.5 0h1.5M20.5 221h1.5m4.5 0h1.5m13.5 0h1.5m15 0h1.5m55.5 0h1.5m7.5 0h1.5m34.5 0h1.5m21 0h1.5M25 223h3m42 0h1.5m3 0h1.5m6 0h1.5m1.5 0h1.5m12 0h3m10.5 0h1.5m4.5 0h1.5m33 0h1.5m9 0h1.5M35.5 225h1.5m1.5 0h1.5m3 0h3m3 0h3m4.5 0h4.5m9 0h1.5m19.5 0h1.5m10.5 0h1.5m1.5 0h3m6 0h1.5m16.5 0h1.5m9 0h1.5m16.5 0h3M19 227h3m4.5 0h1.5m9 0h1.5m3 0h1.5m16.5 0h1.5m12 0h1.5m10.5 0h3m30 0h3m10.5 0h1.5m52.5 0h1.5M16 229h1.5m3 0h1.5m25.5 0h1.5m1.5 0h1.5m7.5 0h1.5m12 0h1.5m64.5 0h1.5m12 0h1.5M26.5 231h1.5m9 0h1.5m12 0h1.5m12 0h1.5m6 0h1.5m6 0h3m40.5 0h1.5m16.5 0h1.5m3 0h3m4.5 0h1.5M26.5 233h1.5m10.5 0h1.5m24 0h1.5m7.5 0h1.5m4.5 0h1.5m3 0h1.5m55.5 0h1.5m6 0h1.5m6 0h1.5M35.5 235h1.5m1.5 0h1.5m1.5 0h1.5m6 0h1.5m22.5 0h1.5m28.5 0h1.5m28.5 0h1.5m3 0h1.5m3 0h1.5M37 237h1.5m10.5 0h1.5m3 0h1.5m1.5 0h1.5m13.5 0h1.5m22.5 0h1.5m18 0h1.5m9 0h1.5m10.5 0h1.5m27 0h1.5M31 239h3m15 0h1.5m9 0h1.5m27 0h1.5m24 0h1.5m22.5 0h1.5M17.5 241h1.5m7.5 0h1.5m4.5 0h1.5m3 0h1.5m12 0h1.5m16.5 0h1.5m18 0h1.5m10.5 0h1.5m1.5 0h1.5m3 0h1.5m4.5 0h1.5m1.5 0h1.5m10.5 0h1.5m12 0h1.5M19 243h1.5m36 0h1.5m34.5 0h3m4.5 0h1.5m22.5 0h1.5m25.5 0h1.5m1.5 0h1.5M16 245h4.5m27 0h1.5m1.5 0h1.5m78 0h1.5m24 0h1.5m1.5 0h1.5m3 0h1.5M55 247h1.5m3 0h1.5m21 0h1.5m18 0h1.5m10.5 0h1.5m4.5 0h1.5m1.5 0h1.5m4.5 0h1.5m3 0h1.5M19 249h1.5m16.5 0h1.5m9 0h1.5m6 0h3m10.5 0h1.5m30 0h1.5m7.5 0h1.5m7.5 0h1.5m9 0h3m51 0h1.5M19 251h1.5m22.5 0h1.5m10.5 0h1.5m25.5 0h1.5m67.5 0h1.5"/></g>
<path d="M308.40 195.9V184.46H312.21V195.9M312.21 195.9V184.46H316.01V195.9M316.01 195.9V173.02H319.82V195.9M319.82 195.9V167.30H323.63V195.9M323.63 195.9V178.74H327.44V195.9M327.44 195.9V110.10H331.24V195.9M331.24 195.9V70.06H335.05V195.9M335.05 195.9V92.94H338.86V195.9M338.86 195.9V41.46H342.66V195.9M342.66 195.9V81.50H346.47V195.9M346.47 195.9V30.02H350.28V195.9M350.28 195.9V58.62H354.08V195.9M354.08 195.9V35.74H357.89V195.9M357.89 195.9V47.18H361.70V195.9M361.70 195.9V110.10H365.50V195.9M365.50 195.9V127.26H369.31V195.9M369.31 195.9V110.10H373.12V195.9M373.12 195.9V132.98H376.93V195.9M376.93 195.9V110.10H380.73V195.9M380.73 195.9V138.70H384.54V195.9M384.54 195.9V173.02H388.35V195.9M388.35 195.9V173.02H392.15V195.9M392.15 195.9V184.46H395.96V195.9M395.96 195.9V161.58H399.77V195.9M399.77 195.9V150.14H403.57V195.9M403.57 195.9V155.86H407.38V195.9M407.38 195.9V173.02H411.19V195.9M411.19 195.9V178.74H415.00V195.9M415.00 195.9V178.74H418.80V195.9M418.80 195.9V184.46H422.61V195.9M422.61 195.9V195.90H426.42V195.9M426.42 195.9V190.18H430.22V195.9M430.22 195.9V195.90H434.03V195.9M434.03 195.9V190.18H437.84V195.9M437.84 195.9V190.18H441.64V195.9M441.64 195.9V195.90H445.45V195.9M445.45 195.9V195.90H449.26V195.9M449.26 195.9V195.90H453.07V195.9M453.07 195.9V190.18H456.87V195.9M456.87 195.9V195.90H460.68V195.9M460.68 195.9V190.18H464.49V195.9M308.40 195.9H464.49" fill="none" stroke="#707070" stroke-width="0.85"/>
<path d="M302.2 195.9V24.3M297.3 195.9H302.2M297.3 167.3H302.2M297.3 138.7H302.2M297.3 110.1H302.2M297.3 81.5H302.2M297.3 52.9H302.2M297.3 24.3H302.2" stroke="#707070" stroke-width="0.9" fill="none"/>
<text transform="translate(294.30 195.90) rotate(-90) scale(1.17 1)" font-size="7.5" text-anchor="middle" fill="#111">0</text>
<text transform="translate(294.30 167.30) rotate(-90) scale(1.17 1)" font-size="7.5" text-anchor="middle" fill="#111">5</text>
<text transform="translate(294.30 138.70) rotate(-90) scale(1.17 1)" font-size="7.5" text-anchor="middle" fill="#111">10</text>
<text transform="translate(294.30 110.10) rotate(-90) scale(1.17 1)" font-size="7.5" text-anchor="middle" fill="#111">15</text>
<text transform="translate(294.30 81.50) rotate(-90) scale(1.17 1)" font-size="7.5" text-anchor="middle" fill="#111">20</text>
<text transform="translate(294.30 52.90) rotate(-90) scale(1.17 1)" font-size="7.5" text-anchor="middle" fill="#111">25</text>
<text transform="translate(294.30 24.30) rotate(-90) scale(1.17 1)" font-size="7.5" text-anchor="middle" fill="#111">30</text>
<text transform="translate(276.6 109.3) rotate(-90)" font-size="9.5" text-anchor="middle" fill="#111" textLength="45" lengthAdjust="spacingAndGlyphs">Frequency</text>
<path d="M323.6 203.2H437.3M323.6 203.2V207.6M361.4 203.2V207.6M399.3 203.2V207.6M437.3 203.2V207.6" stroke="#707070" stroke-width="0.9" fill="none"/>
<text transform="translate(322.80 223.70) scale(1.17 1)" font-size="7.5" text-anchor="middle" fill="#111">-1</text>
<text transform="translate(361.40 223.70) scale(1.17 1)" font-size="7.5" text-anchor="middle" fill="#111">0</text>
<text transform="translate(399.30 223.70) scale(1.17 1)" font-size="7.5" text-anchor="middle" fill="#111">1</text>
<text transform="translate(437.30 223.70) scale(1.17 1)" font-size="7.5" text-anchor="middle" fill="#111">2</text>
<path d="M387.7 17.7V196" stroke="#333" stroke-width="1.1"/>
<path d="M40.8 459.2V286.1M36.199999999999996 459.2H40.8M36.199999999999996 424.6H40.8M36.199999999999996 390.0H40.8M36.199999999999996 355.3H40.8M36.199999999999996 320.7H40.8M36.199999999999996 286.1H40.8M40.5 462.6H240.7M40.5 462.6V466.6M69.1 462.6V466.6M97.7 462.6V466.6M126.3 462.6V466.6M154.9 462.6V466.6M183.5 462.6V466.6M212.1 462.6V466.6M240.7 462.6V466.6" stroke="#6a6a6a" stroke-width="0.9" fill="none"/>
<text transform="translate(33.90 462.40) scale(1.17 1)" font-size="7.5" text-anchor="end" fill="#111">0</text>
<text transform="translate(33.90 427.78) scale(1.17 1)" font-size="7.5" text-anchor="end" fill="#111">0.2</text>
<text transform="translate(33.90 393.16) scale(1.17 1)" font-size="7.5" text-anchor="end" fill="#111">0.4</text>
<text transform="translate(33.90 358.54) scale(1.17 1)" font-size="7.5" text-anchor="end" fill="#111">0.6</text>
<text transform="translate(33.90 323.92) scale(1.17 1)" font-size="7.5" text-anchor="end" fill="#111">0.8</text>
<text transform="translate(33.90 289.30) scale(1.17 1)" font-size="7.5" text-anchor="end" fill="#111">1.0</text>
<text transform="translate(40.50 480.90) scale(1.17 1)" font-size="7.5" text-anchor="middle" fill="#111">0</text>
<text transform="translate(69.10 480.90) scale(1.17 1)" font-size="7.5" text-anchor="middle" fill="#111">10</text>
<text transform="translate(97.70 480.90) scale(1.17 1)" font-size="7.5" text-anchor="middle" fill="#111">20</text>
<text transform="translate(126.30 480.90) scale(1.17 1)" font-size="7.5" text-anchor="middle" fill="#111">30</text>
<text transform="translate(154.90 480.90) scale(1.17 1)" font-size="7.5" text-anchor="middle" fill="#111">40</text>
<text transform="translate(183.50 480.90) scale(1.17 1)" font-size="7.5" text-anchor="middle" fill="#111">50</text>
<text transform="translate(212.10 480.90) scale(1.17 1)" font-size="7.5" text-anchor="middle" fill="#111">60</text>
<text transform="translate(240.70 480.90) scale(1.17 1)" font-size="7.5" text-anchor="middle" fill="#111">70</text>
<text transform="translate(8.2 375.9) rotate(-90)" font-size="8.6" text-anchor="middle" fill="#111" textLength="76.5" lengthAdjust="spacingAndGlyphs">Proportion of Cases</text>
<polyline points="40.8,286.2 41.5,286.5 44.4,288 47.3,290 50,291.3 57.3,293.6 65,297 70.1,299.5 76,301.5 83,303.8 92.6,307 96,309 99,311.5 105.5,315.5 110,318 113.5,319.2 119.6,320.1 126.1,322.3 134.1,324.8 138.9,329.5 143.7,332.9 148.6,337.5 156.6,342.5 163,347.2 172.7,353 180.7,357.5 188,361.5 196.1,364 204.1,367 207.5,370.5 210,371.2 253.1,371.2" fill="none" stroke="rgb(122,200,58)" stroke-width="2"/>
<path d="M112.0 316.4v4.6M115.7 317.2v4.6M119.8 317.9v4.6M125.1 319.7v4.6M128.9 320.9v4.6M132.8 322.1v4.6M137.0 325.3v4.6M139.9 327.9v4.6M143.8 330.7v4.6M148.1 334.8v4.6M153.0 337.9v4.6M155.6 339.6v4.6M158.8 341.8v4.6M161.4 343.8v4.6M166.3 346.9v4.6M170.8 349.6v4.6M173.3 351.0v4.6M178.7 354.1v4.6M184.1 357.1v4.6M188.5 359.4v4.6M192.8 360.7v4.6M195.6 361.5v4.6M197.9 362.4v4.6M201.9 363.9v4.6M204.4 365.0v4.6M207.3 368.0v4.6M210.4 368.9v4.6M212.8 368.9v4.6M216.6 368.9v4.6M220.3 368.9v4.6M225.3 368.9v4.6M229.2 368.9v4.6M233.6 368.9v4.6M237.5 368.9v4.6M241.9 368.9v4.6M245.7 368.9v4.6M248.9 368.9v4.6" stroke="rgb(120,190,60)" stroke-width="0.8"/>
<path d="M40.8 286.2V293.5H44V297.3H46.2V301.2H55.3V306.5H56.8V312.1H62.1V317.5H63.2V323.4H67.7V329H69.5V335H70.5V341.5H71.5V347.5H72.5V354H76.6V358.7H78.5V361.5H80.8V365H82.5V368.3H89.2V374H90V379H92.6V383.4H95V387.8H97.3V392.3H100V395.8H102V399.5H104V403H106V406.9H122.4V410H124.5V413.3H146V418.7H152.4V424H154.5V431.2H188.5" fill="none" stroke="#c8182e" stroke-width="2.2"/>
<path d="M130 411v4.6M136 411v4.6M139 411v4.6M175.6 429v4.6M188 429v4.6" stroke="#c8182e" stroke-width="0.8"/>
<path d="M45.3 446.5H54.8" stroke="rgb(122,200,58)" stroke-width="2"/><path d="M45.3 455.8H54.8" stroke="#c8182e" stroke-width="2"/>
<path d="M308.2 459.5V287.0M303.59999999999997 459.5H308.2M303.59999999999997 425.0H308.2M303.59999999999997 390.5H308.2M303.59999999999997 356.0H308.2M303.59999999999997 321.5H308.2M303.59999999999997 287.0H308.2M308.3 463.5H508.5M308.3 463.5V467.5M336.9 463.5V467.5M365.5 463.5V467.5M394.1 463.5V467.5M422.7 463.5V467.5M451.3 463.5V467.5M479.9 463.5V467.5M508.5 463.5V467.5" stroke="#6a6a6a" stroke-width="0.9" fill="none"/>
<text transform="translate(301.30 462.70) scale(1.17 1)" font-size="7.5" text-anchor="end" fill="#111">0</text>
<text transform="translate(301.30 428.20) scale(1.17 1)" font-size="7.5" text-anchor="end" fill="#111">0.2</text>
<text transform="translate(301.30 393.70) scale(1.17 1)" font-size="7.5" text-anchor="end" fill="#111">0.4</text>
<text transform="translate(301.30 359.20) scale(1.17 1)" font-size="7.5" text-anchor="end" fill="#111">0.6</text>
<text transform="translate(301.30 324.70) scale(1.17 1)" font-size="7.5" text-anchor="end" fill="#111">0.8</text>
<text transform="translate(301.30 290.20) scale(1.17 1)" font-size="7.5" text-anchor="end" fill="#111">1.0</text>
<text transform="translate(308.30 480.80) scale(1.17 1)" font-size="7.5" text-anchor="middle" fill="#111">0</text>
<text transform="translate(336.90 480.80) scale(1.17 1)" font-size="7.5" text-anchor="middle" fill="#111">10</text>
<text transform="translate(365.50 480.80) scale(1.17 1)" font-size="7.5" text-anchor="middle" fill="#111">20</text>
<text transform="translate(394.10 480.80) scale(1.17 1)" font-size="7.5" text-anchor="middle" fill="#111">30</text>
<text transform="translate(422.70 480.80) scale(1.17 1)" font-size="7.5" text-anchor="middle" fill="#111">40</text>
<text transform="translate(451.30 480.80) scale(1.17 1)" font-size="7.5" text-anchor="middle" fill="#111">50</text>
<text transform="translate(479.90 480.80) scale(1.17 1)" font-size="7.5" text-anchor="middle" fill="#111">60</text>
<text transform="translate(508.50 480.80) scale(1.17 1)" font-size="7.5" text-anchor="middle" fill="#111">70</text>
<text transform="translate(276.2 375.3) rotate(-90)" font-size="8.6" text-anchor="middle" fill="#111" textLength="76.5" lengthAdjust="spacingAndGlyphs">Proportion of Cases</text>
<polyline points="308.2,287.1 313,287.8 320.2,290.1 326.3,293.1 336.3,295.1 346.3,297.1 354.5,299 367.1,301.3 379.8,304.4 390.6,306.2 397.8,308.6 406.9,311.6 414.1,313.4 419.5,316.5 420,318.3 429.6,321.2 439.2,324 448.8,326 456.5,326.9 460.4,331.7 466.2,334.6 471,340.4 474.8,343.3 519,343.3" fill="none" stroke="rgb(24,196,24)" stroke-width="2"/>
<path d="M370.0 299.5v5M375.5 300.8v5M380.5 302.0v5M385.0 302.8v5M388.3 303.3v5M391.4 304.0v5M394.6 305.0v5M397.1 305.9v5M401.9 307.4v5M405.5 308.6v5M410.5 310.0v5M414.0 310.9v5M419.4 313.9v5M424.4 317.1v5M426.7 317.8v5M429.7 318.7v5M434.9 320.2v5M438.7 321.3v5M444.1 322.5v5M447.7 323.3v5M450.2 323.7v5M454.5 324.2v5M459.3 327.9v5M462.5 330.2v5M465.1 331.5v5M468.4 334.8v5M473.8 340.1v5M478.5 340.8v5M481.2 340.8v5M484.3 340.8v5M486.9 340.8v5M489.4 340.8v5M494.3 340.8v5M497.1 340.8v5M501.2 340.8v5M505.0 340.8v5M507.9 340.8v5M512.5 340.8v5M515.2 340.8v5" stroke="rgb(20,160,20)" stroke-width="0.8"/>
<path d="M308.2 287.1H315.2V290.1H323.3V294H324.5V298H326V302H327.5V305H329.5V307.5H331.5V309.5H334V311H336.3V313H338.5V316H340V319H341.5V322.5H342.5V326.5H344V330H345.4V332.4H349V335H350.5V338H352V340H353.6V341.6H356.3V343.5H357.3V346H358.1V349H359V351.5H359.9V353.8H366V356.9H367.8V359H369V361.2H369.8V363.5H370.4V365.9H376.6V369.5H377.3V373.4H382.5V375.5H384V377.7H385.5V381.2H386.2V384.5H386.8V388.1H410.5V393.3H421.6V396.5H422.5V400.2H439.8V408H467.7" fill="none" stroke="#d4182c" stroke-width="2.2"/>
<path d="M394 385.8v4.6M405 385.8v4.6M406.5 385.8v4.6M421 391v4.6M444 405.7v4.6M450 405.7v4.6M452 405.7v4.6" stroke="#d4182c" stroke-width="0.8"/>
<path d="M316.3 445.5H330.1" stroke="rgb(24,196,24)" stroke-width="2"/><path d="M316.3 454.6H330.1" stroke="#d4182c" stroke-width="2"/>
<text x="0.95" y="14.75" font-size="17.5" fill="#000" textLength="14.65" lengthAdjust="spacingAndGlyphs">A</text>
<text x="268.60" y="15.15" font-size="17.5" fill="#000" textLength="12.65" lengthAdjust="spacingAndGlyphs">B</text>
<text x="0.70" y="288.60" font-size="17.5" fill="#000" textLength="12.00" lengthAdjust="spacingAndGlyphs">C</text>
<text x="269.71" y="286.52" font-size="17.5" fill="#000" textLength="11.59" lengthAdjust="spacingAndGlyphs">D</text>
<text x="350.72" y="28.08" font-size="11.2" fill="#111" textLength="29.62" lengthAdjust="spacingAndGlyphs">86.9%</text>
<text x="401.69" y="28.08" font-size="11.2" fill="#111" textLength="28.61" lengthAdjust="spacingAndGlyphs">13.1%</text>
<text x="382.63" y="15.26" font-size="7.3" fill="#111" textLength="14.70" lengthAdjust="spacingAndGlyphs">0.66</text>
<text x="325.66" y="241.08" font-size="10" fill="#111" textLength="118.67" lengthAdjust="spacingAndGlyphs">Log<tspan font-size="6.5" dy="2.2">2</tspan><tspan dy="-2.2"> Geometric Mean Ratio</tspan></text>
<text x="311.67" y="251.87" font-size="8.3" fill="#111" textLength="170.63" lengthAdjust="spacingAndGlyphs">(mean up-regulated / mean down-regulated)</text>
<text x="83.68" y="496.33" font-size="8.9" fill="#111" textLength="112.62" lengthAdjust="spacingAndGlyphs">Months from Start of Therapy</text>
<text x="351.70" y="496.31" font-size="8.9" fill="#111" textLength="110.69" lengthAdjust="spacingAndGlyphs">Months from Start of Therapy</text>
<text x="58.70" y="448.77" font-size="7.9" fill="#111" textLength="27.65" lengthAdjust="spacingAndGlyphs">Low Risk</text>
<text x="58.70" y="457.77" font-size="7.9" fill="#111" textLength="29.67" lengthAdjust="spacingAndGlyphs">High Risk</text>
<text x="106.66" y="441.72" font-size="7.9" fill="#111" textLength="29.67" lengthAdjust="spacingAndGlyphs">Events/N</text>
<text x="108.50" y="448.79" font-size="7.9" fill="#111" textLength="26.60" lengthAdjust="spacingAndGlyphs">111/305</text>
<text x="108.50" y="457.59" font-size="7.9" fill="#111" textLength="18.05" lengthAdjust="spacingAndGlyphs">37/46</text>
<text x="152.62" y="441.72" font-size="7.9" fill="#111" textLength="43.66" lengthAdjust="spacingAndGlyphs"><tspan font-style="italic">Median</tspan> (mo)</text>
<text x="163.70" y="449.50" font-size="7.9" fill="#111" textLength="13.69" lengthAdjust="spacingAndGlyphs">-----</text>
<text x="162.63" y="457.79" font-size="7.9" fill="#111" textLength="12.69" lengthAdjust="spacingAndGlyphs">16.7</text>
<text x="167.67" y="399.39" font-size="8.9" fill="#111" textLength="63.65" lengthAdjust="spacingAndGlyphs"><tspan font-style="italic">P</tspan> &lt; .001, HR 4.51</text>
<text x="338.70" y="448.36" font-size="8.9" fill="#111" textLength="32.59" lengthAdjust="spacingAndGlyphs">Low Risk</text>
<text x="338.70" y="457.71" font-size="8.9" fill="#111" textLength="34.60" lengthAdjust="spacingAndGlyphs">High Risk</text>
<text x="385.90" y="439.71" font-size="8.9" fill="#111" textLength="40.60" lengthAdjust="spacingAndGlyphs">Deaths/N</text>
<text x="428.80" y="439.71" font-size="8.9" fill="#111" textLength="51.10" lengthAdjust="spacingAndGlyphs">Median (mo)</text>
<text x="390.70" y="448.76" font-size="8.9" fill="#111" textLength="26.40" lengthAdjust="spacingAndGlyphs">66/305</text>
<text x="441.71" y="447.60" font-size="8.9" fill="#111" textLength="11.65" lengthAdjust="spacingAndGlyphs">----</text>
<text x="390.70" y="458.31" font-size="8.9" fill="#111" textLength="22.20" lengthAdjust="spacingAndGlyphs">30/46</text>
<text x="442.61" y="457.41" font-size="8.9" fill="#111" textLength="7.77" lengthAdjust="spacingAndGlyphs">24</text>
<text x="448.65" y="375.49" font-size="8.9" fill="#111" textLength="63.64" lengthAdjust="spacingAndGlyphs"><tspan font-style="italic">P</tspan> &lt; .001, HR 5.16</text>
</svg></body></html>
